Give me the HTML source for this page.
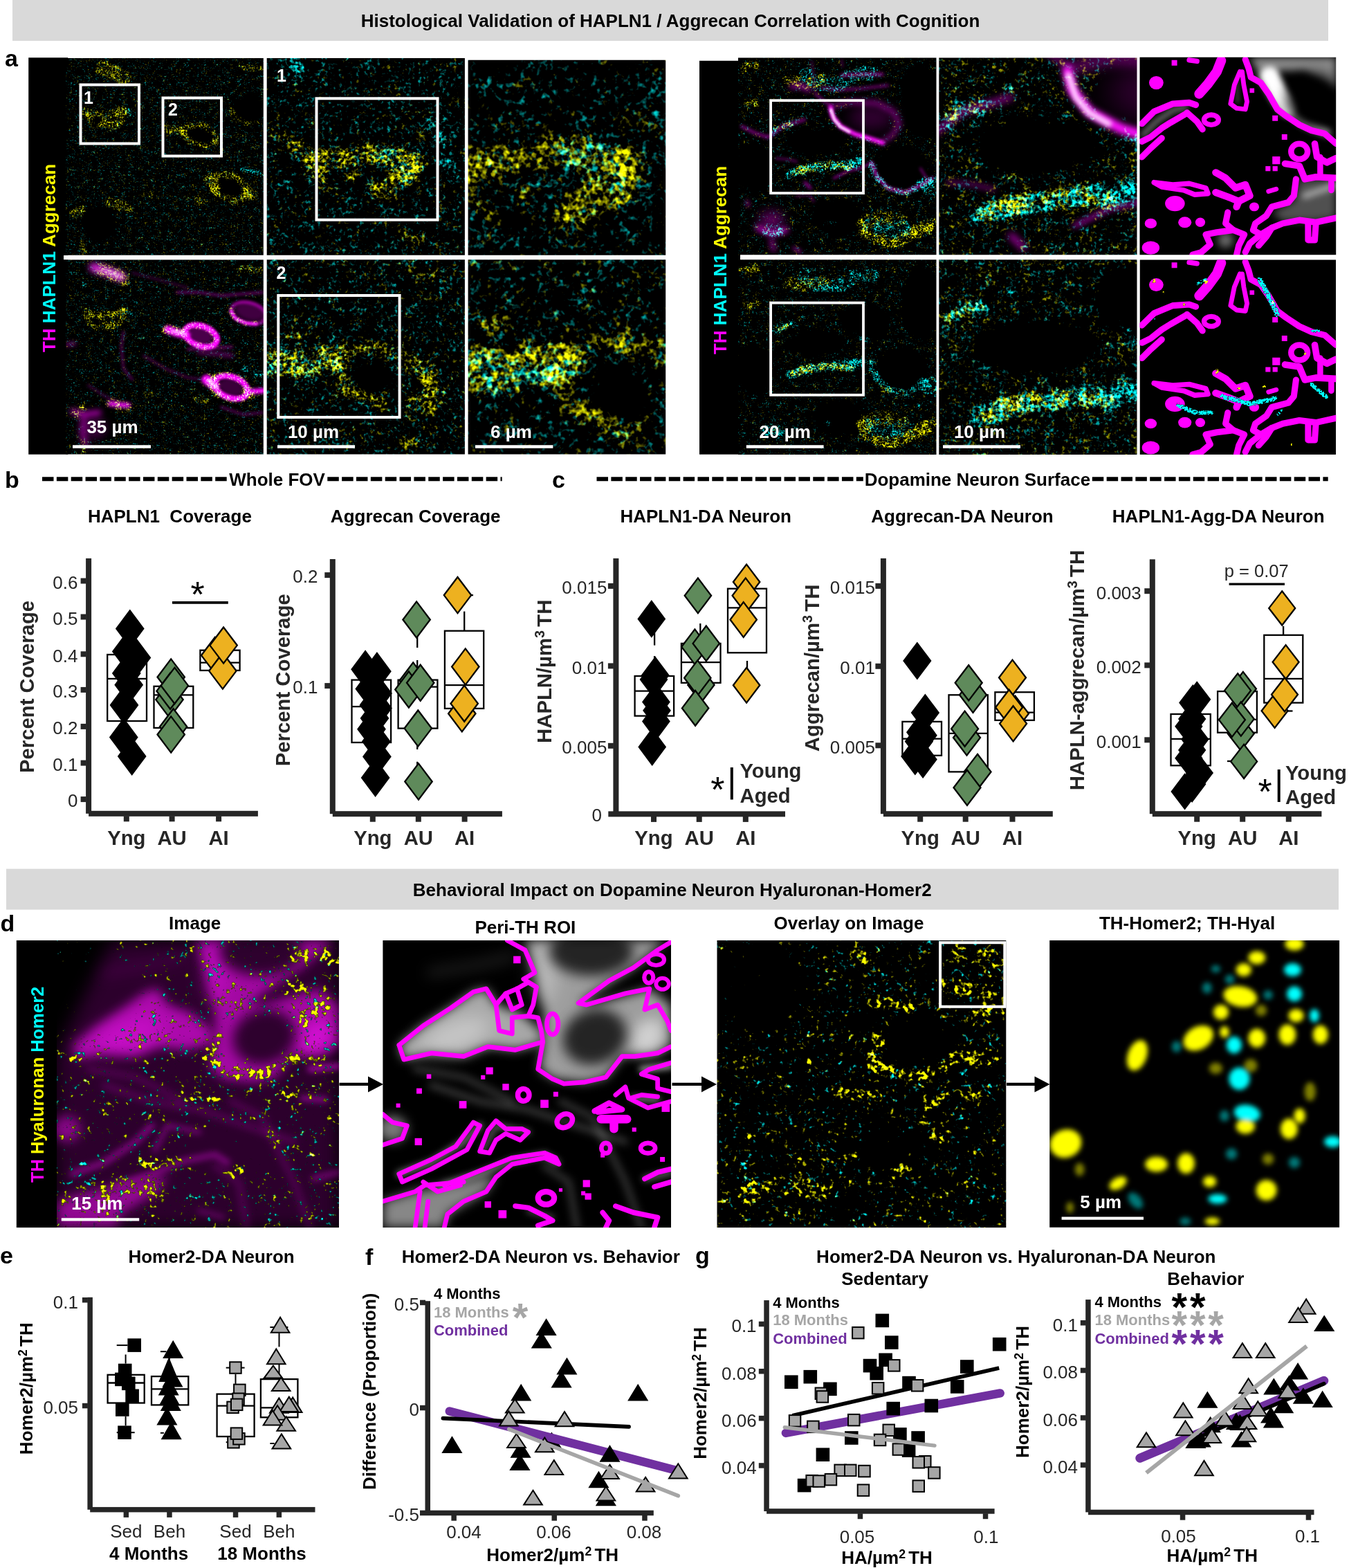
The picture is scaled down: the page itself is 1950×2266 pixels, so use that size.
<!DOCTYPE html><html><head><meta charset="utf-8"><title>Figure</title><style>html,body{margin:0;padding:0;background:#fff}body{width:1950px;height:2266px;overflow:hidden}</style></head><body><svg width="1950" height="2266" viewBox="0 0 1950 2266" font-family="'Liberation Sans', sans-serif" style="display:block"><defs><clipPath id="cp1"><rect x="95.3" y="84" width="285.5" height="284.7"/></clipPath><filter id="fl1" filterUnits="userSpaceOnUse" x="95.3" y="84" width="285.5" height="284.7" color-interpolation-filters="sRGB"><feGaussianBlur in="SourceGraphic" stdDeviation="1.6" result="d"/><feTurbulence type="fractalNoise" baseFrequency="0.42" numOctaves="2" seed="3" result="t0"/><feColorMatrix in="t0" type="matrix" values="1 0 0 0 0  0 1 0 0 0  0 0 1 0 0  0 0 0 0 1" result="t"/><feTurbulence type="fractalNoise" baseFrequency="0.120" numOctaves="2" seed="10" result="c0"/><feColorMatrix in="c0" type="matrix" values="1 0 0 0 0  0 1 0 0 0  0 0 1 0 0  0 0 0 0 1" result="c"/><feComposite in="t" in2="c" operator="arithmetic" k1="1.0" k2="0.5" k3="0" k4="0" result="t"/><feComposite in="t" in2="d" operator="arithmetic" k1="3.5" k2="0" k3="0" k4="-0.875" result="s"/><feColorMatrix in="s" type="matrix" values="1 0 1 0 0  1 1 0 0 0  0 1 1 0 0  0 0 0 0 1"/></filter><filter id="b4p1" filterUnits="userSpaceOnUse" x="65.3" y="54" width="345.5" height="344.7" color-interpolation-filters="sRGB"><feGaussianBlur stdDeviation="4"/></filter><filter id="b5p1" filterUnits="userSpaceOnUse" x="65.3" y="54" width="345.5" height="344.7" color-interpolation-filters="sRGB"><feGaussianBlur stdDeviation="5"/></filter><filter id="b3p1" filterUnits="userSpaceOnUse" x="65.3" y="54" width="345.5" height="344.7" color-interpolation-filters="sRGB"><feGaussianBlur stdDeviation="3"/></filter><filter id="b1_5p1" filterUnits="userSpaceOnUse" x="65.3" y="54" width="345.5" height="344.7" color-interpolation-filters="sRGB"><feGaussianBlur stdDeviation="1.5"/></filter><clipPath id="cp2"><rect x="95.3" y="375.2" width="285.5" height="281.3"/></clipPath><filter id="fl2" filterUnits="userSpaceOnUse" x="95.3" y="375.2" width="285.5" height="281.3" color-interpolation-filters="sRGB"><feGaussianBlur in="SourceGraphic" stdDeviation="1.6" result="d"/><feTurbulence type="fractalNoise" baseFrequency="0.42" numOctaves="2" seed="3" result="t0"/><feColorMatrix in="t0" type="matrix" values="1 0 0 0 0  0 1 0 0 0  0 0 1 0 0  0 0 0 0 1" result="t"/><feTurbulence type="fractalNoise" baseFrequency="0.120" numOctaves="2" seed="10" result="c0"/><feColorMatrix in="c0" type="matrix" values="1 0 0 0 0  0 1 0 0 0  0 0 1 0 0  0 0 0 0 1" result="c"/><feComposite in="t" in2="c" operator="arithmetic" k1="1.0" k2="0.5" k3="0" k4="0" result="t"/><feComposite in="t" in2="d" operator="arithmetic" k1="3.5" k2="0" k3="0" k4="-0.875" result="s"/><feColorMatrix in="s" type="matrix" values="1 0 1 0 0  1 1 0 0 0  0 1 1 0 0  0 0 0 0 1"/></filter><filter id="b1_5p2" filterUnits="userSpaceOnUse" x="65.3" y="345.2" width="345.5" height="341.3" color-interpolation-filters="sRGB"><feGaussianBlur stdDeviation="1.5"/></filter><filter id="b2p2" filterUnits="userSpaceOnUse" x="65.3" y="345.2" width="345.5" height="341.3" color-interpolation-filters="sRGB"><feGaussianBlur stdDeviation="2"/></filter><filter id="b3p2" filterUnits="userSpaceOnUse" x="65.3" y="345.2" width="345.5" height="341.3" color-interpolation-filters="sRGB"><feGaussianBlur stdDeviation="3"/></filter><filter id="b4p2" filterUnits="userSpaceOnUse" x="65.3" y="345.2" width="345.5" height="341.3" color-interpolation-filters="sRGB"><feGaussianBlur stdDeviation="4"/></filter><filter id="b2_5p2" filterUnits="userSpaceOnUse" x="65.3" y="345.2" width="345.5" height="341.3" color-interpolation-filters="sRGB"><feGaussianBlur stdDeviation="2.5"/></filter><filter id="b5p2" filterUnits="userSpaceOnUse" x="65.3" y="345.2" width="345.5" height="341.3" color-interpolation-filters="sRGB"><feGaussianBlur stdDeviation="5"/></filter><filter id="b6p2" filterUnits="userSpaceOnUse" x="65.3" y="345.2" width="345.5" height="341.3" color-interpolation-filters="sRGB"><feGaussianBlur stdDeviation="6"/></filter><clipPath id="cp3"><rect x="385.7" y="84" width="286.2" height="284.7"/></clipPath><filter id="fl3" filterUnits="userSpaceOnUse" x="385.7" y="84" width="286.2" height="284.7" color-interpolation-filters="sRGB"><feGaussianBlur in="SourceGraphic" stdDeviation="4" result="d"/><feTurbulence type="fractalNoise" baseFrequency="0.2" numOctaves="2" seed="11" result="t0"/><feColorMatrix in="t0" type="matrix" values="1 0 0 0 0  0 1 0 0 0  0 0 1 0 0  0 0 0 0 1" result="t"/><feTurbulence type="fractalNoise" baseFrequency="0.057" numOctaves="2" seed="18" result="c0"/><feColorMatrix in="c0" type="matrix" values="1 0 0 0 0  0 1 0 0 0  0 0 1 0 0  0 0 0 0 1" result="c"/><feComposite in="t" in2="c" operator="arithmetic" k1="1.0" k2="0.5" k3="0" k4="0" result="t"/><feComposite in="t" in2="d" operator="arithmetic" k1="4.0" k2="0" k3="0" k4="-1.000" result="s"/><feColorMatrix in="s" type="matrix" values="1 0 1 0 0  1 1 0 0 0  0 1 1 0 0  0 0 0 0 1"/></filter><clipPath id="cp4"><rect x="385.7" y="375.2" width="286.2" height="281.3"/></clipPath><filter id="fl4" filterUnits="userSpaceOnUse" x="385.7" y="375.2" width="286.2" height="281.3" color-interpolation-filters="sRGB"><feGaussianBlur in="SourceGraphic" stdDeviation="4" result="d"/><feTurbulence type="fractalNoise" baseFrequency="0.2" numOctaves="2" seed="12" result="t0"/><feColorMatrix in="t0" type="matrix" values="1 0 0 0 0  0 1 0 0 0  0 0 1 0 0  0 0 0 0 1" result="t"/><feTurbulence type="fractalNoise" baseFrequency="0.057" numOctaves="2" seed="19" result="c0"/><feColorMatrix in="c0" type="matrix" values="1 0 0 0 0  0 1 0 0 0  0 0 1 0 0  0 0 0 0 1" result="c"/><feComposite in="t" in2="c" operator="arithmetic" k1="1.0" k2="0.5" k3="0" k4="0" result="t"/><feComposite in="t" in2="d" operator="arithmetic" k1="4.0" k2="0" k3="0" k4="-1.000" result="s"/><feColorMatrix in="s" type="matrix" values="1 0 1 0 0  1 1 0 0 0  0 1 1 0 0  0 0 0 0 1"/></filter><filter id="b5p4" filterUnits="userSpaceOnUse" x="355.7" y="345.2" width="346.2" height="341.3" color-interpolation-filters="sRGB"><feGaussianBlur stdDeviation="5"/></filter><clipPath id="cp5"><rect x="676.6" y="86.8" width="285.6" height="281.9"/></clipPath><filter id="fl5" filterUnits="userSpaceOnUse" x="676.6" y="86.8" width="285.6" height="281.9" color-interpolation-filters="sRGB"><feGaussianBlur in="SourceGraphic" stdDeviation="6" result="d"/><feTurbulence type="fractalNoise" baseFrequency="0.125" numOctaves="2" seed="21" result="t0"/><feColorMatrix in="t0" type="matrix" values="1 0 0 0 0  0 1 0 0 0  0 0 1 0 0  0 0 0 0 1" result="t"/><feTurbulence type="fractalNoise" baseFrequency="0.036" numOctaves="2" seed="28" result="c0"/><feColorMatrix in="c0" type="matrix" values="1 0 0 0 0  0 1 0 0 0  0 0 1 0 0  0 0 0 0 1" result="c"/><feComposite in="t" in2="c" operator="arithmetic" k1="1.0" k2="0.5" k3="0" k4="0" result="t"/><feComposite in="t" in2="d" operator="arithmetic" k1="4.0" k2="0" k3="0" k4="-1.000" result="s"/><feColorMatrix in="s" type="matrix" values="1 0 1 0 0  1 1 0 0 0  0 1 1 0 0  0 0 0 0 1"/></filter><clipPath id="cp6"><rect x="676.6" y="375.2" width="285.6" height="281.3"/></clipPath><filter id="fl6" filterUnits="userSpaceOnUse" x="676.6" y="375.2" width="285.6" height="281.3" color-interpolation-filters="sRGB"><feGaussianBlur in="SourceGraphic" stdDeviation="6" result="d"/><feTurbulence type="fractalNoise" baseFrequency="0.125" numOctaves="2" seed="22" result="t0"/><feColorMatrix in="t0" type="matrix" values="1 0 0 0 0  0 1 0 0 0  0 0 1 0 0  0 0 0 0 1" result="t"/><feTurbulence type="fractalNoise" baseFrequency="0.036" numOctaves="2" seed="29" result="c0"/><feColorMatrix in="c0" type="matrix" values="1 0 0 0 0  0 1 0 0 0  0 0 1 0 0  0 0 0 0 1" result="c"/><feComposite in="t" in2="c" operator="arithmetic" k1="1.0" k2="0.5" k3="0" k4="0" result="t"/><feComposite in="t" in2="d" operator="arithmetic" k1="4.0" k2="0" k3="0" k4="-1.000" result="s"/><feColorMatrix in="s" type="matrix" values="1 0 1 0 0  1 1 0 0 0  0 1 1 0 0  0 0 0 0 1"/></filter><filter id="b8_2p6" filterUnits="userSpaceOnUse" x="646.6" y="345.2" width="345.6" height="341.3" color-interpolation-filters="sRGB"><feGaussianBlur stdDeviation="8.2"/></filter><clipPath id="cp7"><rect x="1067" y="83.5" width="286.5" height="284.7"/></clipPath><filter id="fl7" filterUnits="userSpaceOnUse" x="1067" y="83.5" width="286.5" height="284.7" color-interpolation-filters="sRGB"><feGaussianBlur in="SourceGraphic" stdDeviation="1.6" result="d"/><feTurbulence type="fractalNoise" baseFrequency="0.4" numOctaves="2" seed="5" result="t0"/><feColorMatrix in="t0" type="matrix" values="1 0 0 0 0  0 1 0 0 0  0 0 1 0 0  0 0 0 0 1" result="t"/><feTurbulence type="fractalNoise" baseFrequency="0.114" numOctaves="2" seed="12" result="c0"/><feColorMatrix in="c0" type="matrix" values="1 0 0 0 0  0 1 0 0 0  0 0 1 0 0  0 0 0 0 1" result="c"/><feComposite in="t" in2="c" operator="arithmetic" k1="1.2" k2="0.4" k3="0" k4="0" result="t"/><feComposite in="t" in2="d" operator="arithmetic" k1="4.0" k2="0" k3="0" k4="-1.000" result="s"/><feColorMatrix in="s" type="matrix" values="1 0 1 0 0  1 1 0 0 0  0 1 1 0 0  0 0 0 0 1"/></filter><filter id="b2p7" filterUnits="userSpaceOnUse" x="1037" y="53.5" width="346.5" height="344.7" color-interpolation-filters="sRGB"><feGaussianBlur stdDeviation="2"/></filter><filter id="b1_5p7" filterUnits="userSpaceOnUse" x="1037" y="53.5" width="346.5" height="344.7" color-interpolation-filters="sRGB"><feGaussianBlur stdDeviation="1.5"/></filter><filter id="b4p7" filterUnits="userSpaceOnUse" x="1037" y="53.5" width="346.5" height="344.7" color-interpolation-filters="sRGB"><feGaussianBlur stdDeviation="4"/></filter><filter id="b10p7" filterUnits="userSpaceOnUse" x="1037" y="53.5" width="346.5" height="344.7" color-interpolation-filters="sRGB"><feGaussianBlur stdDeviation="10"/></filter><filter id="b2_5p7" filterUnits="userSpaceOnUse" x="1037" y="53.5" width="346.5" height="344.7" color-interpolation-filters="sRGB"><feGaussianBlur stdDeviation="2.5"/></filter><filter id="b8p7" filterUnits="userSpaceOnUse" x="1037" y="53.5" width="346.5" height="344.7" color-interpolation-filters="sRGB"><feGaussianBlur stdDeviation="8"/></filter><filter id="b3p7" filterUnits="userSpaceOnUse" x="1037" y="53.5" width="346.5" height="344.7" color-interpolation-filters="sRGB"><feGaussianBlur stdDeviation="3"/></filter><clipPath id="cp8"><rect x="1067" y="375.3" width="286.5" height="281.6"/></clipPath><filter id="fl8" filterUnits="userSpaceOnUse" x="1067" y="375.3" width="286.5" height="281.6" color-interpolation-filters="sRGB"><feGaussianBlur in="SourceGraphic" stdDeviation="1.6" result="d"/><feTurbulence type="fractalNoise" baseFrequency="0.4" numOctaves="2" seed="5" result="t0"/><feColorMatrix in="t0" type="matrix" values="1 0 0 0 0  0 1 0 0 0  0 0 1 0 0  0 0 0 0 1" result="t"/><feTurbulence type="fractalNoise" baseFrequency="0.114" numOctaves="2" seed="12" result="c0"/><feColorMatrix in="c0" type="matrix" values="1 0 0 0 0  0 1 0 0 0  0 0 1 0 0  0 0 0 0 1" result="c"/><feComposite in="t" in2="c" operator="arithmetic" k1="1.2" k2="0.4" k3="0" k4="0" result="t"/><feComposite in="t" in2="d" operator="arithmetic" k1="4.0" k2="0" k3="0" k4="-1.000" result="s"/><feColorMatrix in="s" type="matrix" values="1 0 1 0 0  1 1 0 0 0  0 1 1 0 0  0 0 0 0 1"/></filter><filter id="b3p8" filterUnits="userSpaceOnUse" x="1037" y="345.3" width="346.5" height="341.6" color-interpolation-filters="sRGB"><feGaussianBlur stdDeviation="3"/></filter><filter id="b4p8" filterUnits="userSpaceOnUse" x="1037" y="345.3" width="346.5" height="341.6" color-interpolation-filters="sRGB"><feGaussianBlur stdDeviation="4"/></filter><clipPath id="cp9"><rect x="1357.3" y="83.5" width="286.2" height="284.7"/></clipPath><filter id="fl9" filterUnits="userSpaceOnUse" x="1357.3" y="83.5" width="286.2" height="284.7" color-interpolation-filters="sRGB"><feGaussianBlur in="SourceGraphic" stdDeviation="3.5" result="d"/><feTurbulence type="fractalNoise" baseFrequency="0.2" numOctaves="2" seed="6" result="t0"/><feColorMatrix in="t0" type="matrix" values="1 0 0 0 0  0 1 0 0 0  0 0 1 0 0  0 0 0 0 1" result="t"/><feTurbulence type="fractalNoise" baseFrequency="0.057" numOctaves="2" seed="13" result="c0"/><feColorMatrix in="c0" type="matrix" values="1 0 0 0 0  0 1 0 0 0  0 0 1 0 0  0 0 0 0 1" result="c"/><feComposite in="t" in2="c" operator="arithmetic" k1="1.2" k2="0.4" k3="0" k4="0" result="t"/><feComposite in="t" in2="d" operator="arithmetic" k1="4.0" k2="0" k3="0" k4="-1.000" result="s"/><feColorMatrix in="s" type="matrix" values="1 0 1 0 0  1 1 0 0 0  0 1 1 0 0  0 0 0 0 1"/></filter><filter id="b4_4p9" filterUnits="userSpaceOnUse" x="1327.3" y="53.5" width="346.2" height="344.7" color-interpolation-filters="sRGB"><feGaussianBlur stdDeviation="4.4"/></filter><filter id="b3_3p9" filterUnits="userSpaceOnUse" x="1327.3" y="53.5" width="346.2" height="344.7" color-interpolation-filters="sRGB"><feGaussianBlur stdDeviation="3.3"/></filter><filter id="b8_8p9" filterUnits="userSpaceOnUse" x="1327.3" y="53.5" width="346.2" height="344.7" color-interpolation-filters="sRGB"><feGaussianBlur stdDeviation="8.8"/></filter><filter id="b22_0p9" filterUnits="userSpaceOnUse" x="1327.3" y="53.5" width="346.2" height="344.7" color-interpolation-filters="sRGB"><feGaussianBlur stdDeviation="22.0"/></filter><filter id="b5_5p9" filterUnits="userSpaceOnUse" x="1327.3" y="53.5" width="346.2" height="344.7" color-interpolation-filters="sRGB"><feGaussianBlur stdDeviation="5.5"/></filter><filter id="b17_6p9" filterUnits="userSpaceOnUse" x="1327.3" y="53.5" width="346.2" height="344.7" color-interpolation-filters="sRGB"><feGaussianBlur stdDeviation="17.6"/></filter><filter id="b6_6p9" filterUnits="userSpaceOnUse" x="1327.3" y="53.5" width="346.2" height="344.7" color-interpolation-filters="sRGB"><feGaussianBlur stdDeviation="6.6"/></filter><clipPath id="cp10"><rect x="1357.3" y="375.3" width="286.2" height="281.6"/></clipPath><filter id="fl10" filterUnits="userSpaceOnUse" x="1357.3" y="375.3" width="286.2" height="281.6" color-interpolation-filters="sRGB"><feGaussianBlur in="SourceGraphic" stdDeviation="3.5" result="d"/><feTurbulence type="fractalNoise" baseFrequency="0.2" numOctaves="2" seed="6" result="t0"/><feColorMatrix in="t0" type="matrix" values="1 0 0 0 0  0 1 0 0 0  0 0 1 0 0  0 0 0 0 1" result="t"/><feTurbulence type="fractalNoise" baseFrequency="0.057" numOctaves="2" seed="13" result="c0"/><feColorMatrix in="c0" type="matrix" values="1 0 0 0 0  0 1 0 0 0  0 0 1 0 0  0 0 0 0 1" result="c"/><feComposite in="t" in2="c" operator="arithmetic" k1="1.2" k2="0.4" k3="0" k4="0" result="t"/><feComposite in="t" in2="d" operator="arithmetic" k1="4.0" k2="0" k3="0" k4="-1.000" result="s"/><feColorMatrix in="s" type="matrix" values="1 0 1 0 0  1 1 0 0 0  0 1 1 0 0  0 0 0 0 1"/></filter><filter id="b6_6p10" filterUnits="userSpaceOnUse" x="1327.3" y="345.3" width="346.2" height="341.6" color-interpolation-filters="sRGB"><feGaussianBlur stdDeviation="6.6"/></filter><filter id="b8_8p10" filterUnits="userSpaceOnUse" x="1327.3" y="345.3" width="346.2" height="341.6" color-interpolation-filters="sRGB"><feGaussianBlur stdDeviation="8.8"/></filter><clipPath id="cp11"><rect x="1647.5" y="82.8" width="283.7" height="285.4"/></clipPath><filter id="fl11" filterUnits="userSpaceOnUse" x="1647.5" y="82.8" width="283.7" height="285.4" color-interpolation-filters="sRGB"><feGaussianBlur in="SourceGraphic" stdDeviation="3" result="d"/><feTurbulence type="fractalNoise" baseFrequency="0.3" numOctaves="2" seed="1" result="t0"/><feColorMatrix in="t0" type="matrix" values="1 0 0 0 0  0 1 0 0 0  0 0 1 0 0  0 0 0 0 1" result="t"/><feComposite in="t" in2="d" operator="arithmetic" k1="4.0" k2="0" k3="0" k4="-1.000" result="s"/><feColorMatrix in="s" type="matrix" values="1 0 1 0 0  1 1 0 0 0  0 1 1 0 0  0 0 0 0 1"/></filter><filter id="b6p11" filterUnits="userSpaceOnUse" x="1617.5" y="52.8" width="343.7" height="345.4" color-interpolation-filters="sRGB"><feGaussianBlur stdDeviation="6"/></filter><filter id="b4p11" filterUnits="userSpaceOnUse" x="1617.5" y="52.8" width="343.7" height="345.4" color-interpolation-filters="sRGB"><feGaussianBlur stdDeviation="4"/></filter><filter id="b5p11" filterUnits="userSpaceOnUse" x="1617.5" y="52.8" width="343.7" height="345.4" color-interpolation-filters="sRGB"><feGaussianBlur stdDeviation="5"/></filter><filter id="b10p11" filterUnits="userSpaceOnUse" x="1617.5" y="52.8" width="343.7" height="345.4" color-interpolation-filters="sRGB"><feGaussianBlur stdDeviation="10"/></filter><filter id="b3p11" filterUnits="userSpaceOnUse" x="1617.5" y="52.8" width="343.7" height="345.4" color-interpolation-filters="sRGB"><feGaussianBlur stdDeviation="3"/></filter><clipPath id="cp12"><rect x="1647.5" y="375.3" width="283.7" height="281.6"/></clipPath><filter id="fl12" filterUnits="userSpaceOnUse" x="1647.5" y="375.3" width="283.7" height="281.6" color-interpolation-filters="sRGB"><feGaussianBlur in="SourceGraphic" stdDeviation="1.5" result="d"/><feTurbulence type="fractalNoise" baseFrequency="0.35" numOctaves="2" seed="9" result="t0"/><feColorMatrix in="t0" type="matrix" values="1 0 0 0 0  0 1 0 0 0  0 0 1 0 0  0 0 0 0 1" result="t"/><feComposite in="t" in2="d" operator="arithmetic" k1="8" k2="0" k3="0" k4="-2.400" result="s"/><feColorMatrix in="s" type="matrix" values="1 0 1 0 0  1 1 0 0 0  0 1 1 0 0  3 3 3 0 0"/></filter><clipPath id="cp13"><rect x="82" y="1359" width="408" height="415"/></clipPath><filter id="fl13" filterUnits="userSpaceOnUse" x="82" y="1359" width="408" height="415" color-interpolation-filters="sRGB"><feGaussianBlur in="SourceGraphic" stdDeviation="2.2" result="d"/><feTurbulence type="fractalNoise" baseFrequency="0.15" numOctaves="2" seed="31" result="t0"/><feColorMatrix in="t0" type="matrix" values="1 0 0 0 0  0 1 0 0 0  0 0 1 0 0  0 0 0 0 1" result="t"/><feTurbulence type="fractalNoise" baseFrequency="0.043" numOctaves="2" seed="38" result="c0"/><feColorMatrix in="c0" type="matrix" values="1 0 0 0 0  0 1 0 0 0  0 0 1 0 0  0 0 0 0 1" result="c"/><feComposite in="t" in2="c" operator="arithmetic" k1="0.8" k2="0.6" k3="0" k4="0" result="t"/><feComposite in="t" in2="d" operator="arithmetic" k1="12" k2="0" k3="0" k4="-2.580" result="s"/><feColorMatrix in="s" type="matrix" values="1 0 1 0 0  1 1 0 0 0  0 1 1 0 0  3 3 3 0 0"/></filter><filter id="b12p13" filterUnits="userSpaceOnUse" x="52" y="1329" width="468" height="475" color-interpolation-filters="sRGB"><feGaussianBlur stdDeviation="12"/></filter><filter id="b8p13" filterUnits="userSpaceOnUse" x="52" y="1329" width="468" height="475" color-interpolation-filters="sRGB"><feGaussianBlur stdDeviation="8"/></filter><filter id="b14p13" filterUnits="userSpaceOnUse" x="52" y="1329" width="468" height="475" color-interpolation-filters="sRGB"><feGaussianBlur stdDeviation="14"/></filter><filter id="b10p13" filterUnits="userSpaceOnUse" x="52" y="1329" width="468" height="475" color-interpolation-filters="sRGB"><feGaussianBlur stdDeviation="10"/></filter><filter id="b5p13" filterUnits="userSpaceOnUse" x="52" y="1329" width="468" height="475" color-interpolation-filters="sRGB"><feGaussianBlur stdDeviation="5"/></filter><filter id="b6p13" filterUnits="userSpaceOnUse" x="52" y="1329" width="468" height="475" color-interpolation-filters="sRGB"><feGaussianBlur stdDeviation="6"/></filter><filter id="b9p13" filterUnits="userSpaceOnUse" x="52" y="1329" width="468" height="475" color-interpolation-filters="sRGB"><feGaussianBlur stdDeviation="9"/></filter><clipPath id="cp14"><rect x="553.4" y="1359" width="416.6" height="415"/></clipPath><filter id="fl14" filterUnits="userSpaceOnUse" x="553.4" y="1359" width="416.6" height="415" color-interpolation-filters="sRGB"><feGaussianBlur in="SourceGraphic" stdDeviation="3" result="d"/><feTurbulence type="fractalNoise" baseFrequency="0.3" numOctaves="2" seed="1" result="t0"/><feColorMatrix in="t0" type="matrix" values="1 0 0 0 0  0 1 0 0 0  0 0 1 0 0  0 0 0 0 1" result="t"/><feComposite in="t" in2="d" operator="arithmetic" k1="4.0" k2="0" k3="0" k4="-1.000" result="s"/><feColorMatrix in="s" type="matrix" values="1 0 1 0 0  1 1 0 0 0  0 1 1 0 0  0 0 0 0 1"/></filter><filter id="b8p14" filterUnits="userSpaceOnUse" x="523.4" y="1329" width="476.6" height="475" color-interpolation-filters="sRGB"><feGaussianBlur stdDeviation="8"/></filter><filter id="b14p14" filterUnits="userSpaceOnUse" x="523.4" y="1329" width="476.6" height="475" color-interpolation-filters="sRGB"><feGaussianBlur stdDeviation="14"/></filter><filter id="b10p14" filterUnits="userSpaceOnUse" x="523.4" y="1329" width="476.6" height="475" color-interpolation-filters="sRGB"><feGaussianBlur stdDeviation="10"/></filter><filter id="b12p14" filterUnits="userSpaceOnUse" x="523.4" y="1329" width="476.6" height="475" color-interpolation-filters="sRGB"><feGaussianBlur stdDeviation="12"/></filter><filter id="b5p14" filterUnits="userSpaceOnUse" x="523.4" y="1329" width="476.6" height="475" color-interpolation-filters="sRGB"><feGaussianBlur stdDeviation="5"/></filter><filter id="b6p14" filterUnits="userSpaceOnUse" x="523.4" y="1329" width="476.6" height="475" color-interpolation-filters="sRGB"><feGaussianBlur stdDeviation="6"/></filter><filter id="b9p14" filterUnits="userSpaceOnUse" x="523.4" y="1329" width="476.6" height="475" color-interpolation-filters="sRGB"><feGaussianBlur stdDeviation="9"/></filter><clipPath id="cp15"><rect x="1036.5" y="1359" width="417.8" height="415"/></clipPath><filter id="fl15" filterUnits="userSpaceOnUse" x="1036.5" y="1359" width="417.8" height="415" color-interpolation-filters="sRGB"><feGaussianBlur in="SourceGraphic" stdDeviation="2.2" result="d"/><feTurbulence type="fractalNoise" baseFrequency="0.15" numOctaves="2" seed="31" result="t0"/><feColorMatrix in="t0" type="matrix" values="1 0 0 0 0  0 1 0 0 0  0 0 1 0 0  0 0 0 0 1" result="t"/><feTurbulence type="fractalNoise" baseFrequency="0.043" numOctaves="2" seed="38" result="c0"/><feColorMatrix in="c0" type="matrix" values="1 0 0 0 0  0 1 0 0 0  0 0 1 0 0  0 0 0 0 1" result="c"/><feComposite in="t" in2="c" operator="arithmetic" k1="0.8" k2="0.6" k3="0" k4="0" result="t"/><feComposite in="t" in2="d" operator="arithmetic" k1="12" k2="0" k3="0" k4="-2.580" result="s"/><feColorMatrix in="s" type="matrix" values="1 0 1 0 0  1 1 0 0 0  0 1 1 0 0  0 0 0 0 1"/></filter><filter id="b8p15" filterUnits="userSpaceOnUse" x="1006.5" y="1329" width="477.8" height="475" color-interpolation-filters="sRGB"><feGaussianBlur stdDeviation="8"/></filter><filter id="b10p15" filterUnits="userSpaceOnUse" x="1006.5" y="1329" width="477.8" height="475" color-interpolation-filters="sRGB"><feGaussianBlur stdDeviation="10"/></filter><clipPath id="cp16"><rect x="1517.2" y="1359" width="418.9" height="414.8"/></clipPath><filter id="fl16" filterUnits="userSpaceOnUse" x="1517.2" y="1359" width="418.9" height="414.8" color-interpolation-filters="sRGB"><feGaussianBlur in="SourceGraphic" stdDeviation="3" result="d"/><feTurbulence type="fractalNoise" baseFrequency="0.3" numOctaves="2" seed="1" result="t0"/><feColorMatrix in="t0" type="matrix" values="1 0 0 0 0  0 1 0 0 0  0 0 1 0 0  0 0 0 0 1" result="t"/><feComposite in="t" in2="d" operator="arithmetic" k1="4.0" k2="0" k3="0" k4="-1.000" result="s"/><feColorMatrix in="s" type="matrix" values="1 0 1 0 0  1 1 0 0 0  0 1 1 0 0  0 0 0 0 1"/></filter><filter id="b3_8p16" filterUnits="userSpaceOnUse" x="1487.2" y="1329" width="478.9" height="474.8" color-interpolation-filters="sRGB"><feGaussianBlur stdDeviation="3.8"/></filter></defs><rect x="18" y="0" width="1902" height="59" fill="#d9d9d9"/>
<text x="969" y="39" font-size="26" font-weight="bold" text-anchor="middle">Histological Validation of HAPLN1 / Aggrecan Correlation with Cognition</text>
<text x="7" y="705" font-size="34" font-weight="bold">b</text>
<line x1="61" y1="692.2" x2="329.4" y2="692.2" stroke="#000" stroke-width="6" stroke-dasharray="16.5 4.35"/>
<line x1="473.3" y1="692.2" x2="725.7" y2="692.2" stroke="#000" stroke-width="6" stroke-dasharray="16.5 4.35"/>
<text x="400.6" y="702.4" font-size="26" font-weight="bold" text-anchor="middle">Whole FOV</text>
<text x="245.4" y="755.2" font-size="26" font-weight="bold" text-anchor="middle" xml:space="preserve">HAPLN1  Coverage</text>
<text x="600.7" y="755.2" font-size="26" font-weight="bold" text-anchor="middle">Aggrecan Coverage</text>
<text x="798" y="705" font-size="34" font-weight="bold">c</text>
<line x1="862.5" y1="692.2" x2="1247.8" y2="692.2" stroke="#000" stroke-width="6" stroke-dasharray="16.5 4.35"/>
<line x1="1578.8" y1="692.2" x2="1919.7" y2="692.2" stroke="#000" stroke-width="6" stroke-dasharray="16.5 4.35"/>
<text x="1412.9" y="702.4" font-size="26" font-weight="bold" text-anchor="middle">Dopamine Neuron Surface</text>
<text x="1020.2" y="755.2" font-size="26" font-weight="bold" text-anchor="middle">HAPLN1-DA Neuron</text>
<text x="1391" y="755.2" font-size="26" font-weight="bold" text-anchor="middle">Aggrecan-DA Neuron</text>
<text x="1761.2" y="755.2" font-size="26" font-weight="bold" text-anchor="middle">HAPLN1-Agg-DA Neuron</text>
<rect x="124.1" y="806.9" width="8" height="368.9" fill="#262626"/>
<rect x="128.1" y="1171.8" width="244.8" height="8" fill="#262626"/>
<rect x="116.6" y="835.5" width="8" height="8" fill="#262626"/>
<rect x="116.6" y="887.5" width="8" height="8" fill="#262626"/>
<rect x="116.6" y="941.3" width="8" height="8" fill="#262626"/>
<rect x="116.6" y="992.9" width="8" height="8" fill="#262626"/>
<rect x="116.6" y="1045.9" width="8" height="8" fill="#262626"/>
<rect x="116.6" y="1098.6" width="8" height="8" fill="#262626"/>
<rect x="116.6" y="1151.1" width="8" height="8" fill="#262626"/>
<rect x="178.8" y="1179.3" width="8" height="8" fill="#262626"/>
<text x="182.8" y="1220.5" font-size="29.3" font-weight="bold" text-anchor="middle" fill="#262626">Yng</text>
<rect x="244.6" y="1179.3" width="8" height="8" fill="#262626"/>
<text x="248.6" y="1220.5" font-size="29.3" font-weight="bold" text-anchor="middle" fill="#262626">AU</text>
<rect x="312.1" y="1179.3" width="8" height="8" fill="#262626"/>
<text x="316.1" y="1220.5" font-size="29.3" font-weight="bold" text-anchor="middle" fill="#262626">AI</text>
<text x="112.4" y="850.8" font-size="26" text-anchor="end" fill="#262626">0.6</text>
<text x="112.4" y="902.8" font-size="26" text-anchor="end" fill="#262626">0.5</text>
<text x="112.4" y="956.6" font-size="26" text-anchor="end" fill="#262626">0.4</text>
<text x="112.4" y="1008.2" font-size="26" text-anchor="end" fill="#262626">0.3</text>
<text x="112.4" y="1061.2" font-size="26" text-anchor="end" fill="#262626">0.2</text>
<text x="112.4" y="1113.9" font-size="26" text-anchor="end" fill="#262626">0.1</text>
<text x="112.4" y="1166.4" font-size="26" text-anchor="end" fill="#262626">0</text>
<text x="48.9" y="992.5" font-size="29.3" font-weight="bold" text-anchor="middle" fill="#262626" transform="rotate(-90 48.9 992.5)">Percent Coverage</text>
<rect x="155.2" y="946" width="56.8" height="96" fill="#fff" stroke="#000" stroke-width="2.3"/>
<line x1="155.2" y1="980.8" x2="212" y2="980.8" stroke="#000" stroke-width="2.3"/>
<rect x="222.5" y="991.8" width="56.8" height="60.1" fill="#fff" stroke="#000" stroke-width="2.3"/>
<line x1="222.5" y1="1004.3" x2="279.3" y2="1004.3" stroke="#000" stroke-width="2.3"/>
<rect x="289.4" y="939.7" width="57.2" height="29.2" fill="#fff" stroke="#000" stroke-width="2.3"/>
<line x1="289.4" y1="957.7" x2="346.6" y2="957.7" stroke="#000" stroke-width="2.3"/>
<path d="M187.8 880.4L208.7 908.5L187.8 936.6L166.9 908.5Z" fill="#000"/>
<path d="M182.8 913.4L203.7 941.5L182.8 969.6L161.9 941.5Z" fill="#000"/>
<path d="M197.4 922.4L218.3 950.5L197.4 978.6L176.5 950.5Z" fill="#000"/>
<path d="M182.8 944.8L203.7 972.9L182.8 1001L161.9 972.9Z" fill="#000"/>
<path d="M186.2 961.7L207.1 989.8L186.2 1017.9L165.3 989.8Z" fill="#000"/>
<path d="M179.5 990.8L200.4 1018.9L179.5 1047L158.6 1018.9Z" fill="#000"/>
<path d="M178.8 1037.3L199.7 1065.4L178.8 1093.5L157.9 1065.4Z" fill="#000"/>
<path d="M190.7 1064.9L211.6 1093L190.7 1121.1L169.8 1093Z" fill="#000"/>
<path d="M247.2 952.4L266.9 978.5L247.2 1004.6L227.5 978.5Z" fill="#5f8a5b" stroke="#000" stroke-width="2.3" stroke-linejoin="miter"/>
<path d="M245 985L264.7 1011.1L245 1037.2L225.3 1011.1Z" fill="#5f8a5b" stroke="#000" stroke-width="2.3" stroke-linejoin="miter"/>
<path d="M246.1 972.6L265.8 998.7L246.1 1024.8L226.4 998.7Z" fill="#5f8a5b" stroke="#000" stroke-width="2.3" stroke-linejoin="miter"/>
<path d="M252.4 964.8L272.1 990.9L252.4 1017L232.7 990.9Z" fill="#5f8a5b" stroke="#000" stroke-width="2.3" stroke-linejoin="miter"/>
<path d="M250.6 1024.2L270.3 1050.3L250.6 1076.4L230.9 1050.3Z" fill="#5f8a5b" stroke="#000" stroke-width="2.3" stroke-linejoin="miter"/>
<path d="M247.2 1035.4L266.9 1061.5L247.2 1087.6L227.5 1061.5Z" fill="#5f8a5b" stroke="#000" stroke-width="2.3" stroke-linejoin="miter"/>
<path d="M310.7 921L330.4 947.1L310.7 973.2L291 947.1Z" fill="#edb120" stroke="#000" stroke-width="2.3" stroke-linejoin="miter"/>
<path d="M321.9 943.5L341.6 969.6L321.9 995.7L302.2 969.6Z" fill="#edb120" stroke="#000" stroke-width="2.3" stroke-linejoin="miter"/>
<path d="M323.1 906.5L342.8 932.6L323.1 958.7L303.4 932.6Z" fill="#edb120" stroke="#000" stroke-width="2.3" stroke-linejoin="miter"/>
<line x1="249" y1="870.9" x2="329.8" y2="870.9" stroke="#000" stroke-width="3.6"/>
<text x="285.6" y="877" font-size="52" text-anchor="middle">*</text>
<rect x="476.8" y="808" width="8" height="368.2" fill="#262626"/>
<rect x="480.8" y="1172.2" width="245.1" height="8" fill="#262626"/>
<rect x="469.3" y="827.1" width="8" height="8" fill="#262626"/>
<rect x="469.3" y="987.1" width="8" height="8" fill="#262626"/>
<rect x="534.8" y="1179.7" width="8" height="8" fill="#262626"/>
<text x="538.8" y="1220.5" font-size="29.3" font-weight="bold" text-anchor="middle" fill="#262626">Yng</text>
<rect x="600.8" y="1179.7" width="8" height="8" fill="#262626"/>
<text x="604.8" y="1220.5" font-size="29.3" font-weight="bold" text-anchor="middle" fill="#262626">AU</text>
<rect x="667.6" y="1179.7" width="8" height="8" fill="#262626"/>
<text x="671.6" y="1220.5" font-size="29.3" font-weight="bold" text-anchor="middle" fill="#262626">AI</text>
<text x="459.4" y="842.4" font-size="26" text-anchor="end" fill="#262626">0.2</text>
<text x="459.4" y="1002.4" font-size="26" text-anchor="end" fill="#262626">0.1</text>
<text x="419.3" y="982.7" font-size="29.3" font-weight="bold" text-anchor="middle" fill="#262626" transform="rotate(-90 419.3 982.7)">Percent Coverage</text>
<line x1="603.2" y1="918.6" x2="603.2" y2="936" stroke="#000" stroke-width="2.3"/>
<line x1="603.2" y1="954" x2="603.2" y2="966" stroke="#000" stroke-width="2.3"/>
<line x1="603.2" y1="1073.9" x2="603.2" y2="1083" stroke="#000" stroke-width="2.3"/>
<line x1="603.2" y1="1100.8" x2="603.2" y2="1107.5" stroke="#000" stroke-width="2.3"/>
<line x1="671.2" y1="883.6" x2="671.2" y2="911.7" stroke="#000" stroke-width="2.3"/>
<line x1="680" y1="860.1" x2="684" y2="860.1" stroke="#000" stroke-width="2.3"/>
<rect x="508.5" y="982.6" width="56.6" height="90.4" fill="#fff" stroke="#000" stroke-width="2.3"/>
<line x1="508.5" y1="1021.2" x2="565.1" y2="1021.2" stroke="#000" stroke-width="2.3"/>
<rect x="575.6" y="982.6" width="56.8" height="70" fill="#fff" stroke="#000" stroke-width="2.3"/>
<line x1="575.6" y1="992.7" x2="632.4" y2="992.7" stroke="#000" stroke-width="2.3"/>
<rect x="642.9" y="911.7" width="56.3" height="112.2" fill="#fff" stroke="#000" stroke-width="2.3"/>
<line x1="642.9" y1="990.2" x2="699.2" y2="990.2" stroke="#000" stroke-width="2.3"/>
<path d="M528.1 939.2L549 967.3L528.1 995.4L507.2 967.3Z" fill="#000"/>
<path d="M544.9 942.1L565.8 970.2L544.9 998.3L524 970.2Z" fill="#000"/>
<path d="M534.3 967.3L555.2 995.4L534.3 1023.5L513.4 995.4Z" fill="#000"/>
<path d="M540.4 990.8L561.3 1018.9L540.4 1047L519.5 1018.9Z" fill="#000"/>
<path d="M546 995.3L566.9 1023.4L546 1051.5L525.1 1023.4Z" fill="#000"/>
<path d="M537 1025.6L557.9 1053.7L537 1081.8L516.1 1053.7Z" fill="#000"/>
<path d="M544.9 1065.3L565.8 1093.4L544.9 1121.5L524 1093.4Z" fill="#000"/>
<path d="M542.6 1095.8L563.5 1123.9L542.6 1152L521.7 1123.9Z" fill="#000"/>
<path d="M546 974L566.9 1002.1L546 1030.2L525.1 1002.1Z" fill="#000"/>
<path d="M541.5 1009.9L562.4 1038L541.5 1066.1L520.6 1038Z" fill="#000"/>
<path d="M543.8 1043.5L564.7 1071.6L543.8 1099.7L522.9 1071.6Z" fill="#000"/>
<path d="M602.1 869.4L621.8 895.5L602.1 921.6L582.4 895.5Z" fill="#5f8a5b" stroke="#000" stroke-width="2.3" stroke-linejoin="miter"/>
<path d="M597.2 957.4L616.9 983.5L597.2 1009.6L577.5 983.5Z" fill="#5f8a5b" stroke="#000" stroke-width="2.3" stroke-linejoin="miter"/>
<path d="M590.9 970.4L610.6 996.5L590.9 1022.6L571.2 996.5Z" fill="#5f8a5b" stroke="#000" stroke-width="2.3" stroke-linejoin="miter"/>
<path d="M607.7 960.7L627.4 986.8L607.7 1012.9L588 986.8Z" fill="#5f8a5b" stroke="#000" stroke-width="2.3" stroke-linejoin="miter"/>
<path d="M604.3 1026.5L624 1052.6L604.3 1078.7L584.6 1052.6Z" fill="#5f8a5b" stroke="#000" stroke-width="2.3" stroke-linejoin="miter"/>
<path d="M605 1103.4L624.7 1129.5L605 1155.6L585.3 1129.5Z" fill="#5f8a5b" stroke="#000" stroke-width="2.3" stroke-linejoin="miter"/>
<path d="M661.5 834L681.2 860.1L661.5 886.2L641.8 860.1Z" fill="#edb120" stroke="#000" stroke-width="2.3" stroke-linejoin="miter"/>
<path d="M672.8 937.4L692.5 963.5L672.8 989.6L653.1 963.5Z" fill="#edb120" stroke="#000" stroke-width="2.3" stroke-linejoin="miter"/>
<path d="M667.8 1005.2L687.5 1031.3L667.8 1057.4L648.1 1031.3Z" fill="#edb120" stroke="#000" stroke-width="2.3" stroke-linejoin="miter"/>
<path d="M671.2 990.6L690.9 1016.7L671.2 1042.8L651.5 1016.7Z" fill="#edb120" stroke="#000" stroke-width="2.3" stroke-linejoin="miter"/>
<rect x="886.4" y="806.9" width="8" height="369.5" fill="#262626"/>
<rect x="879.3" y="1172.4" width="255.7" height="8" fill="#262626"/>
<rect x="878.9" y="842.9" width="8" height="8" fill="#262626"/>
<rect x="878.9" y="958.4" width="8" height="8" fill="#262626"/>
<rect x="878.9" y="1073.8" width="8" height="8" fill="#262626"/>
<rect x="941" y="1179.9" width="8" height="8" fill="#262626"/>
<text x="945" y="1220.5" font-size="29.3" font-weight="bold" text-anchor="middle" fill="#262626">Yng</text>
<rect x="1006.7" y="1179.9" width="8" height="8" fill="#262626"/>
<text x="1010.7" y="1220.5" font-size="29.3" font-weight="bold" text-anchor="middle" fill="#262626">AU</text>
<rect x="1073.8" y="1179.9" width="8" height="8" fill="#262626"/>
<text x="1077.8" y="1220.5" font-size="29.3" font-weight="bold" text-anchor="middle" fill="#262626">AI</text>
<text x="877.4" y="858.2" font-size="26" text-anchor="end" fill="#262626">0.015</text>
<text x="877.4" y="973.7" font-size="26" text-anchor="end" fill="#262626">0.01</text>
<text x="877.4" y="1089.1" font-size="26" text-anchor="end" fill="#262626">0.005</text>
<text x="870" y="1187.3" font-size="26" text-anchor="end" fill="#262626">0</text>
<text x="796.9" y="970.3" font-size="29.3" font-weight="bold" text-anchor="middle" fill="#262626" transform="rotate(-90 796.9 970.3)">HAPLN/µm<tspan font-size="19.9" dy="-10">3</tspan><tspan dy="10" dx="-3"> TH</tspan></text>
<line x1="946.1" y1="914.6" x2="946.1" y2="932.6" stroke="#000" stroke-width="2.3"/>
<line x1="946.1" y1="948" x2="946.1" y2="958" stroke="#000" stroke-width="2.3"/>
<line x1="1012.3" y1="901" x2="1012.3" y2="929.9" stroke="#000" stroke-width="2.3"/>
<line x1="1080" y1="955" x2="1080" y2="967" stroke="#000" stroke-width="2.3"/>
<rect x="917.6" y="977" width="56.5" height="57.6" fill="#fff" stroke="#000" stroke-width="2.3"/>
<line x1="917.6" y1="998.7" x2="974.1" y2="998.7" stroke="#000" stroke-width="2.3"/>
<rect x="984.9" y="929.9" width="56.6" height="56.9" fill="#fff" stroke="#000" stroke-width="2.3"/>
<line x1="984.9" y1="957.2" x2="1041.5" y2="957.2" stroke="#000" stroke-width="2.3"/>
<rect x="1052" y="850.7" width="56" height="92.6" fill="#fff" stroke="#000" stroke-width="2.3"/>
<line x1="1052" y1="878.3" x2="1108" y2="878.3" stroke="#000" stroke-width="2.3"/>
<path d="M941.8 867L962.2 894.4L941.8 921.8L921.4 894.4Z" fill="#000"/>
<path d="M947.2 948.4L967.6 975.8L947.2 1003.2L926.8 975.8Z" fill="#000"/>
<path d="M945 954.5L965.4 981.9L945 1009.3L924.6 981.9Z" fill="#000"/>
<path d="M948.4 987L968.8 1014.4L948.4 1041.8L928 1014.4Z" fill="#000"/>
<path d="M949.5 999.4L969.9 1026.8L949.5 1054.2L929.1 1026.8Z" fill="#000"/>
<path d="M948.4 1015.1L968.8 1042.5L948.4 1069.9L928 1042.5Z" fill="#000"/>
<path d="M942.7 1052.1L963.1 1079.5L942.7 1106.9L922.3 1079.5Z" fill="#000"/>
<path d="M1008.9 835.4L1028.1 860.8L1008.9 886.2L989.7 860.8Z" fill="#5f8a5b" stroke="#000" stroke-width="2.3" stroke-linejoin="miter"/>
<path d="M1004.4 909.4L1023.6 934.8L1004.4 960.2L985.2 934.8Z" fill="#5f8a5b" stroke="#000" stroke-width="2.3" stroke-linejoin="miter"/>
<path d="M1020.8 904.5L1040 929.9L1020.8 955.3L1001.6 929.9Z" fill="#5f8a5b" stroke="#000" stroke-width="2.3" stroke-linejoin="miter"/>
<path d="M1013.4 964.4L1032.6 989.8L1013.4 1015.2L994.2 989.8Z" fill="#5f8a5b" stroke="#000" stroke-width="2.3" stroke-linejoin="miter"/>
<path d="M1008.3 954.3L1027.5 979.7L1008.3 1005.1L989.1 979.7Z" fill="#5f8a5b" stroke="#000" stroke-width="2.3" stroke-linejoin="miter"/>
<path d="M1005.1 998L1024.3 1023.4L1005.1 1048.8L985.9 1023.4Z" fill="#5f8a5b" stroke="#000" stroke-width="2.3" stroke-linejoin="miter"/>
<path d="M1079.1 815.6L1098.3 841L1079.1 866.4L1059.9 841Z" fill="#edb120" stroke="#000" stroke-width="2.3" stroke-linejoin="miter"/>
<path d="M1077.8 835.4L1097 860.8L1077.8 886.2L1058.6 860.8Z" fill="#edb120" stroke="#000" stroke-width="2.3" stroke-linejoin="miter"/>
<path d="M1074.7 870.1L1093.9 895.5L1074.7 920.9L1055.5 895.5Z" fill="#edb120" stroke="#000" stroke-width="2.3" stroke-linejoin="miter"/>
<path d="M1079.1 964.8L1098.3 990.2L1079.1 1015.6L1059.9 990.2Z" fill="#edb120" stroke="#000" stroke-width="2.3" stroke-linejoin="miter"/>
<text x="1037.4" y="1159" font-size="52" text-anchor="middle">*</text>
<line x1="1057.8" y1="1109" x2="1057.8" y2="1155.5" stroke="#000" stroke-width="4"/>
<text x="1069.5" y="1124" font-size="29.3" font-weight="bold" fill="#262626">Young</text>
<text x="1069.5" y="1159.5" font-size="29.3" font-weight="bold" fill="#262626">Aged</text>
<rect x="1272.9" y="806.9" width="8" height="369.3" fill="#262626"/>
<rect x="1276.9" y="1172.2" width="244.9" height="8" fill="#262626"/>
<rect x="1265.4" y="842.9" width="8" height="8" fill="#262626"/>
<rect x="1265.4" y="958.8" width="8" height="8" fill="#262626"/>
<rect x="1265.4" y="1073.3" width="8" height="8" fill="#262626"/>
<rect x="1326.2" y="1179.7" width="8" height="8" fill="#262626"/>
<text x="1330.2" y="1220.5" font-size="29.3" font-weight="bold" text-anchor="middle" fill="#262626">Yng</text>
<rect x="1391.7" y="1179.7" width="8" height="8" fill="#262626"/>
<text x="1395.7" y="1220.5" font-size="29.3" font-weight="bold" text-anchor="middle" fill="#262626">AU</text>
<rect x="1459.5" y="1179.7" width="8" height="8" fill="#262626"/>
<text x="1463.5" y="1220.5" font-size="29.3" font-weight="bold" text-anchor="middle" fill="#262626">AI</text>
<text x="1264.9" y="858.2" font-size="26" text-anchor="end" fill="#262626">0.015</text>
<text x="1264.9" y="974.1" font-size="26" text-anchor="end" fill="#262626">0.01</text>
<text x="1264.9" y="1088.6" font-size="26" text-anchor="end" fill="#262626">0.005</text>
<text x="1184.2" y="965.4" font-size="29.3" font-weight="bold" text-anchor="middle" fill="#262626" transform="rotate(-90 1184.2 965.4)">Aggrecan/µm<tspan font-size="19.9" dy="-10">3</tspan><tspan dy="10" dx="-3"> TH</tspan></text>
<rect x="1304.4" y="1042.9" width="56.6" height="48.9" fill="#fff" stroke="#000" stroke-width="2.3"/>
<line x1="1304.4" y1="1067.6" x2="1361" y2="1067.6" stroke="#000" stroke-width="2.3"/>
<rect x="1371.5" y="1004.3" width="56.3" height="111.1" fill="#fff" stroke="#000" stroke-width="2.3"/>
<line x1="1371.5" y1="1059.8" x2="1427.8" y2="1059.8" stroke="#000" stroke-width="2.3"/>
<rect x="1438.4" y="1000.3" width="56.5" height="40.6" fill="#fff" stroke="#000" stroke-width="2.3"/>
<line x1="1438.4" y1="1029.7" x2="1494.9" y2="1029.7" stroke="#000" stroke-width="2.3"/>
<path d="M1325.8 927.4L1346.5 955L1325.8 982.6L1305.1 955Z" fill="#000"/>
<path d="M1337.4 1002.5L1358.1 1030.1L1337.4 1057.7L1316.7 1030.1Z" fill="#000"/>
<path d="M1330.7 1030.6L1351.4 1058.2L1330.7 1085.8L1310 1058.2Z" fill="#000"/>
<path d="M1334.1 1035.1L1354.8 1062.7L1334.1 1090.3L1313.4 1062.7Z" fill="#000"/>
<path d="M1328.4 1044L1349.1 1071.6L1328.4 1099.2L1307.7 1071.6Z" fill="#000"/>
<path d="M1322.8 1065.4L1343.5 1093L1322.8 1120.6L1302.1 1093Z" fill="#000"/>
<path d="M1334.1 1069.8L1354.8 1097.4L1334.1 1125L1313.4 1097.4Z" fill="#000"/>
<path d="M1406.5 978.7L1426 1004.3L1406.5 1029.9L1387 1004.3Z" fill="#5f8a5b" stroke="#000" stroke-width="2.3" stroke-linejoin="miter"/>
<path d="M1400.2 961.2L1419.7 986.8L1400.2 1012.4L1380.7 986.8Z" fill="#5f8a5b" stroke="#000" stroke-width="2.3" stroke-linejoin="miter"/>
<path d="M1397.5 1040.4L1417 1066L1397.5 1091.6L1378 1066Z" fill="#5f8a5b" stroke="#000" stroke-width="2.3" stroke-linejoin="miter"/>
<path d="M1394.6 1027.6L1414.1 1053.2L1394.6 1078.8L1375.1 1053.2Z" fill="#5f8a5b" stroke="#000" stroke-width="2.3" stroke-linejoin="miter"/>
<path d="M1413 1089.8L1432.5 1115.4L1413 1141L1393.5 1115.4Z" fill="#5f8a5b" stroke="#000" stroke-width="2.3" stroke-linejoin="miter"/>
<path d="M1398 1112.7L1417.5 1138.3L1398 1163.9L1378.5 1138.3Z" fill="#5f8a5b" stroke="#000" stroke-width="2.3" stroke-linejoin="miter"/>
<path d="M1463.5 953.6L1483 979.2L1463.5 1004.8L1444 979.2Z" fill="#edb120" stroke="#000" stroke-width="2.3" stroke-linejoin="miter"/>
<path d="M1467.5 1005.7L1487 1031.3L1467.5 1056.9L1448 1031.3Z" fill="#edb120" stroke="#000" stroke-width="2.3" stroke-linejoin="miter"/>
<path d="M1458.6 996.7L1478.1 1022.3L1458.6 1047.9L1439.1 1022.3Z" fill="#edb120" stroke="#000" stroke-width="2.3" stroke-linejoin="miter"/>
<path d="M1464.6 1020.2L1484.1 1045.8L1464.6 1071.4L1445.1 1045.8Z" fill="#edb120" stroke="#000" stroke-width="2.3" stroke-linejoin="miter"/>
<rect x="1661.8" y="808.3" width="8" height="367.9" fill="#262626"/>
<rect x="1665.8" y="1172.2" width="244.6" height="8" fill="#262626"/>
<rect x="1654.3" y="850.2" width="8" height="8" fill="#262626"/>
<rect x="1654.3" y="957.4" width="8" height="8" fill="#262626"/>
<rect x="1654.3" y="1065.3" width="8" height="8" fill="#262626"/>
<rect x="1726.2" y="1179.7" width="8" height="8" fill="#262626"/>
<text x="1730.2" y="1220.5" font-size="29.3" font-weight="bold" text-anchor="middle" fill="#262626">Yng</text>
<rect x="1792.2" y="1179.7" width="8" height="8" fill="#262626"/>
<text x="1796.2" y="1220.5" font-size="29.3" font-weight="bold" text-anchor="middle" fill="#262626">AU</text>
<rect x="1858.8" y="1179.7" width="8" height="8" fill="#262626"/>
<text x="1862.8" y="1220.5" font-size="29.3" font-weight="bold" text-anchor="middle" fill="#262626">AI</text>
<text x="1649.8" y="865.5" font-size="26" text-anchor="end" fill="#262626">0.003</text>
<text x="1649.8" y="972.7" font-size="26" text-anchor="end" fill="#262626">0.002</text>
<text x="1649.8" y="1080.6" font-size="26" text-anchor="end" fill="#262626">0.001</text>
<text x="1567.2" y="968.5" font-size="29.3" font-weight="bold" text-anchor="middle" fill="#262626" transform="rotate(-90 1567.2 968.5)">HAPLN-aggrecan/µm<tspan font-size="19.9" dy="-10">3</tspan><tspan dy="10" dx="-3"> TH</tspan></text>
<line x1="1855.1" y1="904.8" x2="1855.1" y2="917.8" stroke="#000" stroke-width="2.3"/>
<line x1="1860" y1="1027.5" x2="1868.5" y2="1027.5" stroke="#000" stroke-width="2.3"/>
<line x1="1774" y1="1100" x2="1780" y2="1100" stroke="#000" stroke-width="2.3"/>
<rect x="1692.5" y="1032" width="57.3" height="74.3" fill="#fff" stroke="#000" stroke-width="2.3"/>
<line x1="1692.5" y1="1067.9" x2="1749.8" y2="1067.9" stroke="#000" stroke-width="2.3"/>
<rect x="1760.1" y="999.1" width="56.8" height="59.6" fill="#fff" stroke="#000" stroke-width="2.3"/>
<line x1="1760.1" y1="1039.8" x2="1816.9" y2="1039.8" stroke="#000" stroke-width="2.3"/>
<rect x="1827.3" y="917.8" width="56" height="97.8" fill="#fff" stroke="#000" stroke-width="2.3"/>
<line x1="1827.3" y1="980.9" x2="1883.3" y2="980.9" stroke="#000" stroke-width="2.3"/>
<path d="M1730.2 984.2L1750.4 1010.8L1730.2 1037.4L1710 1010.8Z" fill="#000"/>
<path d="M1724.3 989L1744.5 1015.6L1724.3 1042.2L1704.1 1015.6Z" fill="#000"/>
<path d="M1718.4 1023.1L1738.6 1049.7L1718.4 1076.3L1698.2 1049.7Z" fill="#000"/>
<path d="M1727.4 1042L1747.6 1068.6L1727.4 1095.2L1707.2 1068.6Z" fill="#000"/>
<path d="M1718.4 1069.1L1738.6 1095.7L1718.4 1122.3L1698.2 1095.7Z" fill="#000"/>
<path d="M1733.8 1090.3L1754 1116.9L1733.8 1143.5L1713.6 1116.9Z" fill="#000"/>
<path d="M1712.6 1117.3L1732.8 1143.9L1712.6 1170.5L1692.4 1143.9Z" fill="#000"/>
<path d="M1723.2 1106.7L1743.4 1133.3L1723.2 1159.9L1703 1133.3Z" fill="#000"/>
<path d="M1723.2 1012.5L1743.4 1039.1L1723.2 1065.7L1703 1039.1Z" fill="#000"/>
<path d="M1723.2 1057.3L1743.4 1083.9L1723.2 1110.5L1703 1083.9Z" fill="#000"/>
<path d="M1796.9 970.9L1815.9 995.5L1796.9 1020.1L1777.9 995.5Z" fill="#5f8a5b" stroke="#000" stroke-width="2.3" stroke-linejoin="miter"/>
<path d="M1789.1 973.3L1808.1 997.9L1789.1 1022.5L1770.1 997.9Z" fill="#5f8a5b" stroke="#000" stroke-width="2.3" stroke-linejoin="miter"/>
<path d="M1793.8 1035.7L1812.8 1060.3L1793.8 1084.9L1774.8 1060.3Z" fill="#5f8a5b" stroke="#000" stroke-width="2.3" stroke-linejoin="miter"/>
<path d="M1793.8 1014.5L1812.8 1039.1L1793.8 1063.7L1774.8 1039.1Z" fill="#5f8a5b" stroke="#000" stroke-width="2.3" stroke-linejoin="miter"/>
<path d="M1780.9 1015.7L1799.9 1040.3L1780.9 1064.9L1761.9 1040.3Z" fill="#5f8a5b" stroke="#000" stroke-width="2.3" stroke-linejoin="miter"/>
<path d="M1798.1 1075.8L1817.1 1100.4L1798.1 1125L1779.1 1100.4Z" fill="#5f8a5b" stroke="#000" stroke-width="2.3" stroke-linejoin="miter"/>
<path d="M1853.2 854.3L1872.2 878.9L1853.2 903.5L1834.2 878.9Z" fill="#edb120" stroke="#000" stroke-width="2.3" stroke-linejoin="miter"/>
<path d="M1858.6 932.1L1877.6 956.7L1858.6 981.3L1839.6 956.7Z" fill="#edb120" stroke="#000" stroke-width="2.3" stroke-linejoin="miter"/>
<path d="M1842.6 1002.7L1861.6 1027.3L1842.6 1051.9L1823.6 1027.3Z" fill="#edb120" stroke="#000" stroke-width="2.3" stroke-linejoin="miter"/>
<path d="M1857 979.2L1876 1003.8L1857 1028.4L1838 1003.8Z" fill="#edb120" stroke="#000" stroke-width="2.3" stroke-linejoin="miter"/>
<text x="1816.2" y="833.7" font-size="25.5" text-anchor="middle" fill="#262626">p = 0.07</text>
<line x1="1776.6" y1="844.1" x2="1857" y2="844.1" stroke="#000" stroke-width="3.4"/>
<text x="1828.7" y="1162" font-size="52" text-anchor="middle">*</text>
<line x1="1848.7" y1="1112" x2="1848.7" y2="1159" stroke="#000" stroke-width="4"/>
<text x="1858" y="1126.5" font-size="29.3" font-weight="bold" fill="#262626">Young</text>
<text x="1858" y="1162" font-size="29.3" font-weight="bold" fill="#262626">Aged</text>
<rect x="41.2" y="83.3" width="57.1" height="573.4" fill="#000"/>
<rect x="1011" y="87.8" width="59" height="568.9" fill="#000"/>
<g clip-path="url(#cp1)"><rect x="95.3" y="84" width="285.5" height="284.7" fill="#000"/><g filter="url(#fl1)" style="mix-blend-mode:screen"><rect x="75.3" y="64" width="325.5" height="324.7" fill="#5f6600"/><ellipse cx="359.5" cy="159" rx="19.2" ry="17.6" fill="#000" opacity="0.55" filter="url(#b4p1)"/><ellipse cx="143.3" cy="323.5" rx="20.8" ry="22.3" fill="#000" opacity="0.55" filter="url(#b5p1)"/><ellipse cx="332.3" cy="270.8" rx="16" ry="11.2" fill="#000" opacity="0.6" filter="url(#b3p1)" transform="rotate(20 332.3 270.8)"/><ellipse cx="289" cy="195.8" rx="14.4" ry="8.8" fill="#000" opacity="0.55" filter="url(#b3p1)" transform="rotate(15 289 195.8)"/><ellipse cx="141.7" cy="175" rx="5.6" ry="4.8" fill="#000" opacity="0.6" filter="url(#b1_5p1)"/><polyline points="148.1,98.4 164.2,104.8 178.6,112.8" fill="none" stroke="#5b0000" stroke-width="21.4" stroke-linecap="round" stroke-linejoin="round" style="mix-blend-mode:screen"/><polyline points="124.1,162.2 143.3,167 162.6,163.8 178.6,160.6" fill="none" stroke="#5b0000" stroke-width="12" stroke-linecap="round" stroke-linejoin="round" style="mix-blend-mode:screen"/><polyline points="178.6,160.6 175.4,173.4 162.6,181.4 148.1,178.2" fill="none" stroke="#5b0000" stroke-width="12" stroke-linecap="round" stroke-linejoin="round" style="mix-blend-mode:screen"/><polyline points="127.3,167 130.5,178.2 140.1,183" fill="none" stroke="#440000" stroke-width="9.4" stroke-linecap="round" stroke-linejoin="round" style="mix-blend-mode:screen"/><ellipse cx="289" cy="195.8" rx="24" ry="13.6" fill="none" stroke="#560000" stroke-width="9.4" transform="rotate(20 289 195.8)" style="mix-blend-mode:screen"/><polyline points="239.4,186.2 263.4,189.4" fill="none" stroke="#5b0000" stroke-width="12.8" stroke-linecap="round" stroke-linejoin="round" style="mix-blend-mode:screen"/><ellipse cx="332.3" cy="270.8" rx="26.4" ry="16" fill="none" stroke="#5b0000" stroke-width="11.1" transform="rotate(20 332.3 270.8)" style="mix-blend-mode:screen"/><polyline points="303.5,258 313.1,272.4" fill="none" stroke="#5b0000" stroke-width="17.1" stroke-linecap="round" stroke-linejoin="round" style="mix-blend-mode:screen"/><polyline points="354.7,278.8 365.9,280.4" fill="none" stroke="#5b0000" stroke-width="15" stroke-linecap="round" stroke-linejoin="round" style="mix-blend-mode:screen"/><polyline points="284.2,286.8 297.1,291.6" fill="none" stroke="#500000" stroke-width="9.4" stroke-linecap="round" stroke-linejoin="round" style="mix-blend-mode:screen"/><polyline points="333.9,157.5 338.7,168.6 354.7,176.6 370.7,176.6" fill="none" stroke="#500000" stroke-width="8.6" stroke-linecap="round" stroke-linejoin="round" style="mix-blend-mode:screen"/><polyline points="159.3,293.2 185,299.6" fill="none" stroke="#500000" stroke-width="15" stroke-linecap="round" stroke-linejoin="round" style="mix-blend-mode:screen"/><polyline points="119.3,301.2 108.1,309.1" fill="none" stroke="#500000" stroke-width="12.8" stroke-linecap="round" stroke-linejoin="round" style="mix-blend-mode:screen"/><polyline points="348.3,96.8 375.5,100" fill="none" stroke="#440000" stroke-width="8.6" stroke-linecap="round" stroke-linejoin="round" style="mix-blend-mode:screen"/><polyline points="207.4,280.4 220.2,282" fill="none" stroke="#440000" stroke-width="8.6" stroke-linecap="round" stroke-linejoin="round" style="mix-blend-mode:screen"/><polyline points="119.3,347.5 122.5,368.2" fill="none" stroke="#3f0000" stroke-width="8.6" stroke-linecap="round" stroke-linejoin="round" style="mix-blend-mode:screen"/><polyline points="351.5,243.7 380.3,253.3" fill="none" stroke="#006700" stroke-width="6.9" stroke-linecap="round" stroke-linejoin="round" style="mix-blend-mode:screen"/><polyline points="183.4,155.9 188.2,163.8" fill="none" stroke="#005b00" stroke-width="6.9" stroke-linecap="round" stroke-linejoin="round" style="mix-blend-mode:screen"/><ellipse cx="120.9" cy="121.5" rx="1.9" ry="1.6" fill="#007200" style="mix-blend-mode:screen"/></g></g>
<g clip-path="url(#cp2)"><rect x="95.3" y="375.2" width="285.5" height="281.3" fill="#000"/><ellipse cx="290.6" cy="485.6" rx="24" ry="14.2" fill="none" stroke="#ff00ff" stroke-width="8.6" filter="url(#b1_5p2)" transform="rotate(20 290.6 485.6)" style="mix-blend-mode:screen"/><polyline points="242.6,476.2 255.4,480.9 269.8,484.1" fill="none" stroke="#ff00ff" stroke-width="11.4" stroke-linecap="round" stroke-linejoin="round" filter="url(#b2p2)" style="mix-blend-mode:screen"/><polyline points="249,478.5 268.2,483.3" fill="none" stroke="#ffb0ff" stroke-width="4.6" stroke-linecap="round" stroke-linejoin="round" opacity="0.8" filter="url(#b1_5p2)" style="mix-blend-mode:screen"/><ellipse cx="289.8" cy="484.9" rx="17.6" ry="11.1" fill="#4a004a" filter="url(#b2p2)" transform="rotate(20 289.8 484.9)" style="mix-blend-mode:screen"/><ellipse cx="333.9" cy="559.8" rx="24.8" ry="15" fill="none" stroke="#ff00ff" stroke-width="8.6" filter="url(#b1_5p2)" transform="rotate(20 333.9 559.8)" style="mix-blend-mode:screen"/><polyline points="298.7,548.7 309.9,556.6" fill="none" stroke="#ff00ff" stroke-width="14.3" stroke-linecap="round" stroke-linejoin="round" filter="url(#b2p2)" style="mix-blend-mode:screen"/><polyline points="301.9,550.3 313.1,559.8" fill="none" stroke="#ffb0ff" stroke-width="5.7" stroke-linecap="round" stroke-linejoin="round" opacity="0.8" filter="url(#b1_5p2)" style="mix-blend-mode:screen"/><polyline points="359.5,566.1 380.8,564.5" fill="none" stroke="#ff00ff" stroke-width="7.4" stroke-linecap="round" stroke-linejoin="round" filter="url(#b2p2)" style="mix-blend-mode:screen"/><ellipse cx="333.9" cy="559.8" rx="17.6" ry="11.1" fill="#3a003a" filter="url(#b2p2)" transform="rotate(20 333.9 559.8)" style="mix-blend-mode:screen"/><ellipse cx="359.5" cy="452.5" rx="25.6" ry="15" fill="none" stroke="#d000d0" stroke-width="3.4" filter="url(#b2p2)" transform="rotate(15 359.5 452.5)" style="mix-blend-mode:screen"/><polyline points="333.9,449.4 340.3,460.4 354.7,466.7 370.7,468.3" fill="none" stroke="#ff20ff" stroke-width="4" stroke-linecap="round" stroke-linejoin="round" filter="url(#b1_5p2)" style="mix-blend-mode:screen"/><ellipse cx="361.1" cy="450.9" rx="22.4" ry="12.6" fill="#400040" filter="url(#b3p2)" transform="rotate(15 361.1 450.9)" style="mix-blend-mode:screen"/><polyline points="135.3,386.3 156.1,392.6 175.4,400.4" fill="none" stroke="#d020d0" stroke-width="12.8" stroke-linecap="round" stroke-linejoin="round" filter="url(#b4p2)" style="mix-blend-mode:screen"/><polyline points="152.9,391 173.8,399.6" fill="none" stroke="#ffc0e0" stroke-width="5.1" stroke-linecap="round" stroke-linejoin="round" opacity="0.7" filter="url(#b3p2)" style="mix-blend-mode:screen"/><polyline points="159.3,583.4 172.2,585 185,585.8" fill="none" stroke="#e000e0" stroke-width="7.4" stroke-linecap="round" stroke-linejoin="round" filter="url(#b2_5p2)" style="mix-blend-mode:screen"/><polyline points="104.9,594.5 120.9,599.2 143.3,596.1" fill="none" stroke="#c000c0" stroke-width="6.3" stroke-linecap="round" stroke-linejoin="round" filter="url(#b4p2)" style="mix-blend-mode:screen"/><polyline points="120.9,604 119.3,627.6 124.1,643.4" fill="none" stroke="#a000a0" stroke-width="6.3" stroke-linecap="round" stroke-linejoin="round" filter="url(#b5p2)" style="mix-blend-mode:screen"/><ellipse cx="136.9" cy="618.2" rx="17.6" ry="15.8" fill="#380038" filter="url(#b6p2)" style="mix-blend-mode:screen"/><polyline points="255.4,422.5 287.4,422.5 319.5,427.3 380.8,422.5" fill="none" stroke="#a000a0" stroke-width="2.9" stroke-linecap="round" stroke-linejoin="round" opacity="0.7" filter="url(#b2p2)" style="mix-blend-mode:screen"/><polyline points="178.6,479.3 175.4,501.4 178.6,533 191.4,548.7" fill="none" stroke="#a000a0" stroke-width="2.3" stroke-linecap="round" stroke-linejoin="round" opacity="0.7" filter="url(#b2p2)" style="mix-blend-mode:screen"/><polyline points="207.4,514 239.4,533 271.4,545.6 295.5,548.7" fill="none" stroke="#a000a0" stroke-width="2.3" stroke-linecap="round" stroke-linejoin="round" opacity="0.6" filter="url(#b2p2)" style="mix-blend-mode:screen"/><polyline points="271.4,504.6 303.5,503 335.5,501.4" fill="none" stroke="#a000a0" stroke-width="2.9" stroke-linecap="round" stroke-linejoin="round" opacity="0.8" filter="url(#b2p2)" style="mix-blend-mode:screen"/><polyline points="319.5,588.2 351.5,599.2 380.8,596.1" fill="none" stroke="#a000a0" stroke-width="2.9" stroke-linecap="round" stroke-linejoin="round" opacity="0.6" filter="url(#b2p2)" style="mix-blend-mode:screen"/><polyline points="95.3,498.3 108.1,496.7" fill="none" stroke="#900090" stroke-width="4.6" stroke-linecap="round" stroke-linejoin="round" opacity="0.8" filter="url(#b3p2)" style="mix-blend-mode:screen"/><polyline points="127.3,556.6 151.3,572.4 167.4,580.3" fill="none" stroke="#900090" stroke-width="2.3" stroke-linecap="round" stroke-linejoin="round" opacity="0.6" filter="url(#b2p2)" style="mix-blend-mode:screen"/><polyline points="191.4,394.1 239.4,406.8 271.4,416.2" fill="none" stroke="#900090" stroke-width="2.3" stroke-linecap="round" stroke-linejoin="round" opacity="0.5" filter="url(#b2p2)" style="mix-blend-mode:screen"/><polyline points="287.4,509.3 311.5,510.9 335.5,514" fill="none" stroke="#900090" stroke-width="5.1" stroke-linecap="round" stroke-linejoin="round" opacity="0.7" filter="url(#b3p2)" style="mix-blend-mode:screen"/><g filter="url(#fl2)" style="mix-blend-mode:screen"><rect x="75.3" y="355.2" width="325.5" height="321.3" fill="#5f6600"/><ellipse cx="359.5" cy="449.4" rx="19.2" ry="17.4" fill="#000" opacity="0.55" filter="url(#b4p2)"/><ellipse cx="143.3" cy="611.9" rx="20.8" ry="22.1" fill="#000" opacity="0.55" filter="url(#b5p2)"/><ellipse cx="332.3" cy="559.8" rx="16" ry="11.1" fill="#000" opacity="0.6" filter="url(#b3p2)" transform="rotate(20 332.3 559.8)"/><ellipse cx="289" cy="485.6" rx="14.4" ry="8.7" fill="#000" opacity="0.55" filter="url(#b3p2)" transform="rotate(15 289 485.6)"/><ellipse cx="141.7" cy="465.1" rx="5.6" ry="4.7" fill="#000" opacity="0.6" filter="url(#b1_5p2)"/><polyline points="148.1,389.4 164.2,395.7 178.6,403.6" fill="none" stroke="#5b0000" stroke-width="21.4" stroke-linecap="round" stroke-linejoin="round" style="mix-blend-mode:screen"/><polyline points="124.1,452.5 143.3,457.2 162.6,454.1 178.6,450.9" fill="none" stroke="#5b0000" stroke-width="12" stroke-linecap="round" stroke-linejoin="round" style="mix-blend-mode:screen"/><polyline points="178.6,450.9 175.4,463.6 162.6,471.4 148.1,468.3" fill="none" stroke="#5b0000" stroke-width="12" stroke-linecap="round" stroke-linejoin="round" style="mix-blend-mode:screen"/><polyline points="127.3,457.2 130.5,468.3 140.1,473" fill="none" stroke="#440000" stroke-width="9.4" stroke-linecap="round" stroke-linejoin="round" style="mix-blend-mode:screen"/><ellipse cx="289" cy="485.6" rx="24" ry="13.4" fill="none" stroke="#560000" stroke-width="9.4" transform="rotate(20 289 485.6)" style="mix-blend-mode:screen"/><polyline points="239.4,476.2 263.4,479.3" fill="none" stroke="#5b0000" stroke-width="12.8" stroke-linecap="round" stroke-linejoin="round" style="mix-blend-mode:screen"/><ellipse cx="332.3" cy="559.8" rx="26.4" ry="15.8" fill="none" stroke="#5b0000" stroke-width="11.1" transform="rotate(20 332.3 559.8)" style="mix-blend-mode:screen"/><polyline points="303.5,547.2 313.1,561.4" fill="none" stroke="#5b0000" stroke-width="17.1" stroke-linecap="round" stroke-linejoin="round" style="mix-blend-mode:screen"/><polyline points="354.7,567.7 365.9,569.2" fill="none" stroke="#5b0000" stroke-width="15" stroke-linecap="round" stroke-linejoin="round" style="mix-blend-mode:screen"/><polyline points="284.2,575.6 297.1,580.3" fill="none" stroke="#500000" stroke-width="9.4" stroke-linecap="round" stroke-linejoin="round" style="mix-blend-mode:screen"/><polyline points="333.9,447.8 338.7,458.8 354.7,466.7 370.7,466.7" fill="none" stroke="#500000" stroke-width="8.6" stroke-linecap="round" stroke-linejoin="round" style="mix-blend-mode:screen"/><polyline points="159.3,581.9 185,588.2" fill="none" stroke="#500000" stroke-width="15" stroke-linecap="round" stroke-linejoin="round" style="mix-blend-mode:screen"/><polyline points="119.3,589.8 108.1,597.7" fill="none" stroke="#500000" stroke-width="12.8" stroke-linecap="round" stroke-linejoin="round" style="mix-blend-mode:screen"/><polyline points="348.3,387.8 375.5,391" fill="none" stroke="#440000" stroke-width="8.6" stroke-linecap="round" stroke-linejoin="round" style="mix-blend-mode:screen"/><polyline points="207.4,569.2 220.2,570.8" fill="none" stroke="#440000" stroke-width="8.6" stroke-linecap="round" stroke-linejoin="round" style="mix-blend-mode:screen"/><polyline points="119.3,635.5 122.5,656" fill="none" stroke="#3f0000" stroke-width="8.6" stroke-linecap="round" stroke-linejoin="round" style="mix-blend-mode:screen"/><polyline points="351.5,533 380.3,542.4" fill="none" stroke="#006700" stroke-width="6.9" stroke-linecap="round" stroke-linejoin="round" style="mix-blend-mode:screen"/><polyline points="183.4,446.2 188.2,454.1" fill="none" stroke="#005b00" stroke-width="6.9" stroke-linecap="round" stroke-linejoin="round" style="mix-blend-mode:screen"/><ellipse cx="120.9" cy="412.3" rx="1.9" ry="1.6" fill="#007200" style="mix-blend-mode:screen"/></g></g>
<g clip-path="url(#cp3)"><rect x="385.7" y="84" width="286.2" height="284.7" fill="#000"/><g filter="url(#fl3)" style="mix-blend-mode:screen"><rect x="365.7" y="64" width="326.2" height="324.7" fill="#5b6b00"/><polyline points="457.9,235.7 498.1,227.7 546.2,219.7 570.3,227.7 597.6,237.3" fill="none" stroke="#610000" stroke-width="27.9" stroke-linecap="round" stroke-linejoin="round" style="mix-blend-mode:screen"/><polyline points="597.6,234.1 586.4,256.4 562.3,264.4 547.8,277.2" fill="none" stroke="#610000" stroke-width="32.2" stroke-linecap="round" stroke-linejoin="round" style="mix-blend-mode:screen"/><polyline points="461.1,235.7 462.7,259.6 478.8,275.6" fill="none" stroke="#440000" stroke-width="15" stroke-linecap="round" stroke-linejoin="round" style="mix-blend-mode:screen"/><ellipse cx="509.3" cy="256.4" rx="7.2" ry="9.6" fill="#610000" style="mix-blend-mode:screen"/><polyline points="392.1,183 405,189.4" fill="none" stroke="#440000" stroke-width="15" stroke-linecap="round" stroke-linejoin="round" style="mix-blend-mode:screen"/><polyline points="417.8,208.6 433.9,221.3 449.9,227.7" fill="none" stroke="#3f0000" stroke-width="30.1" stroke-linecap="round" stroke-linejoin="round" style="mix-blend-mode:screen"/><polyline points="610.4,189.4 615.2,202.2" fill="none" stroke="#440000" stroke-width="10.7" stroke-linecap="round" stroke-linejoin="round" style="mix-blend-mode:screen"/><ellipse cx="632.9" cy="353.8" rx="4.8" ry="4.8" fill="#670000" style="mix-blend-mode:screen"/><polyline points="578.3,339.5 602.4,347.5" fill="none" stroke="#330000" stroke-width="17.2" stroke-linecap="round" stroke-linejoin="round" style="mix-blend-mode:screen"/><polyline points="413,90.4 425.8,88.8 437.1,104.8" fill="none" stroke="#006700" stroke-width="17.2" stroke-linecap="round" stroke-linejoin="round" style="mix-blend-mode:screen"/><polyline points="546.2,224.5 570.3,227.7 586.4,251.7" fill="none" stroke="#003900" stroke-width="25.8" stroke-linecap="round" stroke-linejoin="round" style="mix-blend-mode:screen"/><ellipse cx="625.7" cy="226.1" rx="4.5" ry="3.2" fill="#007200" style="mix-blend-mode:screen"/><ellipse cx="620.8" cy="159" rx="2.9" ry="2.9" fill="#007200" style="mix-blend-mode:screen"/><ellipse cx="628.1" cy="194.2" rx="2.9" ry="2.9" fill="#007200" style="mix-blend-mode:screen"/><ellipse cx="478.8" cy="97.6" rx="2.9" ry="2.9" fill="#007200" style="mix-blend-mode:screen"/><ellipse cx="616.8" cy="355.4" rx="2.9" ry="2.9" fill="#007200" style="mix-blend-mode:screen"/><polyline points="626.5,179.8 642.5,211.7 650.5,235.7" fill="none" stroke="#003900" stroke-width="25.8" stroke-linecap="round" stroke-linejoin="round" style="mix-blend-mode:screen"/></g></g>
<g clip-path="url(#cp4)"><rect x="385.7" y="375.2" width="286.2" height="281.3" fill="#000"/><g filter="url(#fl4)" style="mix-blend-mode:screen"><rect x="365.7" y="355.2" width="326.2" height="321.3" fill="#606b00"/><ellipse cx="538.2" cy="545.6" rx="20.9" ry="17.4" fill="#000" opacity="0.7" filter="url(#b5p4)"/><polyline points="385.7,523.5 433.9,526.7 485.2,518.8" fill="none" stroke="#610000" stroke-width="38.6" stroke-linecap="round" stroke-linejoin="round" style="mix-blend-mode:screen"/><polyline points="485.2,517.2 530.2,499.8 570.3,507.7 594.4,523.5 618.4,545.6" fill="none" stroke="#500000" stroke-width="17.2" stroke-linecap="round" stroke-linejoin="round" style="mix-blend-mode:screen"/><polyline points="618.4,545.6 626.5,564.5 618.4,585 602.4,583.4" fill="none" stroke="#500000" stroke-width="30.1" stroke-linecap="round" stroke-linejoin="round" style="mix-blend-mode:screen"/><polyline points="485.2,533 498.1,561.4 530.2,572.4 554.2,585" fill="none" stroke="#500000" stroke-width="17.2" stroke-linecap="round" stroke-linejoin="round" style="mix-blend-mode:screen"/><polyline points="417.8,484.1 433.9,485.6" fill="none" stroke="#500000" stroke-width="15" stroke-linecap="round" stroke-linejoin="round" style="mix-blend-mode:screen"/><ellipse cx="525.3" cy="635.5" rx="4" ry="6.3" fill="#670000" style="mix-blend-mode:screen"/><polyline points="591.2,387.8 626.5,400.4" fill="none" stroke="#390000" stroke-width="15" stroke-linecap="round" stroke-linejoin="round" style="mix-blend-mode:screen"/><polyline points="578.3,635.5 602.4,643.4" fill="none" stroke="#330000" stroke-width="15" stroke-linecap="round" stroke-linejoin="round" style="mix-blend-mode:screen"/><polyline points="401.8,525.1 449.9,529.8 482,521.9" fill="none" stroke="#003900" stroke-width="34.3" stroke-linecap="round" stroke-linejoin="round" style="mix-blend-mode:screen"/><ellipse cx="558.2" cy="464.3" rx="4.5" ry="2.5" fill="#007200" style="mix-blend-mode:screen"/><ellipse cx="619.2" cy="404.4" rx="3.2" ry="2.2" fill="#007200" style="mix-blend-mode:screen"/><ellipse cx="542.2" cy="646.6" rx="2.9" ry="2.8" fill="#007200" style="mix-blend-mode:screen"/><ellipse cx="475.6" cy="585.8" rx="2.9" ry="2.2" fill="#006700" style="mix-blend-mode:screen"/><ellipse cx="392.9" cy="432.8" rx="2.3" ry="1.9" fill="#007200" style="mix-blend-mode:screen"/></g></g>
<g clip-path="url(#cp5)"><rect x="676.6" y="86.8" width="285.6" height="281.9" fill="#000"/><g filter="url(#fl5)" style="mix-blend-mode:screen"><rect x="656.6" y="66.8" width="325.6" height="321.9" fill="#5b6b00"/><polyline points="674,240.8 740.7,227.7 820.9,214.5 860.9,227.7 906.3,243.5" fill="none" stroke="#610000" stroke-width="46.4" stroke-linecap="round" stroke-linejoin="round" style="mix-blend-mode:screen"/><polyline points="906.3,238.2 887.6,275.1 847.5,288.3 823.5,309.4" fill="none" stroke="#610000" stroke-width="53.6" stroke-linecap="round" stroke-linejoin="round" style="mix-blend-mode:screen"/><polyline points="679.3,240.8 682,280.4 708.7,306.7" fill="none" stroke="#440000" stroke-width="25" stroke-linecap="round" stroke-linejoin="round" style="mix-blend-mode:screen"/><ellipse cx="759.4" cy="275.1" rx="12" ry="15.8" fill="#610000" style="mix-blend-mode:screen"/><polyline points="564.5,153.9 585.9,164.4" fill="none" stroke="#440000" stroke-width="25" stroke-linecap="round" stroke-linejoin="round" style="mix-blend-mode:screen"/><polyline points="607.2,196.1 633.9,217.1 660.6,227.7" fill="none" stroke="#3f0000" stroke-width="50" stroke-linecap="round" stroke-linejoin="round" style="mix-blend-mode:screen"/><polyline points="927.6,164.4 935.6,185.5" fill="none" stroke="#440000" stroke-width="17.9" stroke-linecap="round" stroke-linejoin="round" style="mix-blend-mode:screen"/><ellipse cx="965" cy="435.9" rx="8" ry="7.9" fill="#670000" style="mix-blend-mode:screen"/><polyline points="874.2,412.2 914.3,425.3" fill="none" stroke="#330000" stroke-width="28.6" stroke-linecap="round" stroke-linejoin="round" style="mix-blend-mode:screen"/><polyline points="599.2,1 620.6,-1.6 639.3,24.7" fill="none" stroke="#006700" stroke-width="28.6" stroke-linecap="round" stroke-linejoin="round" style="mix-blend-mode:screen"/><polyline points="820.9,222.4 860.9,227.7 887.6,267.2" fill="none" stroke="#003900" stroke-width="42.8" stroke-linecap="round" stroke-linejoin="round" style="mix-blend-mode:screen"/><ellipse cx="953" cy="225.1" rx="7.5" ry="5.3" fill="#007200" style="mix-blend-mode:screen"/><ellipse cx="945" cy="114.3" rx="4.8" ry="4.7" fill="#007200" style="mix-blend-mode:screen"/><ellipse cx="957" cy="172.3" rx="4.8" ry="4.7" fill="#007200" style="mix-blend-mode:screen"/><ellipse cx="708.7" cy="12.9" rx="4.8" ry="4.7" fill="#007200" style="mix-blend-mode:screen"/><ellipse cx="938.3" cy="438.5" rx="4.8" ry="4.7" fill="#007200" style="mix-blend-mode:screen"/><polyline points="954.4,148.6 981.1,201.3 994.4,240.8" fill="none" stroke="#003900" stroke-width="42.8" stroke-linecap="round" stroke-linejoin="round" style="mix-blend-mode:screen"/></g></g>
<g clip-path="url(#cp6)"><rect x="676.6" y="375.2" width="285.6" height="281.3" fill="#000"/><g filter="url(#fl6)" style="mix-blend-mode:screen"><rect x="656.6" y="355.2" width="325.6" height="321.3" fill="#606b00"/><ellipse cx="897" cy="567.5" rx="34.4" ry="28.6" fill="#000" opacity="0.7" filter="url(#b8_2p6)"/><polyline points="646,531.1 725.3,536.3 809.8,523.3" fill="none" stroke="#610000" stroke-width="63.6" stroke-linecap="round" stroke-linejoin="round" style="mix-blend-mode:screen"/><polyline points="809.8,520.7 883.9,492.1 949.9,505.1 989.6,531.1 1029.2,567.5" fill="none" stroke="#500000" stroke-width="28.3" stroke-linecap="round" stroke-linejoin="round" style="mix-blend-mode:screen"/><polyline points="1029.2,567.5 1042.4,598.8 1029.2,632.6 1002.8,630" fill="none" stroke="#500000" stroke-width="49.5" stroke-linecap="round" stroke-linejoin="round" style="mix-blend-mode:screen"/><polyline points="809.8,546.7 831,593.6 883.9,611.8 923.5,632.6" fill="none" stroke="#500000" stroke-width="28.3" stroke-linecap="round" stroke-linejoin="round" style="mix-blend-mode:screen"/><polyline points="698.8,466 725.3,468.6" fill="none" stroke="#500000" stroke-width="24.7" stroke-linecap="round" stroke-linejoin="round" style="mix-blend-mode:screen"/><ellipse cx="875.9" cy="715.9" rx="6.6" ry="10.4" fill="#670000" style="mix-blend-mode:screen"/><polyline points="984.3,307.2 1042.4,328" fill="none" stroke="#390000" stroke-width="24.7" stroke-linecap="round" stroke-linejoin="round" style="mix-blend-mode:screen"/><polyline points="963.1,715.9 1002.8,728.9" fill="none" stroke="#330000" stroke-width="24.7" stroke-linecap="round" stroke-linejoin="round" style="mix-blend-mode:screen"/><polyline points="672.4,533.7 751.7,541.5 804.5,528.5" fill="none" stroke="#003900" stroke-width="56.5" stroke-linecap="round" stroke-linejoin="round" style="mix-blend-mode:screen"/><ellipse cx="930.1" cy="433.5" rx="7.4" ry="4.2" fill="#007200" style="mix-blend-mode:screen"/><ellipse cx="1030.5" cy="334.6" rx="5.3" ry="3.7" fill="#007200" style="mix-blend-mode:screen"/><ellipse cx="903.6" cy="734.2" rx="4.8" ry="4.7" fill="#007200" style="mix-blend-mode:screen"/><ellipse cx="794" cy="633.9" rx="4.8" ry="3.7" fill="#006700" style="mix-blend-mode:screen"/><ellipse cx="657.8" cy="381.4" rx="3.7" ry="3.1" fill="#007200" style="mix-blend-mode:screen"/></g></g>
<g clip-path="url(#cp7)"><rect x="1067" y="83.5" width="286.5" height="284.7" fill="#000"/><polyline points="1200.4,155.4 1203.6,168.1 1214.8,182.5 1235.7,193.7 1259.8,200.9 1275.9,206.5" fill="none" stroke="#ff10ff" stroke-width="6.3" stroke-linecap="round" stroke-linejoin="round" filter="url(#b2p7)" style="mix-blend-mode:screen"/><polyline points="1201.2,158.5 1206,172.9 1214.8,183.3 1227.7,190.5" fill="none" stroke="#ffd0ff" stroke-width="4" stroke-linecap="round" stroke-linejoin="round" filter="url(#b1_5p7)" style="mix-blend-mode:screen"/><polyline points="1203.6,153.8 1227.7,147.4 1267.9,149 1292,161.7 1300,179.3 1290.4,195.3 1275.9,204.8" fill="none" stroke="#c000c0" stroke-width="4.6" stroke-linecap="round" stroke-linejoin="round" opacity="0.8" filter="url(#b4p7)" style="mix-blend-mode:screen"/><ellipse cx="1259.8" cy="169.7" rx="32.1" ry="17.6" fill="#300030" filter="url(#b10p7)" style="mix-blend-mode:screen"/><polyline points="1259.8,235.2 1267.9,255.9 1283.9,271.9 1308,278.3 1332.1,267.1 1348.2,257.5" fill="none" stroke="#d010d0" stroke-width="3.2" stroke-linecap="round" stroke-linejoin="round" filter="url(#b2p7)" style="mix-blend-mode:screen"/><polyline points="1330.5,243.2 1340.1,259.1" fill="none" stroke="#a000a0" stroke-width="2" stroke-linecap="round" stroke-linejoin="round" filter="url(#b2p7)" style="mix-blend-mode:screen"/><polyline points="1071.8,182.5 1091.1,192.1 1110.4,198.5 1131.3,182.5 1163.4,172.9" fill="none" stroke="#b000b0" stroke-width="2.9" stroke-linecap="round" stroke-linejoin="round" filter="url(#b2_5p7)" style="mix-blend-mode:screen"/><polyline points="1144.1,125 1157,123.4 1169.8,129.8" fill="none" stroke="#c000c0" stroke-width="5.2" stroke-linecap="round" stroke-linejoin="round" filter="url(#b4p7)" style="mix-blend-mode:screen"/><polyline points="1216.4,109 1243.7,107.4 1275.9,107.4" fill="none" stroke="#b000b0" stroke-width="3.2" stroke-linecap="round" stroke-linejoin="round" filter="url(#b2_5p7)" style="mix-blend-mode:screen"/><polyline points="1187.5,126.6 1211.6,129.8 1243.7,128.2 1283.9,123.4" fill="none" stroke="#b000b0" stroke-width="2.3" stroke-linecap="round" stroke-linejoin="round" filter="url(#b2_5p7)" style="mix-blend-mode:screen"/><polyline points="1179.5,136.2 1192.3,147.4 1203.6,153.8" fill="none" stroke="#b000b0" stroke-width="2.3" stroke-linecap="round" stroke-linejoin="round" filter="url(#b2_5p7)" style="mix-blend-mode:screen"/><polyline points="1205.2,257.5 1227.7,246.4 1243.7,243.2 1259.8,235.2" fill="none" stroke="#b000b0" stroke-width="2.3" stroke-linecap="round" stroke-linejoin="round" filter="url(#b2p7)" style="mix-blend-mode:screen"/><polyline points="1163.4,263.9 1171.5,271.9" fill="none" stroke="#b000b0" stroke-width="3.4" stroke-linecap="round" stroke-linejoin="round" filter="url(#b2_5p7)" style="mix-blend-mode:screen"/><polyline points="1121.6,228.8 1139.3,230.4 1152.2,233.6" fill="none" stroke="#b000b0" stroke-width="1.7" stroke-linecap="round" stroke-linejoin="round" opacity="0.8" filter="url(#b2p7)" style="mix-blend-mode:screen"/><polyline points="1150.5,283.1 1169.8,281.5 1176.3,291.1" fill="none" stroke="#b000b0" stroke-width="1.7" stroke-linecap="round" stroke-linejoin="round" opacity="0.8" filter="url(#b2p7)" style="mix-blend-mode:screen"/><polyline points="1173.1,88.3 1176.3,115.4 1179.5,136.2" fill="none" stroke="#a000a0" stroke-width="1.7" stroke-linecap="round" stroke-linejoin="round" opacity="0.7" filter="url(#b2_5p7)" style="mix-blend-mode:screen"/><polyline points="1216.4,86.7 1218,96.3" fill="none" stroke="#a000a0" stroke-width="1.7" stroke-linecap="round" stroke-linejoin="round" opacity="0.7" filter="url(#b2p7)" style="mix-blend-mode:screen"/><ellipse cx="1115.2" cy="318.2" rx="17.7" ry="12.8" fill="#5a005a" filter="url(#b8p7)" style="mix-blend-mode:screen"/><polyline points="1095.9,329.4 1115.2,337.4 1136.1,332.6" fill="none" stroke="#c000c0" stroke-width="6.9" stroke-linecap="round" stroke-linejoin="round" filter="url(#b4p7)" style="mix-blend-mode:screen"/><polyline points="1115.2,347 1118.4,361.3" fill="none" stroke="#a000a0" stroke-width="5.2" stroke-linecap="round" stroke-linejoin="round" filter="url(#b4p7)" style="mix-blend-mode:screen"/><polyline points="1147.3,358.2 1157,364.5" fill="none" stroke="#a000a0" stroke-width="3.4" stroke-linecap="round" stroke-linejoin="round" filter="url(#b3p7)" style="mix-blend-mode:screen"/><polyline points="1079.9,291.1 1081.5,297.5" fill="none" stroke="#a000a0" stroke-width="3.4" stroke-linecap="round" stroke-linejoin="round" filter="url(#b3p7)" style="mix-blend-mode:screen"/><g filter="url(#fl7)" style="mix-blend-mode:screen"><rect x="1047" y="63.5" width="326.5" height="324.7" fill="#5b6000"/><ellipse cx="1251.8" cy="174.5" rx="30.5" ry="22.3" fill="#000" opacity="0.9" filter="url(#b3p7)"/><ellipse cx="1304.8" cy="243.2" rx="32.1" ry="27.1" fill="#000" opacity="0.9" filter="url(#b3p7)"/><ellipse cx="1332.1" cy="147.4" rx="24.1" ry="47.9" fill="#000" opacity="0.9" filter="url(#b4p7)"/><ellipse cx="1089.5" cy="243.2" rx="22.5" ry="31.9" fill="#000" opacity="0.8" filter="url(#b4p7)"/><ellipse cx="1179.5" cy="204.8" rx="37" ry="14.4" fill="#000" opacity="0.7" filter="url(#b4p7)"/><ellipse cx="1211.6" cy="315" rx="32.1" ry="20.8" fill="#000" opacity="0.8" filter="url(#b4p7)"/><polyline points="1142.5,251.2 1163.4,244.8 1195.6,239.2 1227.7,236.8 1243.7,233.6" fill="none" stroke="#006100" stroke-width="13.8" stroke-linecap="round" stroke-linejoin="round" style="mix-blend-mode:screen"/><polyline points="1147.3,249.6 1166.6,243.2 1198.8,238.4 1227.7,241.6" fill="none" stroke="#560000" stroke-width="11.2" stroke-linecap="round" stroke-linejoin="round" style="mix-blend-mode:screen"/><polyline points="1259.8,235.2 1267.9,255.9 1283.9,271.9 1308,278.3 1332.1,267.1 1349.8,259.1" fill="none" stroke="#005b00" stroke-width="11.2" stroke-linecap="round" stroke-linejoin="round" style="mix-blend-mode:screen"/><polyline points="1332.1,262.3 1348.2,275.1" fill="none" stroke="#005000" stroke-width="17.2" stroke-linecap="round" stroke-linejoin="round" style="mix-blend-mode:screen"/><polyline points="1275.9,271.9 1308,277.5" fill="none" stroke="#440000" stroke-width="7.7" stroke-linecap="round" stroke-linejoin="round" style="mix-blend-mode:screen"/><polyline points="1243.7,323 1251.8,339 1267.9,347 1292,351.7 1316.1,340.6 1340.1,331" fill="none" stroke="#670000" stroke-width="15.5" stroke-linecap="round" stroke-linejoin="round" style="mix-blend-mode:screen"/><polyline points="1251.8,319.8 1275.9,315 1300,318.2" fill="none" stroke="#3f0000" stroke-width="21.5" stroke-linecap="round" stroke-linejoin="round" style="mix-blend-mode:screen"/><polyline points="1259.8,326.2 1283.9,332.6 1304.8,329.4" fill="none" stroke="#003f00" stroke-width="25.8" stroke-linecap="round" stroke-linejoin="round" style="mix-blend-mode:screen"/><polyline points="1324.1,332.6 1348.2,323" fill="none" stroke="#500000" stroke-width="17.2" stroke-linecap="round" stroke-linejoin="round" style="mix-blend-mode:screen"/><polyline points="1075,97.9 1092.7,94.7" fill="none" stroke="#500000" stroke-width="12.9" stroke-linecap="round" stroke-linejoin="round" style="mix-blend-mode:screen"/><polyline points="1163.4,107.4 1179.5,120.2 1211.6,123.4 1235.7,107.4 1259.8,105.8" fill="none" stroke="#004400" stroke-width="21.5" stroke-linecap="round" stroke-linejoin="round" style="mix-blend-mode:screen"/><polyline points="1139.3,117 1163.4,121.8 1189.1,115.4" fill="none" stroke="#4a0000" stroke-width="17.2" stroke-linecap="round" stroke-linejoin="round" style="mix-blend-mode:screen"/><polyline points="1079.9,150.6 1092.7,147.4" fill="none" stroke="#500000" stroke-width="12.9" stroke-linecap="round" stroke-linejoin="round" style="mix-blend-mode:screen"/><polyline points="1120,188.9 1134.5,179.3 1144.1,177.7" fill="none" stroke="#005000" stroke-width="10.3" stroke-linecap="round" stroke-linejoin="round" style="mix-blend-mode:screen"/><polyline points="1121.6,185.7 1142.5,179.3" fill="none" stroke="#500000" stroke-width="7.7" stroke-linecap="round" stroke-linejoin="round" style="mix-blend-mode:screen"/><polyline points="1110.4,332.6 1126.4,334.2" fill="none" stroke="#005b00" stroke-width="17.2" stroke-linecap="round" stroke-linejoin="round" style="mix-blend-mode:screen"/><polyline points="1192.3,323 1205.2,323" fill="none" stroke="#005b00" stroke-width="10.3" stroke-linecap="round" stroke-linejoin="round" style="mix-blend-mode:screen"/><polyline points="1235.7,187.3 1243.7,198.5 1253.4,200.1" fill="none" stroke="#005b00" stroke-width="7.7" stroke-linecap="round" stroke-linejoin="round" style="mix-blend-mode:screen"/><ellipse cx="1161.8" cy="166.5" rx="2.6" ry="2.6" fill="#007200" style="mix-blend-mode:screen"/><ellipse cx="1079.9" cy="272.7" rx="1.9" ry="1.9" fill="#007200" style="mix-blend-mode:screen"/><ellipse cx="1328.9" cy="297.5" rx="2.3" ry="2.9" fill="#007200" style="mix-blend-mode:screen"/><polyline points="1157,243.2 1169.8,241.6" fill="none" stroke="#670000" stroke-width="8.6" stroke-linecap="round" stroke-linejoin="round" style="mix-blend-mode:screen"/><polyline points="1227.7,243.2 1240.5,235.2" fill="none" stroke="#006700" stroke-width="11.2" stroke-linecap="round" stroke-linejoin="round" style="mix-blend-mode:screen"/></g></g>
<g clip-path="url(#cp8)"><rect x="1067" y="375.3" width="286.5" height="281.6" fill="#000"/><g filter="url(#fl8)" style="mix-blend-mode:screen"><rect x="1047" y="355.3" width="326.5" height="321.6" fill="#5b6000"/><ellipse cx="1251.8" cy="465.3" rx="30.5" ry="22.1" fill="#000" opacity="0.9" filter="url(#b3p8)"/><ellipse cx="1304.8" cy="533.2" rx="32.1" ry="26.8" fill="#000" opacity="0.9" filter="url(#b3p8)"/><ellipse cx="1332.1" cy="438.5" rx="24.1" ry="47.4" fill="#000" opacity="0.9" filter="url(#b4p8)"/><ellipse cx="1089.5" cy="533.2" rx="22.5" ry="31.6" fill="#000" opacity="0.8" filter="url(#b4p8)"/><ellipse cx="1179.5" cy="495.3" rx="37" ry="14.2" fill="#000" opacity="0.7" filter="url(#b4p8)"/><ellipse cx="1211.6" cy="604.3" rx="32.1" ry="20.5" fill="#000" opacity="0.8" filter="url(#b4p8)"/><polyline points="1142.5,541.1 1163.4,534.8 1195.6,529.3 1227.7,526.9 1243.7,523.8" fill="none" stroke="#006100" stroke-width="13.8" stroke-linecap="round" stroke-linejoin="round" style="mix-blend-mode:screen"/><polyline points="1147.3,539.6 1166.6,533.2 1198.8,528.5 1227.7,531.6" fill="none" stroke="#560000" stroke-width="11.2" stroke-linecap="round" stroke-linejoin="round" style="mix-blend-mode:screen"/><polyline points="1259.8,525.3 1267.9,545.9 1283.9,561.7 1308,568 1332.1,556.9 1349.8,549" fill="none" stroke="#005b00" stroke-width="11.2" stroke-linecap="round" stroke-linejoin="round" style="mix-blend-mode:screen"/><polyline points="1332.1,552.2 1348.2,564.8" fill="none" stroke="#005000" stroke-width="17.2" stroke-linecap="round" stroke-linejoin="round" style="mix-blend-mode:screen"/><polyline points="1275.9,561.7 1308,567.2" fill="none" stroke="#440000" stroke-width="7.7" stroke-linecap="round" stroke-linejoin="round" style="mix-blend-mode:screen"/><polyline points="1243.7,612.2 1251.8,628 1267.9,635.9 1292,640.6 1316.1,629.6 1340.1,620.1" fill="none" stroke="#670000" stroke-width="15.5" stroke-linecap="round" stroke-linejoin="round" style="mix-blend-mode:screen"/><polyline points="1251.8,609.1 1275.9,604.3 1300,607.5" fill="none" stroke="#3f0000" stroke-width="21.5" stroke-linecap="round" stroke-linejoin="round" style="mix-blend-mode:screen"/><polyline points="1259.8,615.4 1283.9,621.7 1304.8,618.5" fill="none" stroke="#003f00" stroke-width="25.8" stroke-linecap="round" stroke-linejoin="round" style="mix-blend-mode:screen"/><polyline points="1324.1,621.7 1348.2,612.2" fill="none" stroke="#500000" stroke-width="17.2" stroke-linecap="round" stroke-linejoin="round" style="mix-blend-mode:screen"/><polyline points="1075,389.5 1092.7,386.4" fill="none" stroke="#500000" stroke-width="12.9" stroke-linecap="round" stroke-linejoin="round" style="mix-blend-mode:screen"/><polyline points="1163.4,399 1179.5,411.6 1211.6,414.8 1235.7,399 1259.8,397.4" fill="none" stroke="#004400" stroke-width="21.5" stroke-linecap="round" stroke-linejoin="round" style="mix-blend-mode:screen"/><polyline points="1139.3,408.5 1163.4,413.2 1189.1,406.9" fill="none" stroke="#4a0000" stroke-width="17.2" stroke-linecap="round" stroke-linejoin="round" style="mix-blend-mode:screen"/><polyline points="1079.9,441.6 1092.7,438.5" fill="none" stroke="#500000" stroke-width="12.9" stroke-linecap="round" stroke-linejoin="round" style="mix-blend-mode:screen"/><polyline points="1120,479.5 1134.5,470.1 1144.1,468.5" fill="none" stroke="#005000" stroke-width="10.3" stroke-linecap="round" stroke-linejoin="round" style="mix-blend-mode:screen"/><polyline points="1121.6,476.4 1142.5,470.1" fill="none" stroke="#500000" stroke-width="7.7" stroke-linecap="round" stroke-linejoin="round" style="mix-blend-mode:screen"/><polyline points="1110.4,621.7 1126.4,623.2" fill="none" stroke="#005b00" stroke-width="17.2" stroke-linecap="round" stroke-linejoin="round" style="mix-blend-mode:screen"/><polyline points="1192.3,612.2 1205.2,612.2" fill="none" stroke="#005b00" stroke-width="10.3" stroke-linecap="round" stroke-linejoin="round" style="mix-blend-mode:screen"/><polyline points="1235.7,478 1243.7,489 1253.4,490.6" fill="none" stroke="#005b00" stroke-width="7.7" stroke-linecap="round" stroke-linejoin="round" style="mix-blend-mode:screen"/><ellipse cx="1161.8" cy="457.4" rx="2.6" ry="2.5" fill="#007200" style="mix-blend-mode:screen"/><ellipse cx="1079.9" cy="562.5" rx="1.9" ry="1.9" fill="#007200" style="mix-blend-mode:screen"/><ellipse cx="1328.9" cy="586.9" rx="2.3" ry="2.8" fill="#007200" style="mix-blend-mode:screen"/><polyline points="1157,533.2 1169.8,531.6" fill="none" stroke="#670000" stroke-width="8.6" stroke-linecap="round" stroke-linejoin="round" style="mix-blend-mode:screen"/><polyline points="1227.7,533.2 1240.5,525.3" fill="none" stroke="#006700" stroke-width="11.2" stroke-linecap="round" stroke-linejoin="round" style="mix-blend-mode:screen"/></g></g>
<g clip-path="url(#cp9)"><rect x="1357.3" y="83.5" width="286.2" height="284.7" fill="#000"/><polyline points="1542.7,101.7 1549.8,129.8 1574.5,161.4 1620.4,186 1673.4,201.8 1708.7,214.1" fill="none" stroke="#ff10ff" stroke-width="13.9" stroke-linecap="round" stroke-linejoin="round" filter="url(#b4_4p9)" style="mix-blend-mode:screen"/><polyline points="1544.5,108.7 1555.1,140.3 1574.5,163.1 1602.8,179" fill="none" stroke="#ffd0ff" stroke-width="8.8" stroke-linecap="round" stroke-linejoin="round" filter="url(#b3_3p9)" style="mix-blend-mode:screen"/><polyline points="1549.8,98.2 1602.8,84.1 1691.1,87.6 1744,115.7 1761.7,154.3 1740.5,189.5 1708.7,210.5" fill="none" stroke="#c000c0" stroke-width="10.1" stroke-linecap="round" stroke-linejoin="round" opacity="0.8" filter="url(#b8_8p9)" style="mix-blend-mode:screen"/><ellipse cx="1673.4" cy="133.3" rx="70.6" ry="38.6" fill="#300030" filter="url(#b22_0p9)" style="mix-blend-mode:screen"/><polyline points="1673.4,277.3 1691.1,322.9 1726.4,358.1 1779.3,372.1 1832.3,347.6 1867.6,326.5" fill="none" stroke="#d010d0" stroke-width="6.9" stroke-linecap="round" stroke-linejoin="round" filter="url(#b4_4p9)" style="mix-blend-mode:screen"/><polyline points="1828.8,294.9 1849.9,330" fill="none" stroke="#a000a0" stroke-width="4.4" stroke-linecap="round" stroke-linejoin="round" filter="url(#b4_4p9)" style="mix-blend-mode:screen"/><polyline points="1260.2,161.4 1302.6,182.5 1345,196.5 1390.9,161.4 1461.5,140.3" fill="none" stroke="#b000b0" stroke-width="6.3" stroke-linecap="round" stroke-linejoin="round" filter="url(#b5_5p9)" style="mix-blend-mode:screen"/><polyline points="1419.1,34.9 1447.4,31.4 1475.6,45.4" fill="none" stroke="#c000c0" stroke-width="11.3" stroke-linecap="round" stroke-linejoin="round" filter="url(#b8_8p9)" style="mix-blend-mode:screen"/><polyline points="1578.1,-0.2 1638.1,-3.7 1708.7,-3.7" fill="none" stroke="#b000b0" stroke-width="6.9" stroke-linecap="round" stroke-linejoin="round" filter="url(#b5_5p9)" style="mix-blend-mode:screen"/><polyline points="1514.5,38.4 1567.5,45.4 1638.1,41.9 1726.4,31.4" fill="none" stroke="#b000b0" stroke-width="5" stroke-linecap="round" stroke-linejoin="round" filter="url(#b5_5p9)" style="mix-blend-mode:screen"/><polyline points="1496.8,59.5 1525.1,84.1 1549.8,98.2" fill="none" stroke="#b000b0" stroke-width="5" stroke-linecap="round" stroke-linejoin="round" filter="url(#b5_5p9)" style="mix-blend-mode:screen"/><polyline points="1553.3,326.5 1602.8,301.9 1638.1,294.9 1673.4,277.3" fill="none" stroke="#b000b0" stroke-width="5" stroke-linecap="round" stroke-linejoin="round" filter="url(#b4_4p9)" style="mix-blend-mode:screen"/><polyline points="1461.5,340.5 1479.2,358.1" fill="none" stroke="#b000b0" stroke-width="7.6" stroke-linecap="round" stroke-linejoin="round" filter="url(#b5_5p9)" style="mix-blend-mode:screen"/><polyline points="1369.7,263.3 1408.6,266.8 1436.8,273.8" fill="none" stroke="#b000b0" stroke-width="3.8" stroke-linecap="round" stroke-linejoin="round" opacity="0.8" filter="url(#b4_4p9)" style="mix-blend-mode:screen"/><polyline points="1433.2,382.7 1475.6,379.2 1489.8,400.2" fill="none" stroke="#b000b0" stroke-width="3.8" stroke-linecap="round" stroke-linejoin="round" opacity="0.8" filter="url(#b4_4p9)" style="mix-blend-mode:screen"/><polyline points="1482.7,-45.9 1489.8,13.9 1496.8,59.5" fill="none" stroke="#a000a0" stroke-width="3.8" stroke-linecap="round" stroke-linejoin="round" opacity="0.7" filter="url(#b5_5p9)" style="mix-blend-mode:screen"/><polyline points="1578.1,-49.4 1581.6,-28.3" fill="none" stroke="#a000a0" stroke-width="3.8" stroke-linecap="round" stroke-linejoin="round" opacity="0.7" filter="url(#b4_4p9)" style="mix-blend-mode:screen"/><ellipse cx="1355.6" cy="460" rx="38.8" ry="28.1" fill="#5a005a" filter="url(#b17_6p9)" style="mix-blend-mode:screen"/><polyline points="1313.2,484.5 1355.6,502.1 1401.5,491.6" fill="none" stroke="#c000c0" stroke-width="15.1" stroke-linecap="round" stroke-linejoin="round" filter="url(#b8_8p9)" style="mix-blend-mode:screen"/><polyline points="1355.6,523.2 1362.7,554.8" fill="none" stroke="#a000a0" stroke-width="11.3" stroke-linecap="round" stroke-linejoin="round" filter="url(#b8_8p9)" style="mix-blend-mode:screen"/><polyline points="1426.2,547.8 1447.4,561.8" fill="none" stroke="#a000a0" stroke-width="7.6" stroke-linecap="round" stroke-linejoin="round" filter="url(#b6_6p9)" style="mix-blend-mode:screen"/><polyline points="1277.9,400.2 1281.4,414.3" fill="none" stroke="#a000a0" stroke-width="7.6" stroke-linecap="round" stroke-linejoin="round" filter="url(#b6_6p9)" style="mix-blend-mode:screen"/><g filter="url(#fl9)" style="mix-blend-mode:screen"><rect x="1337.3" y="63.5" width="326.2" height="324.7" fill="#666800"/><ellipse cx="1655.7" cy="143.8" rx="67.1" ry="49.2" fill="#000" opacity="0.9" filter="url(#b6_6p9)"/><ellipse cx="1772.3" cy="294.9" rx="70.6" ry="59.7" fill="#000" opacity="0.9" filter="url(#b6_6p9)"/><ellipse cx="1832.3" cy="84.1" rx="53" ry="105.4" fill="#000" opacity="0.9" filter="url(#b8_8p9)"/><ellipse cx="1299.1" cy="294.9" rx="49.4" ry="70.3" fill="#000" opacity="0.8" filter="url(#b8_8p9)"/><ellipse cx="1496.8" cy="210.5" rx="81.2" ry="31.6" fill="#000" opacity="0.7" filter="url(#b8_8p9)"/><ellipse cx="1567.5" cy="452.9" rx="70.6" ry="45.7" fill="#000" opacity="0.8" filter="url(#b8_8p9)"/><polyline points="1415.6,312.4 1461.5,298.4 1532.2,286.1 1602.8,280.8 1638.1,273.8" fill="none" stroke="#006100" stroke-width="30.2" stroke-linecap="round" stroke-linejoin="round" style="mix-blend-mode:screen"/><polyline points="1426.2,308.9 1468.6,294.9 1539.2,284.3 1602.8,291.3" fill="none" stroke="#560000" stroke-width="24.6" stroke-linecap="round" stroke-linejoin="round" style="mix-blend-mode:screen"/><polyline points="1673.4,277.3 1691.1,322.9 1726.4,358.1 1779.3,372.1 1832.3,347.6 1871.1,330" fill="none" stroke="#005b00" stroke-width="24.6" stroke-linecap="round" stroke-linejoin="round" style="mix-blend-mode:screen"/><polyline points="1832.3,337 1867.6,365.1" fill="none" stroke="#005000" stroke-width="37.8" stroke-linecap="round" stroke-linejoin="round" style="mix-blend-mode:screen"/><polyline points="1708.7,358.1 1779.3,370.4" fill="none" stroke="#440000" stroke-width="17" stroke-linecap="round" stroke-linejoin="round" style="mix-blend-mode:screen"/><polyline points="1638.1,470.5 1655.7,505.7 1691.1,523.2 1744,533.7 1797,509.2 1849.9,488.1" fill="none" stroke="#670000" stroke-width="34" stroke-linecap="round" stroke-linejoin="round" style="mix-blend-mode:screen"/><polyline points="1655.7,463.5 1708.7,452.9 1761.7,460" fill="none" stroke="#3f0000" stroke-width="47.2" stroke-linecap="round" stroke-linejoin="round" style="mix-blend-mode:screen"/><polyline points="1673.4,477.5 1726.4,491.6 1772.3,484.5" fill="none" stroke="#003f00" stroke-width="56.7" stroke-linecap="round" stroke-linejoin="round" style="mix-blend-mode:screen"/><polyline points="1814.7,491.6 1867.6,470.5" fill="none" stroke="#500000" stroke-width="37.8" stroke-linecap="round" stroke-linejoin="round" style="mix-blend-mode:screen"/><polyline points="1267.3,-24.8 1306.1,-31.8" fill="none" stroke="#500000" stroke-width="28.3" stroke-linecap="round" stroke-linejoin="round" style="mix-blend-mode:screen"/><polyline points="1461.5,-3.7 1496.8,24.4 1567.5,31.4 1620.4,-3.7 1673.4,-7.3" fill="none" stroke="#004400" stroke-width="47.2" stroke-linecap="round" stroke-linejoin="round" style="mix-blend-mode:screen"/><polyline points="1408.6,17.4 1461.5,27.9 1518,13.9" fill="none" stroke="#4a0000" stroke-width="37.8" stroke-linecap="round" stroke-linejoin="round" style="mix-blend-mode:screen"/><polyline points="1277.9,91.1 1306.1,84.1" fill="none" stroke="#500000" stroke-width="28.3" stroke-linecap="round" stroke-linejoin="round" style="mix-blend-mode:screen"/><polyline points="1366.2,175.4 1398,154.3 1419.1,150.8" fill="none" stroke="#005000" stroke-width="22.7" stroke-linecap="round" stroke-linejoin="round" style="mix-blend-mode:screen"/><polyline points="1369.7,168.4 1415.6,154.3" fill="none" stroke="#500000" stroke-width="17" stroke-linecap="round" stroke-linejoin="round" style="mix-blend-mode:screen"/><polyline points="1345,491.6 1380.3,495.1" fill="none" stroke="#005b00" stroke-width="37.8" stroke-linecap="round" stroke-linejoin="round" style="mix-blend-mode:screen"/><polyline points="1525.1,470.5 1553.3,470.5" fill="none" stroke="#005b00" stroke-width="22.7" stroke-linecap="round" stroke-linejoin="round" style="mix-blend-mode:screen"/><polyline points="1620.4,171.9 1638.1,196.5 1659.3,200" fill="none" stroke="#005b00" stroke-width="17" stroke-linecap="round" stroke-linejoin="round" style="mix-blend-mode:screen"/><ellipse cx="1458" cy="126.2" rx="5.7" ry="5.6" fill="#007200" style="mix-blend-mode:screen"/><ellipse cx="1277.9" cy="359.8" rx="4.2" ry="4.2" fill="#007200" style="mix-blend-mode:screen"/><ellipse cx="1825.2" cy="414.3" rx="5" ry="6.3" fill="#007200" style="mix-blend-mode:screen"/><polyline points="1447.4,294.9 1475.6,291.3" fill="none" stroke="#670000" stroke-width="18.9" stroke-linecap="round" stroke-linejoin="round" style="mix-blend-mode:screen"/><polyline points="1602.8,294.9 1631,277.3" fill="none" stroke="#006700" stroke-width="24.6" stroke-linecap="round" stroke-linejoin="round" style="mix-blend-mode:screen"/></g></g>
<g clip-path="url(#cp10)"><rect x="1357.3" y="375.3" width="286.2" height="281.6" fill="#000"/><g filter="url(#fl10)" style="mix-blend-mode:screen"><rect x="1337.3" y="355.3" width="326.2" height="321.6" fill="#666800"/><ellipse cx="1655.7" cy="435" rx="67.1" ry="48.6" fill="#000" opacity="0.9" filter="url(#b6_6p10)"/><ellipse cx="1772.3" cy="584.4" rx="70.6" ry="59" fill="#000" opacity="0.9" filter="url(#b6_6p10)"/><ellipse cx="1832.3" cy="375.9" rx="53" ry="104.3" fill="#000" opacity="0.9" filter="url(#b8_8p10)"/><ellipse cx="1299.1" cy="584.4" rx="49.4" ry="69.5" fill="#000" opacity="0.8" filter="url(#b8_8p10)"/><ellipse cx="1496.8" cy="500.9" rx="81.2" ry="31.3" fill="#000" opacity="0.7" filter="url(#b8_8p10)"/><ellipse cx="1567.5" cy="740.7" rx="70.6" ry="45.2" fill="#000" opacity="0.8" filter="url(#b8_8p10)"/><polyline points="1415.6,601.7 1461.5,587.9 1532.2,575.7 1602.8,570.4 1638.1,563.5" fill="none" stroke="#006100" stroke-width="30.2" stroke-linecap="round" stroke-linejoin="round" style="mix-blend-mode:screen"/><polyline points="1426.2,598.3 1468.6,584.4 1539.2,573.9 1602.8,580.9" fill="none" stroke="#560000" stroke-width="24.6" stroke-linecap="round" stroke-linejoin="round" style="mix-blend-mode:screen"/><polyline points="1673.4,567 1691.1,612.1 1726.4,646.9 1779.3,660.8 1832.3,636.5 1871.1,619.1" fill="none" stroke="#005b00" stroke-width="24.6" stroke-linecap="round" stroke-linejoin="round" style="mix-blend-mode:screen"/><polyline points="1832.3,626.1 1867.6,653.8" fill="none" stroke="#005000" stroke-width="37.8" stroke-linecap="round" stroke-linejoin="round" style="mix-blend-mode:screen"/><polyline points="1708.7,646.9 1779.3,659" fill="none" stroke="#440000" stroke-width="17" stroke-linecap="round" stroke-linejoin="round" style="mix-blend-mode:screen"/><polyline points="1638.1,758.1 1655.7,792.9 1691.1,810.2 1744,820.6 1797,796.3 1849.9,775.4" fill="none" stroke="#670000" stroke-width="34" stroke-linecap="round" stroke-linejoin="round" style="mix-blend-mode:screen"/><polyline points="1655.7,751.2 1708.7,740.7 1761.7,747.7" fill="none" stroke="#3f0000" stroke-width="47.2" stroke-linecap="round" stroke-linejoin="round" style="mix-blend-mode:screen"/><polyline points="1673.4,765 1726.4,778.9 1772.3,772" fill="none" stroke="#003f00" stroke-width="56.7" stroke-linecap="round" stroke-linejoin="round" style="mix-blend-mode:screen"/><polyline points="1814.7,778.9 1867.6,758.1" fill="none" stroke="#500000" stroke-width="37.8" stroke-linecap="round" stroke-linejoin="round" style="mix-blend-mode:screen"/><polyline points="1267.3,268.2 1306.1,261.2" fill="none" stroke="#500000" stroke-width="28.3" stroke-linecap="round" stroke-linejoin="round" style="mix-blend-mode:screen"/><polyline points="1461.5,289 1496.8,316.8 1567.5,323.8 1620.4,289 1673.4,285.5" fill="none" stroke="#004400" stroke-width="47.2" stroke-linecap="round" stroke-linejoin="round" style="mix-blend-mode:screen"/><polyline points="1408.6,309.9 1461.5,320.3 1518,306.4" fill="none" stroke="#4a0000" stroke-width="37.8" stroke-linecap="round" stroke-linejoin="round" style="mix-blend-mode:screen"/><polyline points="1277.9,382.9 1306.1,375.9" fill="none" stroke="#500000" stroke-width="28.3" stroke-linecap="round" stroke-linejoin="round" style="mix-blend-mode:screen"/><polyline points="1366.2,466.2 1398,445.4 1419.1,441.9" fill="none" stroke="#005000" stroke-width="22.7" stroke-linecap="round" stroke-linejoin="round" style="mix-blend-mode:screen"/><polyline points="1369.7,459.2 1415.6,445.4" fill="none" stroke="#500000" stroke-width="17" stroke-linecap="round" stroke-linejoin="round" style="mix-blend-mode:screen"/><polyline points="1345,778.9 1380.3,782.4" fill="none" stroke="#005b00" stroke-width="37.8" stroke-linecap="round" stroke-linejoin="round" style="mix-blend-mode:screen"/><polyline points="1525.1,758.1 1553.3,758.1" fill="none" stroke="#005b00" stroke-width="22.7" stroke-linecap="round" stroke-linejoin="round" style="mix-blend-mode:screen"/><polyline points="1620.4,462.8 1638.1,487.1 1659.3,490.5" fill="none" stroke="#005b00" stroke-width="17" stroke-linecap="round" stroke-linejoin="round" style="mix-blend-mode:screen"/><ellipse cx="1458" cy="417.6" rx="5.7" ry="5.6" fill="#007200" style="mix-blend-mode:screen"/><ellipse cx="1277.9" cy="648.6" rx="4.2" ry="4.2" fill="#007200" style="mix-blend-mode:screen"/><ellipse cx="1825.2" cy="702.5" rx="5" ry="6.3" fill="#007200" style="mix-blend-mode:screen"/><polyline points="1447.4,584.4 1475.6,580.9" fill="none" stroke="#670000" stroke-width="18.9" stroke-linecap="round" stroke-linejoin="round" style="mix-blend-mode:screen"/><polyline points="1602.8,584.4 1631,567" fill="none" stroke="#006700" stroke-width="24.6" stroke-linecap="round" stroke-linejoin="round" style="mix-blend-mode:screen"/></g></g>
<g clip-path="url(#cp11)"><rect x="1647.5" y="82.8" width="283.7" height="285.4" fill="#000"/><polygon points="1806.6,82.8 1931.2,82.8 1931.2,130.8 1886.2,102 1846.4,102 1830.5,124.4" fill="#8a8a8a" filter="url(#b6p11)" style="mix-blend-mode:screen"/><polyline points="1835.3,110 1848,135.6 1862.3,154.8" fill="none" stroke="#ffffff" stroke-width="27" stroke-linecap="round" stroke-linejoin="round" filter="url(#b4p11)" style="mix-blend-mode:screen"/><polyline points="1862.3,159.6 1886.2,178.8 1918,191.7" fill="none" stroke="#9a9a9a" stroke-width="11.3" stroke-linecap="round" stroke-linejoin="round" filter="url(#b5p11)" style="mix-blend-mode:screen"/><ellipse cx="1898.9" cy="143.6" rx="38.2" ry="36.8" fill="#000000" filter="url(#b10p11)"/><polygon points="1878.2,258.9 1931.2,258.9 1931.2,314.9 1902.1,319.7 1854.3,319.7 1838.4,306.9 1870.3,290.9" fill="#505050" filter="url(#b6p11)" style="mix-blend-mode:screen"/><polyline points="1886.2,282.9 1910,274.9 1931.2,266.9" fill="none" stroke="#808080" stroke-width="8.5" stroke-linecap="round" stroke-linejoin="round" filter="url(#b5p11)" style="mix-blend-mode:screen"/><polyline points="1652.3,194.8 1671.4,175.6 1695.2,159.6 1714.3,154.8" fill="none" stroke="#707070" stroke-width="7.4" stroke-linecap="round" stroke-linejoin="round" filter="url(#b4p11)" style="mix-blend-mode:screen"/><ellipse cx="1771.6" cy="346.9" rx="11.1" ry="11.2" fill="#6a6a6a" filter="url(#b6p11)" style="mix-blend-mode:screen"/><polyline points="1787.5,114.8 1789.1,146.8" fill="none" stroke="#3a3a3a" stroke-width="5.7" stroke-linecap="round" stroke-linejoin="round" filter="url(#b3p11)" style="mix-blend-mode:screen"/><g filter="url(#fl11)" style="mix-blend-mode:screen"><rect x="1627.5" y="62.8" width="323.7" height="325.4" fill="#000000"/></g><polyline points="1800.2,86 1805,98.8 1808.2,111.6 1822.5,119.6 1833.7,135.6 1846.4,158 1859.1,167.6 1878.2,180.4 1895.7,188.5 1914.8,193.2 1931.2,207.7" fill="none" stroke="#ff00ff" stroke-width="9.1" stroke-linecap="round" stroke-linejoin="round"/><polyline points="1792.3,103.6 1784.3,122.8 1778.8,150 1787.5,156.4 1800.2,158 1802.6,146.8 1797.9,122.8 1795.5,103.6" fill="none" stroke="#ff00ff" stroke-width="6.8" stroke-linecap="round" stroke-linejoin="round"/><polyline points="1765.2,87.6 1758.9,103.6 1746.1,121.2 1733.4,135.6" fill="none" stroke="#ff00ff" stroke-width="14.2" stroke-linecap="round" stroke-linejoin="round"/><ellipse cx="1671.4" cy="119.6" rx="10.4" ry="9.6" fill="#ff00ff"/><polygon points="1693.6,86.8 1701.6,86.8 1701.6,94.8 1693.6,94.8" fill="#ff00ff"/><polyline points="1719.1,86.8 1730.2,88.4" fill="none" stroke="#ff00ff" stroke-width="7.4" stroke-linecap="round" stroke-linejoin="round"/><polyline points="1650.7,178.8 1668.2,161.2 1695.2,150 1719.1,148.4 1728.6,151.6" fill="none" stroke="#ff00ff" stroke-width="9.1" stroke-linecap="round" stroke-linejoin="round"/><polyline points="1650.7,204.4 1663.4,198 1679.3,185.2 1692,177.2 1714.3,164.4" fill="none" stroke="#ff00ff" stroke-width="9.1" stroke-linecap="round" stroke-linejoin="round"/><polyline points="1650.7,226.9 1663.4,214.1 1679.3,199.6" fill="none" stroke="#ff00ff" stroke-width="9.1" stroke-linecap="round" stroke-linejoin="round"/><polyline points="1715.9,162.8 1730.2,175.6 1738.2,186.9" fill="none" stroke="#ff00ff" stroke-width="9.1" stroke-linecap="round" stroke-linejoin="round"/><ellipse cx="1750.9" cy="173.2" rx="10.4" ry="7.2" fill="none" stroke="#ff00ff" stroke-width="7.4"/><polygon points="1806.5,127.5 1813.1,127.5 1813.1,134.2 1806.5,134.2" fill="#ff00ff"/><polygon points="1839.2,166.8 1847.2,166.8 1847.2,174.8 1839.2,174.8" fill="#ff00ff"/><polygon points="1852.8,194 1860.7,194 1860.7,202 1852.8,202" fill="#ff00ff"/><ellipse cx="1878.2" cy="218.9" rx="11.9" ry="11.2" fill="none" stroke="#ff00ff" stroke-width="8.5"/><polyline points="1900.5,207.7 1903.7,226.9 1918,234.9 1931.2,228.5" fill="none" stroke="#ff00ff" stroke-width="9.6" stroke-linecap="round" stroke-linejoin="round"/><polyline points="1857.5,236.5 1878.2,239.7 1886.2,258.9 1902.1,255.7 1931.2,257.3" fill="none" stroke="#ff00ff" stroke-width="9.6" stroke-linecap="round" stroke-linejoin="round"/><polyline points="1924.4,258.9 1924.4,274.9" fill="none" stroke="#ff00ff" stroke-width="8.5" stroke-linecap="round" stroke-linejoin="round"/><polyline points="1908.4,226.9 1908.4,250.9" fill="none" stroke="#ff00ff" stroke-width="8.5" stroke-linecap="round" stroke-linejoin="round"/><polygon points="1839.2,226.1 1850.4,226.1 1850.4,237.3 1839.2,237.3" fill="#ff00ff"/><polygon points="1829.3,240.1 1836.4,240.1 1836.4,247.3 1829.3,247.3" fill="#ff00ff"/><polygon points="1839.6,240.1 1846.8,240.1 1846.8,247.3 1839.6,247.3" fill="#ff00ff"/><polyline points="1668.2,263.7 1695.2,266.9 1719.1,265.3 1743,271.7 1746.1,279.7 1727,281.3 1711.1,274.9 1679.3,270.1 1668.2,263.7" fill="none" stroke="#ff00ff" stroke-width="7.4" stroke-linecap="round" stroke-linejoin="round"/><polyline points="1757.3,249.3 1771.6,257.3 1785.9,271.7 1800.2,266.9 1806.6,282.9 1790.7,290.9 1774.8,284.5 1757.3,278.1" fill="none" stroke="#ff00ff" stroke-width="10.2" stroke-linecap="round" stroke-linejoin="round"/><polyline points="1790.7,290.9 1787.5,298.9" fill="none" stroke="#ff00ff" stroke-width="10.2" stroke-linecap="round" stroke-linejoin="round"/><ellipse cx="1698.4" cy="294.1" rx="14.3" ry="11.2" fill="#ff00ff"/><ellipse cx="1712.7" cy="321.3" rx="9.6" ry="8" fill="#ff00ff"/><ellipse cx="1735" cy="321.3" rx="7.1" ry="6.7" fill="#ff00ff"/><ellipse cx="1663.4" cy="322.9" rx="8.7" ry="7.2" fill="#ff00ff"/><ellipse cx="1663.4" cy="358.1" rx="12.7" ry="9.6" fill="#ff00ff"/><ellipse cx="1813" cy="298.9" rx="7.1" ry="6.4" fill="#ff00ff"/><polyline points="1833.7,276.5 1844.8,273.3" fill="none" stroke="#ff00ff" stroke-width="6.8" stroke-linecap="round" stroke-linejoin="round"/><polyline points="1873.4,258.9 1870.3,282.9 1862.3,292.5 1838.4,298.9 1830.5,311.7 1814.6,322.9 1811.4,332.5 1822.5,338.9 1838.4,329.3 1854.3,322.9 1878.2,318.1 1902.1,321.3 1931.2,314.9" fill="none" stroke="#ff00ff" stroke-width="9.1" stroke-linecap="round" stroke-linejoin="round"/><polyline points="1890.9,321.3 1890.9,346.9 1900.5,346.9 1902.1,322.9" fill="none" stroke="#ff00ff" stroke-width="9.1" stroke-linecap="round" stroke-linejoin="round"/><polyline points="1774.8,306.9 1771.6,322.9 1782.7,332.5 1758.9,335.7 1743,338.9 1749.3,353.3 1736.6,364.5 1723.9,368.2" fill="none" stroke="#ff00ff" stroke-width="9.1" stroke-linecap="round" stroke-linejoin="round"/><polyline points="1782.7,332.5 1798.7,338.9 1790.7,354.9 1787.5,368.2" fill="none" stroke="#ff00ff" stroke-width="9.1" stroke-linecap="round" stroke-linejoin="round"/><polyline points="1822.5,338.9 1806.6,351.7 1800.2,364.5" fill="none" stroke="#ff00ff" stroke-width="9.1" stroke-linecap="round" stroke-linejoin="round"/><polyline points="1838.4,329.3 1830.5,342.1 1819.3,354.9" fill="none" stroke="#ff00ff" stroke-width="9.1" stroke-linecap="round" stroke-linejoin="round"/></g>
<g clip-path="url(#cp12)"><rect x="1647.5" y="375.3" width="283.7" height="281.6" fill="#000"/><polyline points="1800.2,378.5 1805,391.1 1808.2,403.7 1822.5,411.6 1833.7,427.4 1846.4,449.5 1859.1,459 1878.2,471.6 1895.7,479.5 1914.8,484.3 1931.2,498.5" fill="none" stroke="#ff00ff" stroke-width="9.1" stroke-linecap="round" stroke-linejoin="round"/><polyline points="1792.3,395.8 1784.3,414.8 1778.8,441.6 1787.5,448 1800.2,449.5 1802.6,438.5 1797.9,414.8 1795.5,395.8" fill="none" stroke="#ff00ff" stroke-width="6.8" stroke-linecap="round" stroke-linejoin="round"/><polyline points="1765.2,380 1758.9,395.8 1746.1,413.2 1733.4,427.4" fill="none" stroke="#ff00ff" stroke-width="14.2" stroke-linecap="round" stroke-linejoin="round"/><ellipse cx="1671.4" cy="411.6" rx="10.4" ry="9.5" fill="#ff00ff"/><polygon points="1693.6,379.2 1701.6,379.2 1701.6,387.2 1693.6,387.2" fill="#ff00ff"/><polyline points="1719.1,379.2 1730.2,380.8" fill="none" stroke="#ff00ff" stroke-width="7.4" stroke-linecap="round" stroke-linejoin="round"/><polyline points="1650.7,470.1 1668.2,452.7 1695.2,441.6 1719.1,440 1728.6,443.2" fill="none" stroke="#ff00ff" stroke-width="9.1" stroke-linecap="round" stroke-linejoin="round"/><polyline points="1650.7,495.3 1663.4,489 1679.3,476.4 1692,468.5 1714.3,455.8" fill="none" stroke="#ff00ff" stroke-width="9.1" stroke-linecap="round" stroke-linejoin="round"/><polyline points="1650.7,517.5 1663.4,504.8 1679.3,490.6" fill="none" stroke="#ff00ff" stroke-width="9.1" stroke-linecap="round" stroke-linejoin="round"/><polyline points="1715.9,454.3 1730.2,466.9 1738.2,478" fill="none" stroke="#ff00ff" stroke-width="9.1" stroke-linecap="round" stroke-linejoin="round"/><ellipse cx="1750.9" cy="464.5" rx="10.4" ry="7.1" fill="none" stroke="#ff00ff" stroke-width="7.4"/><polygon points="1806.5,419.4 1813.1,419.4 1813.1,426 1806.5,426" fill="#ff00ff"/><polygon points="1839.2,458.2 1847.2,458.2 1847.2,466.1 1839.2,466.1" fill="#ff00ff"/><polygon points="1852.8,485.1 1860.7,485.1 1860.7,493 1852.8,493" fill="#ff00ff"/><ellipse cx="1878.2" cy="509.5" rx="11.9" ry="11.1" fill="none" stroke="#ff00ff" stroke-width="8.5"/><polyline points="1900.5,498.5 1903.7,517.5 1918,525.3 1931.2,519" fill="none" stroke="#ff00ff" stroke-width="9.6" stroke-linecap="round" stroke-linejoin="round"/><polyline points="1857.5,526.9 1878.2,530.1 1886.2,549 1902.1,545.9 1931.2,547.4" fill="none" stroke="#ff00ff" stroke-width="9.6" stroke-linecap="round" stroke-linejoin="round"/><polyline points="1924.4,549 1924.4,564.8" fill="none" stroke="#ff00ff" stroke-width="8.5" stroke-linecap="round" stroke-linejoin="round"/><polyline points="1908.4,517.5 1908.4,541.1" fill="none" stroke="#ff00ff" stroke-width="8.5" stroke-linecap="round" stroke-linejoin="round"/><polygon points="1839.2,516.7 1850.4,516.7 1850.4,527.7 1839.2,527.7" fill="#ff00ff"/><polygon points="1829.3,530.5 1836.4,530.5 1836.4,537.6 1829.3,537.6" fill="#ff00ff"/><polygon points="1839.6,530.5 1846.8,530.5 1846.8,537.6 1839.6,537.6" fill="#ff00ff"/><polyline points="1668.2,553.8 1695.2,556.9 1719.1,555.4 1743,561.7 1746.1,569.5 1727,571.2 1711.1,564.8 1679.3,560.1 1668.2,553.8" fill="none" stroke="#ff00ff" stroke-width="7.4" stroke-linecap="round" stroke-linejoin="round"/><polyline points="1757.3,539.6 1771.6,547.4 1785.9,561.7 1800.2,556.9 1806.6,572.7 1790.7,580.6 1774.8,574.3 1757.3,568" fill="none" stroke="#ff00ff" stroke-width="10.2" stroke-linecap="round" stroke-linejoin="round"/><polyline points="1790.7,580.6 1787.5,588.5" fill="none" stroke="#ff00ff" stroke-width="10.2" stroke-linecap="round" stroke-linejoin="round"/><ellipse cx="1698.4" cy="583.8" rx="14.3" ry="11.1" fill="#ff00ff"/><ellipse cx="1712.7" cy="610.6" rx="9.6" ry="7.9" fill="#ff00ff"/><ellipse cx="1735" cy="610.6" rx="7.1" ry="6.6" fill="#ff00ff"/><ellipse cx="1663.4" cy="612.2" rx="8.7" ry="7.1" fill="#ff00ff"/><ellipse cx="1663.4" cy="647" rx="12.7" ry="9.5" fill="#ff00ff"/><ellipse cx="1813" cy="588.5" rx="7.1" ry="6.3" fill="#ff00ff"/><polyline points="1833.7,566.4 1844.8,563.2" fill="none" stroke="#ff00ff" stroke-width="6.8" stroke-linecap="round" stroke-linejoin="round"/><polyline points="1873.4,549 1870.3,572.7 1862.3,582.2 1838.4,588.5 1830.5,601.1 1814.6,612.2 1811.4,621.7 1822.5,628 1838.4,618.5 1854.3,612.2 1878.2,607.5 1902.1,610.6 1931.2,604.3" fill="none" stroke="#ff00ff" stroke-width="9.1" stroke-linecap="round" stroke-linejoin="round"/><polyline points="1890.9,610.6 1890.9,635.9 1900.5,635.9 1902.1,612.2" fill="none" stroke="#ff00ff" stroke-width="9.1" stroke-linecap="round" stroke-linejoin="round"/><polyline points="1774.8,596.4 1771.6,612.2 1782.7,621.7 1758.9,624.8 1743,628 1749.3,642.2 1736.6,653.3 1723.9,656.9" fill="none" stroke="#ff00ff" stroke-width="9.1" stroke-linecap="round" stroke-linejoin="round"/><polyline points="1782.7,621.7 1798.7,628 1790.7,643.8 1787.5,656.9" fill="none" stroke="#ff00ff" stroke-width="9.1" stroke-linecap="round" stroke-linejoin="round"/><polyline points="1822.5,628 1806.6,640.6 1800.2,653.3" fill="none" stroke="#ff00ff" stroke-width="9.1" stroke-linecap="round" stroke-linejoin="round"/><polyline points="1838.4,618.5 1830.5,631.2 1819.3,643.8" fill="none" stroke="#ff00ff" stroke-width="9.1" stroke-linecap="round" stroke-linejoin="round"/><g filter="url(#fl12)" style="mix-blend-mode:normal"><rect x="1627.5" y="355.3" width="323.7" height="321.6" fill="#000000"/><polyline points="1820.9,403.7 1833.7,427.4 1846.4,454.3" fill="none" stroke="#00ff00" stroke-width="8.5" stroke-linecap="round" stroke-linejoin="round" style="mix-blend-mode:screen"/><polyline points="1766.8,572.7 1806.6,583.8 1843.2,575.9" fill="none" stroke="#00ff00" stroke-width="7.9" stroke-linecap="round" stroke-linejoin="round" style="mix-blend-mode:screen"/><polyline points="1703.2,585.3 1727,596.4 1750.9,596.4" fill="none" stroke="#00ff00" stroke-width="7.4" stroke-linecap="round" stroke-linejoin="round" style="mix-blend-mode:screen"/><polyline points="1895.7,555.4 1918,574.3" fill="none" stroke="#00ff00" stroke-width="6.8" stroke-linecap="round" stroke-linejoin="round" style="mix-blend-mode:screen"/><polyline points="1895.7,478 1908.4,478" fill="none" stroke="#00ff00" stroke-width="4.5" stroke-linecap="round" stroke-linejoin="round" style="mix-blend-mode:screen"/><polyline points="1730.2,410 1743,403.7" fill="none" stroke="#00e500" stroke-width="5.7" stroke-linecap="round" stroke-linejoin="round" style="mix-blend-mode:screen"/><polyline points="1846.4,599.6 1854.3,591.7" fill="none" stroke="#00e500" stroke-width="4.5" stroke-linecap="round" stroke-linejoin="round" style="mix-blend-mode:screen"/><polyline points="1663.4,463.8 1669.8,460.6" fill="none" stroke="#00e500" stroke-width="3.4" stroke-linecap="round" stroke-linejoin="round" style="mix-blend-mode:screen"/><ellipse cx="1668.2" cy="406.9" rx="2.9" ry="4.4" fill="#ff0000" style="mix-blend-mode:screen"/><ellipse cx="1743" cy="406.9" rx="3.8" ry="3.5" fill="#ff0000" style="mix-blend-mode:screen"/><ellipse cx="1840" cy="436.9" rx="3.2" ry="3.2" fill="#ff0000" style="mix-blend-mode:screen"/><ellipse cx="1758.9" cy="536.4" rx="2.9" ry="4.4" fill="#ff0000" style="mix-blend-mode:screen"/><ellipse cx="1827.3" cy="558.5" rx="3.5" ry="2.8" fill="#ff0000" style="mix-blend-mode:screen"/><ellipse cx="1886.2" cy="511.1" rx="2.6" ry="2.8" fill="#ff0000" style="mix-blend-mode:screen"/><ellipse cx="1711.1" cy="440" rx="2.9" ry="2.8" fill="#ff0000" style="mix-blend-mode:screen"/><ellipse cx="1790.7" cy="561.7" rx="2.9" ry="2.8" fill="#ff0000" style="mix-blend-mode:screen"/><ellipse cx="1682.5" cy="422.7" rx="2.6" ry="2.5" fill="#ff0000" style="mix-blend-mode:screen"/><ellipse cx="1867.1" cy="642.2" rx="2.2" ry="2.2" fill="#ff0000" style="mix-blend-mode:screen"/></g></g>
<rect x="92" y="369" width="289" height="6.2" fill="#fff"/>
<text x="7" y="96" font-size="34" font-weight="bold">a</text>
<text x="80" y="373" font-size="26" font-weight="bold" text-anchor="middle" transform="rotate(-90 80 373)" xml:space="preserve"><tspan fill="#ff00ff">TH</tspan><tspan fill="#00ffff"> HAPLN1</tspan><tspan fill="#ffff00"> Aggrecan</tspan></text>
<text x="1050" y="376" font-size="26" font-weight="bold" text-anchor="middle" transform="rotate(-90 1050 376)" xml:space="preserve"><tspan fill="#ff00ff">TH</tspan><tspan fill="#00ffff"> HAPLN1</tspan><tspan fill="#ffff00"> Aggrecan</tspan></text>
<rect x="116.5" y="122.5" width="84.5" height="85" fill="none" stroke="#fff" stroke-width="4"/>
<rect x="235.5" y="141.5" width="84.5" height="84" fill="none" stroke="#fff" stroke-width="4"/>
<text x="121" y="150" font-size="25" font-weight="bold" fill="#fff">1</text>
<text x="243" y="167" font-size="25" font-weight="bold" fill="#fff">2</text>
<rect x="457.5" y="142.3" width="175" height="175.4" fill="none" stroke="#fff" stroke-width="4"/>
<rect x="402.3" y="427" width="175.3" height="176" fill="none" stroke="#fff" stroke-width="4"/>
<text x="400" y="117.8" font-size="25" font-weight="bold" fill="#fff">1</text>
<text x="399.6" y="403" font-size="25" font-weight="bold" fill="#fff">2</text>
<line x1="105" y1="645.5" x2="218" y2="645.5" stroke="#fff" stroke-width="4.4"/>
<text x="162.5" y="626" font-size="26" font-weight="bold" text-anchor="middle" fill="#fff">35 µm</text>
<line x1="401" y1="645.5" x2="513" y2="645.5" stroke="#fff" stroke-width="4.4"/>
<text x="453" y="632.5" font-size="26" font-weight="bold" text-anchor="middle" fill="#fff">10 µm</text>
<line x1="687" y1="645.5" x2="799.4" y2="645.5" stroke="#fff" stroke-width="4.4"/>
<text x="739" y="632.5" font-size="26" font-weight="bold" text-anchor="middle" fill="#fff">6 µm</text>
<rect x="1114.1" y="145.2" width="133.9" height="133.9" fill="none" stroke="#fff" stroke-width="3.8"/>
<rect x="1114.1" y="437.6" width="133.9" height="133.2" fill="none" stroke="#fff" stroke-width="3.8"/>
<line x1="1078.8" y1="645.5" x2="1190.6" y2="645.5" stroke="#fff" stroke-width="4.4"/>
<text x="1134.7" y="632.5" font-size="26" font-weight="bold" text-anchor="middle" fill="#fff">20 µm</text>
<line x1="1363" y1="645.5" x2="1475" y2="645.5" stroke="#fff" stroke-width="4.4"/>
<text x="1416" y="632.5" font-size="26" font-weight="bold" text-anchor="middle" fill="#fff">10 µm</text>
<rect x="9" y="1255.6" width="1926" height="59" fill="#d9d9d9"/>
<text x="971.7" y="1294.8" font-size="26" font-weight="bold" text-anchor="middle">Behavioral Impact on Dopamine Neuron Hyaluronan-Homer2</text>
<text x="0.5" y="1346.2" font-size="34" font-weight="bold">d</text>
<text x="281.7" y="1343.1" font-size="26" font-weight="bold" text-anchor="middle">Image</text>
<text x="759.4" y="1348.8" font-size="26" font-weight="bold" text-anchor="middle">Peri-TH ROI</text>
<text x="1227" y="1342.6" font-size="26" font-weight="bold" text-anchor="middle">Overlay on Image</text>
<text x="1716" y="1342.6" font-size="26" font-weight="bold" text-anchor="middle">TH-Homer2; TH-Hyal</text>
<rect x="23.8" y="1359" width="62" height="415" fill="#000"/>
<g clip-path="url(#cp13)"><rect x="82" y="1359" width="408" height="415" fill="#000"/><polygon points="162.1,1359 490,1359 490,1774 82,1774 82,1521.9" fill="#2c002c" filter="url(#b12p13)" style="mix-blend-mode:screen"/><polygon points="104.9,1510.3 139.2,1482.4 178.1,1456.8 210.2,1433.5 228.4,1428.8 242.2,1452.1 276.5,1463.7 306.2,1489.4 306.2,1507.9 269.6,1517.3 230.8,1512.6 196.4,1526.6 150.7,1521.9 111.7,1531.2" fill="#990999" filter="url(#b8p13)" style="mix-blend-mode:screen"/><ellipse cx="185" cy="1496.3" rx="52.6" ry="21" fill="#560556" filter="url(#b14p13)" transform="rotate(-20 185 1496.3)" style="mix-blend-mode:screen"/><polygon points="283.4,1359 297.1,1405.6 301.7,1428.8 310.8,1463.7 310.8,1503.3 304,1545.2 324.6,1559.2 368,1563.8 397.8,1556.8 420.7,1526.6 471,1521.9 490,1510.3 490,1452.1 459.6,1428.8 379.5,1452.1 358.9,1449.8 436.7,1398.5 482.5,1359" fill="#8f088f" filter="url(#b8p13)" style="mix-blend-mode:screen"/><ellipse cx="457.3" cy="1498.6" rx="20.6" ry="27.9" fill="#7b077b" filter="url(#b10p13)" transform="rotate(30 457.3 1498.6)" style="mix-blend-mode:screen"/><ellipse cx="310.8" cy="1405.6" rx="18.3" ry="46.6" fill="#3d033d" filter="url(#b12p13)" style="mix-blend-mode:screen"/><polygon points="82,1736.1 127.8,1722.1 196.4,1708.1 242.2,1696.5 228.4,1722.1 173.5,1754.7 168.9,1774 82,1774" fill="#7b077b" filter="url(#b8p13)" style="mix-blend-mode:screen"/><ellipse cx="95.7" cy="1631.3" rx="20.6" ry="18.6" fill="#6f066f" filter="url(#b8p13)" style="mix-blend-mode:screen"/><polyline points="104.9,1696.5 150.7,1680.2 196.4,1650 219.3,1626.7" fill="none" stroke="#630563" stroke-width="9.2" stroke-linecap="round" stroke-linejoin="round" filter="url(#b5p13)" style="mix-blend-mode:screen"/><polyline points="168.9,1712.8 219.3,1696.5 265.1,1677.9 310.8,1668.5 329.1,1680.2" fill="none" stroke="#630563" stroke-width="8.2" stroke-linecap="round" stroke-linejoin="round" filter="url(#b5p13)" style="mix-blend-mode:screen"/><polyline points="223.9,1661.6 242.2,1626.7 276.5,1633.6 288,1636" fill="none" stroke="#560556" stroke-width="6.9" stroke-linecap="round" stroke-linejoin="round" filter="url(#b5p13)" style="mix-blend-mode:screen"/><polyline points="448.1,1545.2 490,1540.6" fill="none" stroke="#ad0aad" stroke-width="6.9" stroke-linecap="round" stroke-linejoin="round" filter="url(#b5p13)" style="mix-blend-mode:screen"/><polyline points="436.7,1587.1 471,1589.4" fill="none" stroke="#7b077b" stroke-width="6.9" stroke-linecap="round" stroke-linejoin="round" filter="url(#b5p13)" style="mix-blend-mode:screen"/><polyline points="452.7,1703.5 490,1694.2" fill="none" stroke="#630563" stroke-width="6.9" stroke-linecap="round" stroke-linejoin="round" filter="url(#b5p13)" style="mix-blend-mode:screen"/><polyline points="288,1750 322.3,1759.4" fill="none" stroke="#4a044a" stroke-width="5.9" stroke-linecap="round" stroke-linejoin="round" filter="url(#b5p13)" style="mix-blend-mode:screen"/><polyline points="150.7,1568.5 219.3,1591.8 288,1603.4 356.6,1626.7 425.3,1650" fill="none" stroke="#360336" stroke-width="8.2" stroke-linecap="round" stroke-linejoin="round" filter="url(#b6p13)" style="mix-blend-mode:screen"/><polyline points="127.8,1545.2 196.4,1556.8 265.1,1591.8" fill="none" stroke="#310231" stroke-width="8.2" stroke-linecap="round" stroke-linejoin="round" filter="url(#b6p13)" style="mix-blend-mode:screen"/><polyline points="333.7,1591.8 379.5,1615 425.3,1708.1 448.1,1774" fill="none" stroke="#310231" stroke-width="8.2" stroke-linecap="round" stroke-linejoin="round" filter="url(#b6p13)" style="mix-blend-mode:screen"/><polyline points="310.8,1684.9 345.2,1708.1 356.6,1774" fill="none" stroke="#310231" stroke-width="8.2" stroke-linecap="round" stroke-linejoin="round" filter="url(#b6p13)" style="mix-blend-mode:screen"/><polyline points="150.7,1405.6 219.3,1393.9 265.1,1382.3" fill="none" stroke="#180118" stroke-width="13.7" stroke-linecap="round" stroke-linejoin="round" filter="url(#b10p13)" style="mix-blend-mode:screen"/><ellipse cx="377.2" cy="1375.3" rx="59.5" ry="34.9" fill="#1a001a" opacity="0.85" filter="url(#b9p13)"/><ellipse cx="381.8" cy="1498.6" rx="45.8" ry="39.5" fill="#1a001a" opacity="0.85" filter="url(#b9p13)" transform="rotate(-20 381.8 1498.6)"/><g filter="url(#fl13)" style="mix-blend-mode:normal"><rect x="62" y="1339" width="448" height="455" fill="#504e00"/><ellipse cx="368" cy="1503.3" rx="45.8" ry="30.3" fill="#000" opacity="0.35" filter="url(#b8p13)"/><ellipse cx="139.2" cy="1428.8" rx="68.7" ry="65.2" fill="#000" opacity="0.2" filter="url(#b10p13)"/><ellipse cx="322.3" cy="1661.6" rx="57.2" ry="27.9" fill="#000" opacity="0.2" filter="url(#b8p13)"/><polyline points="313.1,1498.6 299.4,1535.9 345.2,1552.2 379.5,1552.2 402.4,1540.6 413.8,1526.6 443.5,1526.6 471,1535.9" fill="none" stroke="#320000" stroke-width="17.1" stroke-linecap="round" stroke-linejoin="round" style="mix-blend-mode:screen"/><polyline points="439,1475.4 448.1,1463.7 468.7,1456.8" fill="none" stroke="#380000" stroke-width="19.4" stroke-linecap="round" stroke-linejoin="round" style="mix-blend-mode:screen"/><polyline points="297.1,1449.8 322.3,1447.4 356.6,1456.8" fill="none" stroke="#270000" stroke-width="13.7" stroke-linecap="round" stroke-linejoin="round" style="mix-blend-mode:screen"/><polyline points="281.1,1373 297.1,1393.9" fill="none" stroke="#2c0000" stroke-width="13.7" stroke-linecap="round" stroke-linejoin="round" style="mix-blend-mode:screen"/><polyline points="104.9,1731.4 150.7,1719.8 196.4,1712.8 230.8,1722.1" fill="none" stroke="#210000" stroke-width="28.6" stroke-linecap="round" stroke-linejoin="round" style="mix-blend-mode:screen"/><polyline points="201,1680.2 242.2,1680.2 278.8,1668.5" fill="none" stroke="#210000" stroke-width="14.9" stroke-linecap="round" stroke-linejoin="round" style="mix-blend-mode:screen"/><polyline points="249,1580.1 271.9,1582.4 310.8,1587.1" fill="none" stroke="#270000" stroke-width="14.9" stroke-linecap="round" stroke-linejoin="round" style="mix-blend-mode:screen"/><polyline points="379.5,1598.7 406.9,1582.4 448.1,1582.4" fill="none" stroke="#210000" stroke-width="14.9" stroke-linecap="round" stroke-linejoin="round" style="mix-blend-mode:screen"/><polyline points="388.6,1638.3 397.8,1652.3" fill="none" stroke="#2c0000" stroke-width="14.9" stroke-linecap="round" stroke-linejoin="round" style="mix-blend-mode:screen"/><polyline points="333.7,1696.5 349.7,1687.2" fill="none" stroke="#2c0000" stroke-width="17.1" stroke-linecap="round" stroke-linejoin="round" style="mix-blend-mode:screen"/><polyline points="107.2,1531.2 127.8,1530.1" fill="none" stroke="#2c0000" stroke-width="10.3" stroke-linecap="round" stroke-linejoin="round" style="mix-blend-mode:screen"/><polyline points="425.3,1382.3 459.6,1377.6 480.2,1389.3" fill="none" stroke="#270000" stroke-width="22.8" stroke-linecap="round" stroke-linejoin="round" style="mix-blend-mode:screen"/><polyline points="402.4,1424.2 471,1435.8" fill="none" stroke="#210000" stroke-width="22.8" stroke-linecap="round" stroke-linejoin="round" style="mix-blend-mode:screen"/><ellipse cx="212.4" cy="1533.5" rx="5" ry="5.1" fill="#380000" style="mix-blend-mode:screen"/><ellipse cx="203.3" cy="1510.3" rx="5" ry="3.7" fill="#380000" style="mix-blend-mode:screen"/><ellipse cx="455" cy="1668.5" rx="5" ry="4.6" fill="#380000" style="mix-blend-mode:screen"/><ellipse cx="431" cy="1549.9" rx="5" ry="7" fill="#003800" style="mix-blend-mode:screen"/><ellipse cx="122" cy="1680.2" rx="4.6" ry="4.2" fill="#003800" style="mix-blend-mode:screen"/><ellipse cx="206.7" cy="1609.2" rx="4.6" ry="3.7" fill="#003800" style="mix-blend-mode:screen"/><ellipse cx="269.6" cy="1610.4" rx="4.6" ry="3.7" fill="#003800" style="mix-blend-mode:screen"/><ellipse cx="480.2" cy="1710.5" rx="6.9" ry="3.7" fill="#003800" style="mix-blend-mode:screen"/><ellipse cx="461.8" cy="1759.4" rx="5.5" ry="4.6" fill="#003800" style="mix-blend-mode:screen"/><ellipse cx="111.7" cy="1698.8" rx="5.5" ry="3.3" fill="#003800" style="mix-blend-mode:screen"/><ellipse cx="365.8" cy="1570.8" rx="3.7" ry="3.3" fill="#003800" style="mix-blend-mode:screen"/></g></g>
<g clip-path="url(#cp14)"><rect x="553.4" y="1359" width="416.6" height="415" fill="#000"/><polygon points="576.8,1510.3 611.8,1482.4 651.6,1456.8 684.3,1433.5 702.9,1428.8 717,1452.1 752,1463.7 782.4,1489.4 782.4,1507.9 745,1517.3 705.3,1512.6 670.2,1526.6 623.5,1521.9 583.8,1531.2" fill="#a7a7a7" filter="url(#b8p14)" style="mix-blend-mode:screen"/><ellipse cx="658.5" cy="1496.3" rx="53.7" ry="21" fill="#5e5e5e" filter="url(#b14p14)" transform="rotate(-20 658.5 1496.3)" style="mix-blend-mode:screen"/><polygon points="759,1359 773,1405.6 777.7,1428.8 787.1,1463.7 787.1,1503.3 780,1545.2 801.1,1559.2 845.5,1563.8 875.8,1556.8 899.2,1526.6 950.6,1521.9 970,1510.3 970,1452.1 938.9,1428.8 857.1,1452.1 836.1,1449.8 915.6,1398.5 962.3,1359" fill="#9d9d9d" filter="url(#b8p14)" style="mix-blend-mode:screen"/><ellipse cx="936.6" cy="1498.6" rx="21" ry="27.9" fill="#878787" filter="url(#b10p14)" transform="rotate(30 936.6 1498.6)" style="mix-blend-mode:screen"/><ellipse cx="787.1" cy="1405.6" rx="18.7" ry="46.6" fill="#434343" filter="url(#b12p14)" style="mix-blend-mode:screen"/><polygon points="553.4,1736.1 600.1,1722.1 670.2,1708.1 717,1696.5 702.9,1722.1 646.8,1754.7 642.2,1774 553.4,1774" fill="#878787" filter="url(#b8p14)" style="mix-blend-mode:screen"/><ellipse cx="567.4" cy="1631.3" rx="21" ry="18.6" fill="#797979" filter="url(#b8p14)" style="mix-blend-mode:screen"/><polyline points="576.8,1696.5 623.5,1680.2 670.2,1650 693.6,1626.7" fill="none" stroke="#6c6c6c" stroke-width="9.3" stroke-linecap="round" stroke-linejoin="round" filter="url(#b5p14)" style="mix-blend-mode:screen"/><polyline points="642.2,1712.8 693.6,1696.5 740.3,1677.9 787.1,1668.5 805.7,1680.2" fill="none" stroke="#6c6c6c" stroke-width="8.4" stroke-linecap="round" stroke-linejoin="round" filter="url(#b5p14)" style="mix-blend-mode:screen"/><polyline points="698.3,1661.6 717,1626.7 752,1633.6 763.7,1636" fill="none" stroke="#5e5e5e" stroke-width="7" stroke-linecap="round" stroke-linejoin="round" filter="url(#b5p14)" style="mix-blend-mode:screen"/><polyline points="927.3,1545.2 970,1540.6" fill="none" stroke="#bdbdbd" stroke-width="7" stroke-linecap="round" stroke-linejoin="round" filter="url(#b5p14)" style="mix-blend-mode:screen"/><polyline points="915.6,1587.1 950.6,1589.4" fill="none" stroke="#878787" stroke-width="7" stroke-linecap="round" stroke-linejoin="round" filter="url(#b5p14)" style="mix-blend-mode:screen"/><polyline points="931.9,1703.5 970,1694.2" fill="none" stroke="#6c6c6c" stroke-width="7" stroke-linecap="round" stroke-linejoin="round" filter="url(#b5p14)" style="mix-blend-mode:screen"/><polyline points="763.7,1750 798.7,1759.4" fill="none" stroke="#515151" stroke-width="6.1" stroke-linecap="round" stroke-linejoin="round" filter="url(#b5p14)" style="mix-blend-mode:screen"/><polyline points="623.5,1568.5 693.6,1591.8 763.7,1603.4 833.8,1626.7 903.9,1650" fill="none" stroke="#3b3b3b" stroke-width="8.4" stroke-linecap="round" stroke-linejoin="round" filter="url(#b6p14)" style="mix-blend-mode:screen"/><polyline points="600.1,1545.2 670.2,1556.8 740.3,1591.8" fill="none" stroke="#363636" stroke-width="8.4" stroke-linecap="round" stroke-linejoin="round" filter="url(#b6p14)" style="mix-blend-mode:screen"/><polyline points="810.4,1591.8 857.1,1615 903.9,1708.1 927.3,1774" fill="none" stroke="#363636" stroke-width="8.4" stroke-linecap="round" stroke-linejoin="round" filter="url(#b6p14)" style="mix-blend-mode:screen"/><polyline points="787.1,1684.9 822.1,1708.1 833.8,1774" fill="none" stroke="#363636" stroke-width="8.4" stroke-linecap="round" stroke-linejoin="round" filter="url(#b6p14)" style="mix-blend-mode:screen"/><polyline points="623.5,1405.6 693.6,1393.9 740.3,1382.3" fill="none" stroke="#1b1b1b" stroke-width="14" stroke-linecap="round" stroke-linejoin="round" filter="url(#b10p14)" style="mix-blend-mode:screen"/><ellipse cx="854.8" cy="1375.3" rx="60.7" ry="34.9" fill="#101010" opacity="0.85" filter="url(#b9p14)"/><ellipse cx="859.5" cy="1498.6" rx="46.7" ry="39.5" fill="#101010" opacity="0.85" filter="url(#b9p14)" transform="rotate(-20 859.5 1498.6)"/><g filter="url(#fl14)" style="mix-blend-mode:screen"><rect x="533.4" y="1339" width="456.6" height="455" fill="#000000"/></g><polyline points="576.8,1510.3 611.8,1482.4 651.6,1456.8 684.3,1433.5 702.9,1428.8 717,1452.1 731,1435.8 747.3,1428.8 763.7,1419.5 775.4,1426.5 770.7,1452.1 763.7,1468.4 777.7,1470.7 782.4,1489.4 784.7,1505.6 745,1517.3 705.3,1512.6 670.2,1526.6 623.5,1521.9 583.8,1531.2 576.8,1510.3" fill="none" stroke="#ff00ff" stroke-width="6.7" stroke-linecap="round" stroke-linejoin="round"/><polyline points="717,1452.1 721.6,1489.4 740.3,1494 740.3,1470.7 763.7,1468.4" fill="none" stroke="#ff00ff" stroke-width="6.7" stroke-linecap="round" stroke-linejoin="round"/><polyline points="731,1435.8 740.3,1459.1 754.3,1452.1 747.3,1428.8" fill="none" stroke="#ff00ff" stroke-width="6.7" stroke-linecap="round" stroke-linejoin="round"/><polyline points="733.3,1359 759,1373 773,1405.6 756.7,1414.9 775.4,1426.5" fill="none" stroke="#ff00ff" stroke-width="6.7" stroke-linecap="round" stroke-linejoin="round"/><polygon points="742.1,1381.7 752.6,1381.7 752.6,1392.2 742.1,1392.2" fill="#ff00ff"/><ellipse cx="798.7" cy="1480" rx="8.2" ry="15.1" fill="none" stroke="#ff00ff" stroke-width="6.7"/><polyline points="784.7,1505.6 777.7,1545.2 798.7,1559.2 815.1,1566.2 845.5,1563.8 875.8,1556.8 899.2,1526.6 917.9,1526.6 950.6,1521.9 970,1512.6" fill="none" stroke="#ff00ff" stroke-width="6.7" stroke-linecap="round" stroke-linejoin="round"/><polyline points="970,1361.3 950.6,1373 915.6,1398.5 880.5,1417.2 836.1,1449.8 847.8,1452.1 903.9,1435.8 938.9,1428.8 931.9,1459.1 950.6,1452.1 964.6,1475.4 970,1489.4" fill="none" stroke="#ff00ff" stroke-width="6.7" stroke-linecap="round" stroke-linejoin="round"/><ellipse cx="948.3" cy="1386.9" rx="11.7" ry="8.1" fill="none" stroke="#ff00ff" stroke-width="6.2"/><ellipse cx="937.8" cy="1412.5" rx="6.5" ry="8.1" fill="none" stroke="#ff00ff" stroke-width="6.2"/><ellipse cx="957.6" cy="1421.8" rx="9.3" ry="8.1" fill="none" stroke="#ff00ff" stroke-width="5.8"/><polyline points="970,1535.9 938.9,1545.2 927.3,1552.2 950.6,1559.2 950.6,1573.1 970,1577.8" fill="none" stroke="#ff00ff" stroke-width="6.7" stroke-linecap="round" stroke-linejoin="round"/><polyline points="889.8,1582.4 903.9,1570.8 908.6,1587.1 936.6,1601.1 970,1591.8" fill="none" stroke="#ff00ff" stroke-width="6.7" stroke-linecap="round" stroke-linejoin="round"/><polyline points="910.9,1587.1 927.3,1582.4 950.6,1584.8" fill="none" stroke="#ff00ff" stroke-width="6.7" stroke-linecap="round" stroke-linejoin="round"/><polyline points="859.5,1605.7 880.5,1594.1 899.2,1603.4 864.1,1606.9" fill="none" stroke="#ff00ff" stroke-width="8.3" stroke-linecap="round" stroke-linejoin="round"/><polyline points="868.8,1617.3 906.2,1617.3" fill="none" stroke="#ff00ff" stroke-width="12.5" stroke-linecap="round" stroke-linejoin="round"/><polyline points="887.5,1617.3 887.5,1631.3" fill="none" stroke="#ff00ff" stroke-width="12.5" stroke-linecap="round" stroke-linejoin="round"/><polygon points="956.5,1595.3 968.1,1595.3 968.1,1606.9 956.5,1606.9" fill="#ff00ff"/><polyline points="576.8,1696.5 623.5,1675.6 658.5,1656.9 684.3,1622 693.6,1626.7 674.9,1661.6 623.5,1689.5 581.4,1708.1 576.8,1696.5" fill="none" stroke="#ff00ff" stroke-width="6.7" stroke-linecap="round" stroke-linejoin="round"/><polyline points="642.2,1712.8 693.6,1691.8 740.3,1673.2 787.1,1666.2 803.4,1673.2 808.1,1682.5 787.1,1673.2 740.3,1682.5 717,1701.2 702.9,1722.1 670.2,1736.1 646.8,1754.7 642.2,1774" fill="none" stroke="#ff00ff" stroke-width="6.7" stroke-linecap="round" stroke-linejoin="round"/><polyline points="693.6,1663.9 705.3,1633.6 717,1619.7 731,1631.3 754.3,1631.3 763.7,1636 752,1647.6 731,1638.3 717,1647.6 707.6,1666.2 693.6,1663.9" fill="none" stroke="#ff00ff" stroke-width="6.7" stroke-linecap="round" stroke-linejoin="round"/><polyline points="553.4,1610.4 567.4,1622 588.4,1626.7 581.4,1645.3 553.4,1654.6" fill="none" stroke="#ff00ff" stroke-width="6.7" stroke-linecap="round" stroke-linejoin="round"/><polyline points="553.4,1736.1 600.1,1722.1 614.1,1712.8 670.2,1708.1" fill="none" stroke="#ff00ff" stroke-width="6.7" stroke-linecap="round" stroke-linejoin="round"/><polyline points="607.1,1722.1 600.1,1774" fill="none" stroke="#ff00ff" stroke-width="6.7" stroke-linecap="round" stroke-linejoin="round"/><polyline points="618.8,1736.1 614.1,1774" fill="none" stroke="#ff00ff" stroke-width="6.7" stroke-linecap="round" stroke-linejoin="round"/><polyline points="611.8,1708.1 632.8,1722.1 665.5,1712.8" fill="none" stroke="#ff00ff" stroke-width="6.7" stroke-linecap="round" stroke-linejoin="round"/><polygon points="616.7,1552.4 623.3,1552.4 623.3,1558.9 616.7,1558.9" fill="#ff00ff"/><polygon points="602,1572.7 609.9,1572.7 609.9,1580.6 602,1580.6" fill="#ff00ff"/><polygon points="572.6,1594.6 578.6,1594.6 578.6,1600.6 572.6,1600.6" fill="#ff00ff"/><polygon points="663.7,1591.1 674.4,1591.1 674.4,1601.8 663.7,1601.8" fill="#ff00ff"/><polygon points="702.5,1542.4 712.7,1542.4 712.7,1552.6 702.5,1552.6" fill="#ff00ff"/><polygon points="695.2,1553.8 701.3,1553.8 701.3,1559.9 695.2,1559.9" fill="#ff00ff"/><polygon points="726.3,1566.2 735.7,1566.2 735.7,1575.5 726.3,1575.5" fill="#ff00ff"/><ellipse cx="756.7" cy="1582.4" rx="8.2" ry="8.8" fill="none" stroke="#ff00ff" stroke-width="7.5"/><polygon points="781.2,1589.4 792.9,1589.4 792.9,1601.1 781.2,1601.1" fill="#ff00ff"/><polygon points="799.9,1577.8 806.9,1577.8 806.9,1584.8 799.9,1584.8" fill="#ff00ff"/><ellipse cx="816.3" cy="1619.7" rx="11.7" ry="9.3" fill="none" stroke="#ff00ff" stroke-width="7.5" transform="rotate(-30 816.3 1619.7)"/><polygon points="599.6,1644.8 609.9,1644.8 609.9,1655.1 599.6,1655.1" fill="#ff00ff"/><ellipse cx="875.8" cy="1659.3" rx="6.5" ry="7.4" fill="none" stroke="#ff00ff" stroke-width="6.7"/><polygon points="868.1,1666.7 874.2,1666.7 874.2,1672.7 868.1,1672.7" fill="#ff00ff"/><ellipse cx="936.6" cy="1659.3" rx="10.5" ry="7.4" fill="none" stroke="#ff00ff" stroke-width="6.7"/><polygon points="913.7,1629.5 919.8,1629.5 919.8,1635.5 913.7,1635.5" fill="#ff00ff"/><polygon points="842.6,1705.3 852.9,1705.3 852.9,1715.6 842.6,1715.6" fill="#ff00ff"/><polygon points="845.5,1724.4 854.8,1724.4 854.8,1733.7 845.5,1733.7" fill="#ff00ff"/><polygon points="840.1,1721.4 846.1,1721.4 846.1,1727.4 840.1,1727.4" fill="#ff00ff"/><ellipse cx="789.4" cy="1731.4" rx="11.7" ry="9.3" fill="none" stroke="#ff00ff" stroke-width="8.3"/><polygon points="807.9,1717.2 813,1717.2 813,1722.3 807.9,1722.3" fill="#ff00ff"/><polygon points="700.6,1736.1 710,1736.1 710,1745.4 700.6,1745.4" fill="#ff00ff"/><polygon points="720.5,1748.9 732.2,1748.9 732.2,1760.5 720.5,1760.5" fill="#ff00ff"/><polyline points="745,1743 763.7,1745.4 787.1,1757 798.7,1764 777.7,1771" fill="none" stroke="#ff00ff" stroke-width="7.5" stroke-linecap="round" stroke-linejoin="round"/><polyline points="889.8,1743 915.6,1752.3 950.6,1759.4 945.9,1774" fill="none" stroke="#ff00ff" stroke-width="7.5" stroke-linecap="round" stroke-linejoin="round"/><polyline points="871.2,1752.3 880.5,1764 875.8,1774" fill="none" stroke="#ff00ff" stroke-width="7.5" stroke-linecap="round" stroke-linejoin="round"/><polyline points="931.9,1703.5 950.6,1694.2 970,1689.5" fill="none" stroke="#ff00ff" stroke-width="7.5" stroke-linecap="round" stroke-linejoin="round"/><polyline points="945.9,1715.1 970,1708.1" fill="none" stroke="#ff00ff" stroke-width="7.5" stroke-linecap="round" stroke-linejoin="round"/><polygon points="954.1,1672 961.1,1672 961.1,1679 954.1,1679" fill="#ff00ff"/></g>
<g clip-path="url(#cp15)"><rect x="1036.5" y="1359" width="417.8" height="415" fill="#000"/><g filter="url(#fl15)" style="mix-blend-mode:screen"><rect x="1016.5" y="1339" width="457.8" height="455" fill="#504e00"/><ellipse cx="1329.4" cy="1503.3" rx="46.9" ry="30.3" fill="#000" opacity="0.35" filter="url(#b8p15)"/><ellipse cx="1095.1" cy="1428.8" rx="70.3" ry="65.2" fill="#000" opacity="0.2" filter="url(#b10p15)"/><ellipse cx="1282.5" cy="1661.6" rx="58.6" ry="27.9" fill="#000" opacity="0.2" filter="url(#b8p15)"/><polyline points="1273.2,1498.6 1259.1,1535.9 1306,1552.2 1341.1,1552.2 1364.6,1540.6 1376.3,1526.6 1406.7,1526.6 1434.8,1535.9" fill="none" stroke="#320000" stroke-width="17.5" stroke-linecap="round" stroke-linejoin="round" style="mix-blend-mode:screen"/><polyline points="1402,1475.4 1411.4,1463.7 1432.5,1456.8" fill="none" stroke="#380000" stroke-width="19.9" stroke-linecap="round" stroke-linejoin="round" style="mix-blend-mode:screen"/><polyline points="1256.8,1449.8 1282.5,1447.4 1317.7,1456.8" fill="none" stroke="#270000" stroke-width="14" stroke-linecap="round" stroke-linejoin="round" style="mix-blend-mode:screen"/><polyline points="1240.3,1373 1256.8,1393.9" fill="none" stroke="#2c0000" stroke-width="14" stroke-linecap="round" stroke-linejoin="round" style="mix-blend-mode:screen"/><polyline points="1059.9,1731.4 1106.8,1719.8 1153.7,1712.8 1188.8,1722.1" fill="none" stroke="#210000" stroke-width="29.2" stroke-linecap="round" stroke-linejoin="round" style="mix-blend-mode:screen"/><polyline points="1158.3,1680.2 1200.5,1680.2 1238,1668.5" fill="none" stroke="#210000" stroke-width="15.2" stroke-linecap="round" stroke-linejoin="round" style="mix-blend-mode:screen"/><polyline points="1207.5,1580.1 1231,1582.4 1270.8,1587.1" fill="none" stroke="#270000" stroke-width="15.2" stroke-linecap="round" stroke-linejoin="round" style="mix-blend-mode:screen"/><polyline points="1341.1,1598.7 1369.2,1582.4 1411.4,1582.4" fill="none" stroke="#210000" stroke-width="15.2" stroke-linecap="round" stroke-linejoin="round" style="mix-blend-mode:screen"/><polyline points="1350.5,1638.3 1359.9,1652.3" fill="none" stroke="#2c0000" stroke-width="15.2" stroke-linecap="round" stroke-linejoin="round" style="mix-blend-mode:screen"/><polyline points="1294.2,1696.5 1310.7,1687.2" fill="none" stroke="#2c0000" stroke-width="17.5" stroke-linecap="round" stroke-linejoin="round" style="mix-blend-mode:screen"/><polyline points="1062.3,1531.2 1083.4,1530.1" fill="none" stroke="#2c0000" stroke-width="10.5" stroke-linecap="round" stroke-linejoin="round" style="mix-blend-mode:screen"/><polyline points="1388,1382.3 1423.1,1377.6 1444.2,1389.3" fill="none" stroke="#270000" stroke-width="23.4" stroke-linecap="round" stroke-linejoin="round" style="mix-blend-mode:screen"/><polyline points="1364.6,1424.2 1434.8,1435.8" fill="none" stroke="#210000" stroke-width="23.4" stroke-linecap="round" stroke-linejoin="round" style="mix-blend-mode:screen"/><ellipse cx="1170.1" cy="1533.5" rx="5.1" ry="5.1" fill="#380000" style="mix-blend-mode:screen"/><ellipse cx="1160.7" cy="1510.3" rx="5.1" ry="3.7" fill="#380000" style="mix-blend-mode:screen"/><ellipse cx="1418.5" cy="1668.5" rx="5.1" ry="4.6" fill="#380000" style="mix-blend-mode:screen"/><ellipse cx="1393.8" cy="1549.9" rx="5.1" ry="7" fill="#003800" style="mix-blend-mode:screen"/><ellipse cx="1077.5" cy="1680.2" rx="4.7" ry="4.2" fill="#003800" style="mix-blend-mode:screen"/><ellipse cx="1164.2" cy="1609.2" rx="4.7" ry="3.7" fill="#003800" style="mix-blend-mode:screen"/><ellipse cx="1228.6" cy="1610.4" rx="4.7" ry="3.7" fill="#003800" style="mix-blend-mode:screen"/><ellipse cx="1444.2" cy="1710.5" rx="7" ry="3.7" fill="#003800" style="mix-blend-mode:screen"/><ellipse cx="1425.5" cy="1759.4" rx="5.6" ry="4.6" fill="#003800" style="mix-blend-mode:screen"/><ellipse cx="1067" cy="1698.8" rx="5.6" ry="3.3" fill="#003800" style="mix-blend-mode:screen"/><ellipse cx="1327.1" cy="1570.8" rx="3.8" ry="3.3" fill="#003800" style="mix-blend-mode:screen"/></g></g>
<g clip-path="url(#cp16)"><rect x="1517.2" y="1359" width="418.9" height="414.8" fill="#000"/><ellipse cx="1871" cy="1364" rx="13.6" ry="9.5" fill="#ffff00" filter="url(#b3_8p16)" style="mix-blend-mode:screen"/><ellipse cx="1816.8" cy="1384" rx="12.3" ry="9.5" fill="#ffff00" filter="url(#b3_8p16)" style="mix-blend-mode:screen"/><ellipse cx="1797.8" cy="1401.5" rx="10.9" ry="9.5" fill="#ffff00" filter="url(#b3_8p16)" style="mix-blend-mode:screen"/><ellipse cx="1792.8" cy="1440.2" rx="24.5" ry="14.8" fill="#ffff00" filter="url(#b3_8p16)" transform="rotate(10 1792.8 1440.2)" style="mix-blend-mode:screen"/><ellipse cx="1765" cy="1462.7" rx="10.9" ry="10.8" fill="#ffff00" filter="url(#b3_8p16)" style="mix-blend-mode:screen"/><ellipse cx="1873.5" cy="1467.7" rx="10.9" ry="9.5" fill="#ffff00" filter="url(#b3_8p16)" style="mix-blend-mode:screen"/><ellipse cx="1732.2" cy="1500.2" rx="23.2" ry="16.2" fill="#ffff00" filter="url(#b3_8p16)" transform="rotate(-30 1732.2 1500.2)" style="mix-blend-mode:screen"/><ellipse cx="1770" cy="1491.4" rx="6.8" ry="8.1" fill="#ffff00" filter="url(#b3_8p16)" style="mix-blend-mode:screen"/><ellipse cx="1816.8" cy="1500.2" rx="12.3" ry="13.5" fill="#ffff00" filter="url(#b3_8p16)" style="mix-blend-mode:screen"/><ellipse cx="1860.9" cy="1495.2" rx="12.3" ry="14.8" fill="#ffff00" filter="url(#b3_8p16)" style="mix-blend-mode:screen"/><ellipse cx="1908.8" cy="1495.2" rx="10.9" ry="13.5" fill="#ffff00" filter="url(#b3_8p16)" style="mix-blend-mode:screen"/><ellipse cx="1643.9" cy="1525.2" rx="13.6" ry="22.9" fill="#ffff00" filter="url(#b3_8p16)" transform="rotate(20 1643.9 1525.2)" style="mix-blend-mode:screen"/><ellipse cx="1800.3" cy="1627.6" rx="13.6" ry="10.8" fill="#ffff00" filter="url(#b3_8p16)" style="mix-blend-mode:screen"/><ellipse cx="1863.4" cy="1631.4" rx="12.3" ry="14.8" fill="#ffff00" filter="url(#b3_8p16)" style="mix-blend-mode:screen"/><ellipse cx="1878.6" cy="1612.6" rx="8.2" ry="10.8" fill="#ffff00" filter="url(#b3_8p16)" style="mix-blend-mode:screen"/><ellipse cx="1540.4" cy="1652.6" rx="23.2" ry="20.2" fill="#ffff00" filter="url(#b3_8p16)" transform="rotate(-20 1540.4 1652.6)" style="mix-blend-mode:screen"/><ellipse cx="1671.6" cy="1682.6" rx="16.3" ry="10.8" fill="#ffff00" filter="url(#b3_8p16)" style="mix-blend-mode:screen"/><ellipse cx="1714.5" cy="1681.3" rx="12.3" ry="14.8" fill="#ffff00" filter="url(#b3_8p16)" style="mix-blend-mode:screen"/><ellipse cx="1616.1" cy="1710.1" rx="13.6" ry="8.1" fill="#ffff00" filter="url(#b3_8p16)" transform="rotate(-30 1616.1 1710.1)" style="mix-blend-mode:screen"/><ellipse cx="1748.6" cy="1707.6" rx="9.6" ry="8.1" fill="#ffff00" filter="url(#b3_8p16)" style="mix-blend-mode:screen"/><ellipse cx="1830.6" cy="1720.1" rx="15" ry="14.8" fill="#ffff00" filter="url(#b3_8p16)" transform="rotate(-30 1830.6 1720.1)" style="mix-blend-mode:screen"/><ellipse cx="1752.4" cy="1765" rx="10.9" ry="5.4" fill="#ffff00" filter="url(#b3_8p16)" style="mix-blend-mode:screen"/><ellipse cx="1757.4" cy="1543.9" rx="9.6" ry="8.1" fill="#808000" filter="url(#b3_8p16)" style="mix-blend-mode:screen"/><ellipse cx="1807.9" cy="1540.1" rx="9.6" ry="9.5" fill="#808000" filter="url(#b3_8p16)" style="mix-blend-mode:screen"/><ellipse cx="1893.7" cy="1577.6" rx="8.2" ry="13.5" fill="#808000" filter="url(#b3_8p16)" style="mix-blend-mode:screen"/><ellipse cx="1560.6" cy="1690.1" rx="6.8" ry="9.5" fill="#808000" filter="url(#b3_8p16)" style="mix-blend-mode:screen"/><ellipse cx="1833.1" cy="1675.1" rx="8.2" ry="8.1" fill="#808000" filter="url(#b3_8p16)" style="mix-blend-mode:screen"/><ellipse cx="1546.7" cy="1745.1" rx="5.4" ry="8.1" fill="#808000" filter="url(#b3_8p16)" style="mix-blend-mode:screen"/><ellipse cx="1823" cy="1460.2" rx="8.2" ry="8.1" fill="#808000" filter="url(#b3_8p16)" style="mix-blend-mode:screen"/><ellipse cx="1868.5" cy="1401.5" rx="12.3" ry="9.5" fill="#00ffff" filter="url(#b3_8p16)" style="mix-blend-mode:screen"/><ellipse cx="1871" cy="1436.4" rx="10.9" ry="10.8" fill="#00ffff" filter="url(#b3_8p16)" style="mix-blend-mode:screen"/><ellipse cx="1900" cy="1467.7" rx="6.8" ry="9.5" fill="#00ffff" filter="url(#b3_8p16)" style="mix-blend-mode:screen"/><ellipse cx="1783.9" cy="1510.2" rx="10.9" ry="12.2" fill="#00ffff" filter="url(#b3_8p16)" style="mix-blend-mode:screen"/><ellipse cx="1791.5" cy="1558.9" rx="15" ry="16.2" fill="#00ffff" filter="url(#b3_8p16)" style="mix-blend-mode:screen"/><ellipse cx="1802.8" cy="1608.9" rx="19.1" ry="12.2" fill="#00ffff" filter="url(#b3_8p16)" transform="rotate(10 1802.8 1608.9)" style="mix-blend-mode:screen"/><ellipse cx="1926.5" cy="1650.1" rx="12.3" ry="8.1" fill="#00ffff" filter="url(#b3_8p16)" style="mix-blend-mode:screen"/><ellipse cx="1760" cy="1732.6" rx="13.6" ry="6.8" fill="#00ffff" filter="url(#b3_8p16)" style="mix-blend-mode:screen"/><ellipse cx="1744.8" cy="1427.7" rx="6.8" ry="8.1" fill="#007878" filter="url(#b3_8p16)" style="mix-blend-mode:screen"/><ellipse cx="1777.6" cy="1415.2" rx="6.8" ry="6.8" fill="#007878" filter="url(#b3_8p16)" style="mix-blend-mode:screen"/><ellipse cx="1700.7" cy="1512.7" rx="6.8" ry="8.1" fill="#007878" filter="url(#b3_8p16)" style="mix-blend-mode:screen"/><ellipse cx="1770" cy="1612.6" rx="6.8" ry="8.1" fill="#007878" filter="url(#b3_8p16)" style="mix-blend-mode:screen"/><ellipse cx="1780.1" cy="1667.6" rx="8.2" ry="8.1" fill="#007878" filter="url(#b3_8p16)" style="mix-blend-mode:screen"/><ellipse cx="1871" cy="1680.1" rx="8.2" ry="8.1" fill="#007878" filter="url(#b3_8p16)" style="mix-blend-mode:screen"/><ellipse cx="1641.4" cy="1735.1" rx="8.2" ry="13.5" fill="#007878" filter="url(#b3_8p16)" transform="rotate(-40 1641.4 1735.1)" style="mix-blend-mode:screen"/><ellipse cx="1713.3" cy="1765" rx="8.2" ry="5.4" fill="#007878" filter="url(#b3_8p16)" style="mix-blend-mode:screen"/><ellipse cx="1757.4" cy="1400.2" rx="6.8" ry="5.4" fill="#007878" filter="url(#b3_8p16)" style="mix-blend-mode:screen"/><ellipse cx="1833.1" cy="1437.7" rx="6.8" ry="6.8" fill="#007878" filter="url(#b3_8p16)" style="mix-blend-mode:screen"/><g filter="url(#fl16)" style="mix-blend-mode:screen"><rect x="1497.2" y="1339" width="458.9" height="454.8" fill="#000000"/></g></g>
<line x1="490.5" y1="1566.9" x2="534" y2="1566.9" stroke="#000" stroke-width="4.4"/>
<path d="M554 1566.9L532 1555.4L532 1578.4Z" fill="#000"/>
<line x1="971.5" y1="1566.9" x2="1016" y2="1566.9" stroke="#000" stroke-width="4.4"/>
<path d="M1036 1566.9L1014 1555.4L1014 1578.4Z" fill="#000"/>
<line x1="1455" y1="1566.9" x2="1497.5" y2="1566.9" stroke="#000" stroke-width="4.4"/>
<path d="M1517.5 1566.9L1495.5 1555.4L1495.5 1578.4Z" fill="#000"/>
<rect x="1359.1" y="1362.2" width="93.2" height="92.6" fill="none" stroke="#fff" stroke-width="4"/>
<text x="63" y="1567.4" font-size="25.5" font-weight="bold" text-anchor="middle" transform="rotate(-90 63 1567.4)" xml:space="preserve"><tspan fill="#ff00ff">TH</tspan><tspan fill="#ffff00"> Hyaluronan</tspan><tspan fill="#00ffff"> Homer2</tspan></text>
<line x1="88.8" y1="1762.3" x2="201.2" y2="1762.3" stroke="#fff" stroke-width="4.2"/>
<text x="140.3" y="1748.4" font-size="26" font-weight="bold" text-anchor="middle" fill="#fff">15 µm</text>
<line x1="1534.6" y1="1760.7" x2="1653" y2="1760.7" stroke="#fff" stroke-width="4.3"/>
<text x="1591.2" y="1746.4" font-size="26" font-weight="bold" text-anchor="middle" fill="#fff">5 µm</text>
<text x="0" y="1826.3" font-size="34" font-weight="bold">e</text>
<text x="305.6" y="1825" font-size="26" font-weight="bold" text-anchor="middle">Homer2-DA Neuron</text>
<rect x="126.4" y="1874.8" width="7.5" height="306.9" fill="#262626"/>
<rect x="130.2" y="2177.9" width="325.3" height="7.5" fill="#262626"/>
<rect x="118.9" y="1875" width="8" height="7.5" fill="#262626"/>
<rect x="118.9" y="2027.8" width="8" height="7.5" fill="#262626"/>
<rect x="178.6" y="2184.9" width="7.5" height="8" fill="#262626"/>
<rect x="241.2" y="2184.9" width="7.5" height="8" fill="#262626"/>
<rect x="336.8" y="2184.9" width="7.5" height="8" fill="#262626"/>
<rect x="399.6" y="2184.9" width="7.5" height="8" fill="#262626"/>
<text x="113" y="1890.6" font-size="26" text-anchor="end" fill="#262626">0.1</text>
<text x="113" y="2043.3" font-size="26" text-anchor="end" fill="#262626">0.05</text>
<text x="182.3" y="2221.5" font-size="26" text-anchor="middle" fill="#262626">Sed</text>
<text x="245" y="2221.5" font-size="26" text-anchor="middle" fill="#262626">Beh</text>
<text x="340.5" y="2221.5" font-size="26" text-anchor="middle" fill="#262626">Sed</text>
<text x="403.3" y="2221.5" font-size="26" text-anchor="middle" fill="#262626">Beh</text>
<text x="215.1" y="2254.4" font-size="26" font-weight="bold" text-anchor="middle">4 Months</text>
<text x="378.5" y="2254.4" font-size="26" font-weight="bold" text-anchor="middle">18 Months</text>
<text x="47.1" y="2006.7" font-size="26" font-weight="bold" text-anchor="middle" transform="rotate(-90 47.1 2006.7)">Homer2/µm<tspan font-size="17.7" dy="-7.8">2</tspan><tspan dy="7.8" dx="-3"> TH</tspan></text>
<line x1="181.6" y1="1957.5" x2="181.6" y2="1970.6" stroke="#000" stroke-width="2"/>
<line x1="181.6" y1="2046.9" x2="181.6" y2="2060.4" stroke="#000" stroke-width="2"/>
<line x1="168.7" y1="1944.1" x2="184.5" y2="1944.1" stroke="#000" stroke-width="2"/>
<line x1="168.7" y1="2070.2" x2="194.7" y2="2070.2" stroke="#000" stroke-width="2"/>
<line x1="231.9" y1="1953.2" x2="240.5" y2="1953.2" stroke="#000" stroke-width="2"/>
<line x1="231.9" y1="2070.8" x2="236.9" y2="2070.8" stroke="#000" stroke-width="2"/>
<line x1="245" y1="1962.6" x2="245" y2="1989.1" stroke="#000" stroke-width="2"/>
<line x1="340.5" y1="1985.9" x2="340.5" y2="1999.9" stroke="#000" stroke-width="2"/>
<line x1="326.7" y1="1976.6" x2="353.6" y2="1976.6" stroke="#000" stroke-width="2"/>
<line x1="326.7" y1="2084.2" x2="330.2" y2="2084.2" stroke="#000" stroke-width="2"/>
<line x1="403.5" y1="1926.3" x2="403.5" y2="1946.4" stroke="#000" stroke-width="2"/>
<line x1="390.4" y1="1918" x2="416.4" y2="1918" stroke="#000" stroke-width="2"/>
<line x1="390.4" y1="2086" x2="396.6" y2="2086" stroke="#000" stroke-width="2"/>
<line x1="403.5" y1="1971.9" x2="403.5" y2="1993.1" stroke="#000" stroke-width="2"/>
<rect x="155.6" y="1986.8" width="53.1" height="40.7" fill="#fff" stroke="#000" stroke-width="2.3"/>
<line x1="155.6" y1="1998.5" x2="208.7" y2="1998.5" stroke="#000" stroke-width="2.3"/>
<rect x="219" y="1989.1" width="53.3" height="41.3" fill="#fff" stroke="#000" stroke-width="2.3"/>
<line x1="219" y1="2007.4" x2="272.3" y2="2007.4" stroke="#000" stroke-width="2.3"/>
<rect x="313.6" y="2014.6" width="54" height="61.4" fill="#fff" stroke="#000" stroke-width="2.3"/>
<line x1="313.6" y1="2031.7" x2="367.6" y2="2031.7" stroke="#000" stroke-width="2.3"/>
<rect x="376.9" y="1993.1" width="53.5" height="55.2" fill="#fff" stroke="#000" stroke-width="2.3"/>
<line x1="376.9" y1="2034.3" x2="430.4" y2="2034.3" stroke="#000" stroke-width="2.3"/>
<rect x="185.4" y="1935.3" width="17.6" height="17.6" fill="#000" stroke="#000" stroke-width="2"/>
<rect x="171.9" y="1971.7" width="17.6" height="17.6" fill="#000" stroke="#000" stroke-width="2"/>
<rect x="167.1" y="1984.6" width="17.6" height="17.6" fill="#000" stroke="#000" stroke-width="2"/>
<rect x="177" y="1990.5" width="17.6" height="17.6" fill="#000" stroke="#000" stroke-width="2"/>
<rect x="182.3" y="2008.5" width="17.6" height="17.6" fill="#000" stroke="#000" stroke-width="2"/>
<rect x="168" y="2028.2" width="17.6" height="17.6" fill="#000" stroke="#000" stroke-width="2"/>
<rect x="171.2" y="2061.4" width="17.6" height="17.6" fill="#000" stroke="#000" stroke-width="2"/>
<path d="M250.2 1938.7L263.5 1962L236.9 1962Z" fill="#000" stroke="#000" stroke-width="2" stroke-linejoin="miter"/>
<path d="M244.1 1963.9L257.4 1996.1L230.8 1996.1Z" fill="#000" stroke="#000" stroke-width="2" stroke-linejoin="miter"/>
<path d="M249.5 1980L262.8 2003.6L236.2 2003.6Z" fill="#000" stroke="#000" stroke-width="2" stroke-linejoin="miter"/>
<path d="M243.7 1991.7L257 2015.4L230.4 2015.4Z" fill="#000" stroke="#000" stroke-width="2" stroke-linejoin="miter"/>
<path d="M245 2006L258.3 2029.8L231.7 2029.8Z" fill="#000" stroke="#000" stroke-width="2" stroke-linejoin="miter"/>
<path d="M246.8 2015L260.1 2037.9L233.5 2037.9Z" fill="#000" stroke="#000" stroke-width="2" stroke-linejoin="miter"/>
<path d="M241.4 2035.6L254.7 2058.5L228.1 2058.5Z" fill="#000" stroke="#000" stroke-width="2" stroke-linejoin="miter"/>
<path d="M247.7 2056.3L261 2079.2L234.4 2079.2Z" fill="#000" stroke="#000" stroke-width="2" stroke-linejoin="miter"/>
<rect x="332.2" y="1968.3" width="16.5" height="16.5" fill="#a6a6a6" stroke="#000" stroke-width="2"/>
<rect x="338.1" y="2000.6" width="16.5" height="16.5" fill="#a6a6a6" stroke="#000" stroke-width="2"/>
<rect x="336.3" y="2013.5" width="16.5" height="16.5" fill="#a6a6a6" stroke="#000" stroke-width="2"/>
<rect x="328.3" y="2025.6" width="16.5" height="16.5" fill="#a6a6a6" stroke="#000" stroke-width="2"/>
<rect x="334" y="2021.6" width="16.5" height="16.5" fill="#a6a6a6" stroke="#000" stroke-width="2"/>
<rect x="329.2" y="2076" width="16.5" height="16.5" fill="#a6a6a6" stroke="#000" stroke-width="2"/>
<rect x="337.2" y="2071" width="16.5" height="16.5" fill="#a6a6a6" stroke="#000" stroke-width="2"/>
<rect x="333.7" y="2063.4" width="16.5" height="16.5" fill="#a6a6a6" stroke="#000" stroke-width="2"/>
<path d="M405.1 1903.7L418.4 1925.7L391.8 1925.7Z" fill="#a6a6a6" stroke="#000" stroke-width="2" stroke-linejoin="miter"/>
<path d="M399.3 1949.5L412.6 1971.3L386 1971.3Z" fill="#a6a6a6" stroke="#000" stroke-width="2" stroke-linejoin="miter"/>
<path d="M394.9 1973.7L408.2 1991.6L381.6 1991.6Z" fill="#a6a6a6" stroke="#000" stroke-width="2" stroke-linejoin="miter"/>
<path d="M406.2 1990.8L419.5 2010.1L392.9 2010.1Z" fill="#a6a6a6" stroke="#000" stroke-width="2" stroke-linejoin="miter"/>
<path d="M403.3 2020.4L416.6 2041.8L390 2041.8Z" fill="#a6a6a6" stroke="#000" stroke-width="2" stroke-linejoin="miter"/>
<path d="M423.2 2019.5L436.5 2040.9L409.9 2040.9Z" fill="#a6a6a6" stroke="#000" stroke-width="2" stroke-linejoin="miter"/>
<path d="M417.8 2018.6L431.1 2040L404.5 2040Z" fill="#a6a6a6" stroke="#000" stroke-width="2" stroke-linejoin="miter"/>
<path d="M401.1 2031.2L414.4 2051.7L387.8 2051.7Z" fill="#a6a6a6" stroke="#000" stroke-width="2" stroke-linejoin="miter"/>
<path d="M413.7 2047.3L427 2067.8L400.4 2067.8Z" fill="#a6a6a6" stroke="#000" stroke-width="2" stroke-linejoin="miter"/>
<path d="M394 2038.3L407.3 2059.4L380.7 2059.4Z" fill="#a6a6a6" stroke="#000" stroke-width="2" stroke-linejoin="miter"/>
<path d="M406.9 2072.4L420.2 2093.5L393.6 2093.5Z" fill="#a6a6a6" stroke="#000" stroke-width="2" stroke-linejoin="miter"/>
<text x="528" y="1827.5" font-size="34" font-weight="bold">f</text>
<text x="781.8" y="1825" font-size="26" font-weight="bold" text-anchor="middle">Homer2-DA Neuron vs. Behavior</text>
<rect x="614.5" y="1880.2" width="7.5" height="306.2" fill="#262626"/>
<rect x="607" y="2182.7" width="337.8" height="7.5" fill="#262626"/>
<rect x="607" y="1878.7" width="8" height="7.5" fill="#262626"/>
<rect x="607" y="2030.8" width="8" height="7.5" fill="#262626"/>
<rect x="652.4" y="2189.7" width="7.5" height="8" fill="#262626"/>
<rect x="797.5" y="2189.7" width="7.5" height="8" fill="#262626"/>
<rect x="928.2" y="2189.7" width="7.5" height="8" fill="#262626"/>
<text x="606" y="1894.2" font-size="26" text-anchor="end" fill="#262626">0.5</text>
<text x="606" y="2046.3" font-size="26" text-anchor="end" fill="#262626">0</text>
<text x="606" y="2198.2" font-size="26" text-anchor="end" fill="#262626">-0.5</text>
<text x="670.5" y="2223.3" font-size="26" text-anchor="middle" fill="#262626">0.04</text>
<text x="800.5" y="2223.3" font-size="26" text-anchor="middle" fill="#262626">0.06</text>
<text x="931" y="2223.3" font-size="26" text-anchor="middle" fill="#262626">0.08</text>
<text x="798.7" y="2255.5" font-size="26" font-weight="bold" text-anchor="middle">Homer2/µm<tspan font-size="17.7" dy="-7.8">2</tspan><tspan dy="7.8" dx="-3"> TH</tspan></text>
<text x="543.5" y="2010.8" font-size="26" font-weight="bold" text-anchor="middle" transform="rotate(-90 543.5 2010.8)">Difference (Proportion)</text>
<text x="626.9" y="1876.8" font-size="22" font-weight="bold">4 Months</text>
<text x="626.9" y="1903.7" font-size="22" font-weight="bold" fill="#a6a6a6">18 Months</text>
<text x="752.1" y="1923.7" font-size="58" font-weight="bold" text-anchor="middle" fill="#a6a6a6">*</text>
<text x="626.9" y="1930.2" font-size="22" font-weight="bold" fill="#7030a0">Combined</text>
<path d="M797.4 2071.3L810.7 2092.7L784.1 2092.7Z" fill="#000" stroke="#000" stroke-width="2" stroke-linejoin="miter"/>
<line x1="649.8" y1="2039.5" x2="976.9" y2="2124.7" stroke="#7030a0" stroke-width="12.5" stroke-linecap="round"/>
<line x1="640.4" y1="2049.6" x2="909.1" y2="2061.9" stroke="#000" stroke-width="5.6" stroke-linecap="round"/>
<path d="M789.6 1907.1L802.9 1928.9L776.3 1928.9Z" fill="#000" stroke="#000" stroke-width="2" stroke-linejoin="miter"/>
<path d="M782.8 1926.1L796.1 1947.6L769.5 1947.6Z" fill="#000" stroke="#000" stroke-width="2" stroke-linejoin="miter"/>
<path d="M819.4 1963.6L832.7 1985.5L806.1 1985.5Z" fill="#000" stroke="#000" stroke-width="2" stroke-linejoin="miter"/>
<path d="M811.6 1982.7L824.9 2004.5L798.3 2004.5Z" fill="#000" stroke="#000" stroke-width="2" stroke-linejoin="miter"/>
<path d="M753.2 2001.7L766.5 2023.6L739.9 2023.6Z" fill="#000" stroke="#000" stroke-width="2" stroke-linejoin="miter"/>
<path d="M922.2 2001.7L935.5 2023.6L908.9 2023.6Z" fill="#000" stroke="#000" stroke-width="2" stroke-linejoin="miter"/>
<path d="M653.4 2077.1L666.7 2099L640.1 2099Z" fill="#000" stroke="#000" stroke-width="2" stroke-linejoin="miter"/>
<path d="M752.6 2084.3L765.9 2105.7L739.3 2105.7Z" fill="#000" stroke="#000" stroke-width="2" stroke-linejoin="miter"/>
<path d="M751.4 2102.7L764.7 2124.1L738.1 2124.1Z" fill="#000" stroke="#000" stroke-width="2" stroke-linejoin="miter"/>
<path d="M881.5 2089.9L894.8 2111.8L868.2 2111.8Z" fill="#000" stroke="#000" stroke-width="2" stroke-linejoin="miter"/>
<path d="M865.4 2127.6L878.7 2149.2L852.1 2149.2Z" fill="#000" stroke="#000" stroke-width="2" stroke-linejoin="miter"/>
<path d="M875.9 2153.8L889.2 2175.3L862.6 2175.3Z" fill="#000" stroke="#000" stroke-width="2" stroke-linejoin="miter"/>
<path d="M744.3 2021.9L757.6 2041.6L731 2041.6Z" fill="#a6a6a6" stroke="#000" stroke-width="2" stroke-linejoin="miter"/>
<path d="M735.3 2039.4L748.6 2060.6L722 2060.6Z" fill="#a6a6a6" stroke="#000" stroke-width="2" stroke-linejoin="miter"/>
<path d="M816 2040.1L829.3 2061.3L802.7 2061.3Z" fill="#a6a6a6" stroke="#000" stroke-width="2" stroke-linejoin="miter"/>
<path d="M746.5 2072L759.8 2092L733.2 2092Z" fill="#a6a6a6" stroke="#000" stroke-width="2" stroke-linejoin="miter"/>
<path d="M787.3 2077.6L800.6 2098.3L774 2098.3Z" fill="#a6a6a6" stroke="#000" stroke-width="2" stroke-linejoin="miter"/>
<path d="M800.8 2110.1L814.1 2130.9L787.5 2130.9Z" fill="#a6a6a6" stroke="#000" stroke-width="2" stroke-linejoin="miter"/>
<path d="M881.5 2116.8L894.8 2136.9L868.2 2136.9Z" fill="#a6a6a6" stroke="#000" stroke-width="2" stroke-linejoin="miter"/>
<path d="M980.3 2115.3L993.6 2136.5L967 2136.5Z" fill="#a6a6a6" stroke="#000" stroke-width="2" stroke-linejoin="miter"/>
<path d="M933.1 2134.8L946.4 2155.5L919.8 2155.5Z" fill="#a6a6a6" stroke="#000" stroke-width="2" stroke-linejoin="miter"/>
<path d="M875.9 2148.2L889.2 2168.5L862.6 2168.5Z" fill="#a6a6a6" stroke="#000" stroke-width="2" stroke-linejoin="miter"/>
<path d="M770.5 2153.8L783.8 2174.6L757.2 2174.6Z" fill="#a6a6a6" stroke="#000" stroke-width="2" stroke-linejoin="miter"/>
<line x1="735.7" y1="2065.3" x2="980.3" y2="2161.7" stroke="#a6a6a6" stroke-width="5.6" stroke-linecap="round"/>
<text x="1005" y="1826.3" font-size="34" font-weight="bold">g</text>
<text x="1468.8" y="1825" font-size="26" font-weight="bold" text-anchor="middle">Homer2-DA Neuron vs. Hyaluronan-DA Neuron</text>
<text x="1279.1" y="1856.8" font-size="26" font-weight="bold" text-anchor="middle">Sedentary</text>
<rect x="1104.3" y="1879.1" width="7.5" height="304.9" fill="#262626"/>
<rect x="1108.1" y="2180.2" width="329.5" height="7.5" fill="#262626"/>
<rect x="1096.8" y="1909.7" width="8" height="7.5" fill="#262626"/>
<rect x="1096.8" y="1978" width="8" height="7.5" fill="#262626"/>
<rect x="1096.8" y="2045.9" width="8" height="7.5" fill="#262626"/>
<rect x="1096.8" y="2114.2" width="8" height="7.5" fill="#262626"/>
<rect x="1239.7" y="2187.2" width="7.5" height="8" fill="#262626"/>
<rect x="1420.8" y="2187.2" width="7.5" height="8" fill="#262626"/>
<text x="1093.6" y="1925.2" font-size="26" text-anchor="end" fill="#262626">0.1</text>
<text x="1093.6" y="1993.5" font-size="26" text-anchor="end" fill="#262626">0.08</text>
<text x="1093.6" y="2061.5" font-size="26" text-anchor="end" fill="#262626">0.06</text>
<text x="1093.6" y="2129.7" font-size="26" text-anchor="end" fill="#262626">0.04</text>
<text x="1239" y="2230.2" font-size="26" text-anchor="middle" fill="#262626">0.05</text>
<text x="1425.3" y="2230.2" font-size="26" text-anchor="middle" fill="#262626">0.1</text>
<text x="1282.1" y="2259.8" font-size="26" font-weight="bold" text-anchor="middle">HA/µm<tspan font-size="17.7" dy="-7.8">2</tspan><tspan dy="7.8" dx="-3"> TH</tspan></text>
<text x="1021" y="2013.4" font-size="26" font-weight="bold" text-anchor="middle" transform="rotate(-90 1021 2013.4)">Homer2/µm<tspan font-size="17.7" dy="-7.8">2</tspan><tspan dy="7.8" dx="-3"> TH</tspan></text>
<text x="1117.2" y="1890.2" font-size="22" font-weight="bold">4 Months</text>
<text x="1117.2" y="1915.4" font-size="22" font-weight="bold" fill="#a6a6a6">18 Months</text>
<text x="1117.2" y="1942.3" font-size="22" font-weight="bold" fill="#7030a0">Combined</text>
<line x1="1135.9" y1="2070.9" x2="1445.7" y2="2013.4" stroke="#7030a0" stroke-width="12.5" stroke-linecap="round"/>
<rect x="1266.5" y="1899.6" width="17.6" height="17.6" fill="#000" stroke="#000" stroke-width="2"/>
<rect x="1280" y="1931.3" width="17.6" height="17.6" fill="#000" stroke="#000" stroke-width="2"/>
<rect x="1435.9" y="1933.9" width="17.6" height="17.6" fill="#000" stroke="#000" stroke-width="2"/>
<rect x="1271.3" y="1956.5" width="17.6" height="17.6" fill="#000" stroke="#000" stroke-width="2"/>
<rect x="1248.7" y="1964.8" width="17.6" height="17.6" fill="#000" stroke="#000" stroke-width="2"/>
<rect x="1258.4" y="1975.9" width="17.6" height="17.6" fill="#000" stroke="#000" stroke-width="2"/>
<rect x="1389" y="1966.2" width="17.6" height="17.6" fill="#000" stroke="#000" stroke-width="2"/>
<rect x="1162.5" y="1980.9" width="17.6" height="17.6" fill="#000" stroke="#000" stroke-width="2"/>
<rect x="1135" y="1988.4" width="17.6" height="17.6" fill="#000" stroke="#000" stroke-width="2"/>
<rect x="1191.1" y="1998.5" width="17.6" height="17.6" fill="#000" stroke="#000" stroke-width="2"/>
<rect x="1305.2" y="1989.8" width="17.6" height="17.6" fill="#000" stroke="#000" stroke-width="2"/>
<rect x="1374.9" y="1995.1" width="17.6" height="17.6" fill="#000" stroke="#000" stroke-width="2"/>
<rect x="1282.4" y="2026.8" width="17.6" height="17.6" fill="#000" stroke="#000" stroke-width="2"/>
<rect x="1337.5" y="2022.7" width="17.6" height="17.6" fill="#000" stroke="#000" stroke-width="2"/>
<rect x="1222" y="2069.2" width="17.6" height="17.6" fill="#000" stroke="#000" stroke-width="2"/>
<rect x="1292.1" y="2064.1" width="17.6" height="17.6" fill="#000" stroke="#000" stroke-width="2"/>
<rect x="1318.3" y="2069.2" width="17.6" height="17.6" fill="#000" stroke="#000" stroke-width="2"/>
<rect x="1180.6" y="2093.4" width="17.6" height="17.6" fill="#000" stroke="#000" stroke-width="2"/>
<rect x="1304.8" y="2087.3" width="17.6" height="17.6" fill="#000" stroke="#000" stroke-width="2"/>
<rect x="1153.8" y="2137.8" width="17.6" height="17.6" fill="#000" stroke="#000" stroke-width="2"/>
<line x1="1145.4" y1="2045.7" x2="1444.2" y2="1977" stroke="#000" stroke-width="5.6"/>
<rect x="1232.1" y="1917.9" width="16.5" height="16.5" fill="#a6a6a6" stroke="#000" stroke-width="2"/>
<rect x="1284" y="1965.1" width="16.5" height="16.5" fill="#a6a6a6" stroke="#000" stroke-width="2"/>
<rect x="1260.9" y="1998" width="16.5" height="16.5" fill="#a6a6a6" stroke="#000" stroke-width="2"/>
<rect x="1317.9" y="1994" width="16.5" height="16.5" fill="#a6a6a6" stroke="#000" stroke-width="2"/>
<rect x="1178.6" y="2005.5" width="16.5" height="16.5" fill="#a6a6a6" stroke="#000" stroke-width="2"/>
<rect x="1180.6" y="2010.2" width="16.5" height="16.5" fill="#a6a6a6" stroke="#000" stroke-width="2"/>
<rect x="1140.8" y="2045.1" width="16.5" height="16.5" fill="#a6a6a6" stroke="#000" stroke-width="2"/>
<rect x="1167.1" y="2053.6" width="16.5" height="16.5" fill="#a6a6a6" stroke="#000" stroke-width="2"/>
<rect x="1226" y="2043.9" width="16.5" height="16.5" fill="#a6a6a6" stroke="#000" stroke-width="2"/>
<rect x="1276.5" y="2058.6" width="16.5" height="16.5" fill="#a6a6a6" stroke="#000" stroke-width="2"/>
<rect x="1263.8" y="2072.7" width="16.5" height="16.5" fill="#a6a6a6" stroke="#000" stroke-width="2"/>
<rect x="1290.6" y="2086.3" width="16.5" height="16.5" fill="#a6a6a6" stroke="#000" stroke-width="2"/>
<rect x="1329" y="2104" width="16.5" height="16.5" fill="#a6a6a6" stroke="#000" stroke-width="2"/>
<rect x="1319.5" y="2105" width="16.5" height="16.5" fill="#a6a6a6" stroke="#000" stroke-width="2"/>
<rect x="1342.1" y="2120.2" width="16.5" height="16.5" fill="#a6a6a6" stroke="#000" stroke-width="2"/>
<rect x="1206.4" y="2116.6" width="16.5" height="16.5" fill="#a6a6a6" stroke="#000" stroke-width="2"/>
<rect x="1221" y="2116.6" width="16.5" height="16.5" fill="#a6a6a6" stroke="#000" stroke-width="2"/>
<rect x="1241.2" y="2117.8" width="16.5" height="16.5" fill="#a6a6a6" stroke="#000" stroke-width="2"/>
<rect x="1165.4" y="2131.9" width="16.5" height="16.5" fill="#a6a6a6" stroke="#000" stroke-width="2"/>
<rect x="1175.5" y="2132.3" width="16.5" height="16.5" fill="#a6a6a6" stroke="#000" stroke-width="2"/>
<rect x="1192.7" y="2129.9" width="16.5" height="16.5" fill="#a6a6a6" stroke="#000" stroke-width="2"/>
<rect x="1319.5" y="2139.4" width="16.5" height="16.5" fill="#a6a6a6" stroke="#000" stroke-width="2"/>
<rect x="1239.7" y="2145.4" width="16.5" height="16.5" fill="#a6a6a6" stroke="#000" stroke-width="2"/>
<line x1="1134.3" y1="2062.8" x2="1351" y2="2089.1" stroke="#a6a6a6" stroke-width="5.4" stroke-linecap="round"/>
<text x="1742.8" y="1857.3" font-size="26" font-weight="bold" text-anchor="middle">Behavior</text>
<rect x="1569.2" y="1878.1" width="7.5" height="307.3" fill="#262626"/>
<rect x="1573" y="2181.7" width="326.5" height="7.5" fill="#262626"/>
<rect x="1561.8" y="1908" width="8" height="7.5" fill="#262626"/>
<rect x="1561.8" y="1976.7" width="8" height="7.5" fill="#262626"/>
<rect x="1561.8" y="2045.2" width="8" height="7.5" fill="#262626"/>
<rect x="1561.8" y="2113.4" width="8" height="7.5" fill="#262626"/>
<rect x="1705.8" y="2188.7" width="7.5" height="8" fill="#262626"/>
<rect x="1887.7" y="2188.7" width="7.5" height="8" fill="#262626"/>
<text x="1558" y="1923.6" font-size="26" text-anchor="end" fill="#262626">0.1</text>
<text x="1558" y="1992.2" font-size="26" text-anchor="end" fill="#262626">0.08</text>
<text x="1558" y="2060.8" font-size="26" text-anchor="end" fill="#262626">0.06</text>
<text x="1558" y="2129" font-size="26" text-anchor="end" fill="#262626">0.04</text>
<text x="1703.5" y="2228.9" font-size="26" text-anchor="middle" fill="#262626">0.05</text>
<text x="1890" y="2228.9" font-size="26" text-anchor="middle" fill="#262626">0.1</text>
<text x="1752.2" y="2256.9" font-size="26" font-weight="bold" text-anchor="middle">HA/µm<tspan font-size="17.7" dy="-7.8">2</tspan><tspan dy="7.8" dx="-3"> TH</tspan></text>
<text x="1486.5" y="2011.5" font-size="26" font-weight="bold" text-anchor="middle" transform="rotate(-90 1486.5 2011.5)">Homer2/µm<tspan font-size="17.7" dy="-7.8">2</tspan><tspan dy="7.8" dx="-3"> TH</tspan></text>
<text x="1582.4" y="1888.8" font-size="22" font-weight="bold">4 Months</text>
<text x="1704.9" y="1908.8" font-size="58" font-weight="bold" text-anchor="middle">*</text>
<text x="1731.2" y="1908.8" font-size="58" font-weight="bold" text-anchor="middle">*</text>
<text x="1582.4" y="1915.4" font-size="22" font-weight="bold" fill="#a6a6a6">18 Months</text>
<text x="1704.9" y="1935.4" font-size="58" font-weight="bold" text-anchor="middle" fill="#a6a6a6">*</text>
<text x="1731.2" y="1935.4" font-size="58" font-weight="bold" text-anchor="middle" fill="#a6a6a6">*</text>
<text x="1757.5" y="1935.4" font-size="58" font-weight="bold" text-anchor="middle" fill="#a6a6a6">*</text>
<text x="1582.4" y="1942" font-size="22" font-weight="bold" fill="#7030a0">Combined</text>
<text x="1704.9" y="1962" font-size="58" font-weight="bold" text-anchor="middle" fill="#7030a0">*</text>
<text x="1731.2" y="1962" font-size="58" font-weight="bold" text-anchor="middle" fill="#7030a0">*</text>
<text x="1757.5" y="1962" font-size="58" font-weight="bold" text-anchor="middle" fill="#7030a0">*</text>
<line x1="1647.8" y1="2107.2" x2="1913.8" y2="1995.3" stroke="#7030a0" stroke-width="13" stroke-linecap="round"/>
<line x1="1722" y1="2081.6" x2="1913.8" y2="1999.6" stroke="#000" stroke-width="5.5" stroke-linecap="round"/>
<path d="M1914.2 1902.3L1927.5 1922.9L1900.9 1922.9Z" fill="#000" stroke="#000" stroke-width="2" stroke-linejoin="miter"/>
<path d="M1876.1 1970.9L1889.4 1992.6L1862.8 1992.6Z" fill="#000" stroke="#000" stroke-width="2" stroke-linejoin="miter"/>
<path d="M1841.3 1993.3L1854.6 2014.6L1828 2014.6Z" fill="#000" stroke="#000" stroke-width="2" stroke-linejoin="miter"/>
<path d="M1863.7 1989L1877 2008.6L1850.4 2008.6Z" fill="#000" stroke="#000" stroke-width="2" stroke-linejoin="miter"/>
<path d="M1745.4 2012.5L1758.7 2033.7L1732.1 2033.7Z" fill="#000" stroke="#000" stroke-width="2" stroke-linejoin="miter"/>
<path d="M1883.9 2007.1L1897.2 2027.8L1870.6 2027.8Z" fill="#000" stroke="#000" stroke-width="2" stroke-linejoin="miter"/>
<path d="M1911.7 2011.4L1925 2033.1L1898.4 2033.1Z" fill="#000" stroke="#000" stroke-width="2" stroke-linejoin="miter"/>
<path d="M1855.2 2019.9L1868.5 2041.2L1841.9 2041.2Z" fill="#000" stroke="#000" stroke-width="2" stroke-linejoin="miter"/>
<path d="M1837.1 2034.8L1850.4 2055.5L1823.8 2055.5Z" fill="#000" stroke="#000" stroke-width="2" stroke-linejoin="miter"/>
<path d="M1840.9 2041.2L1854.2 2062.5L1827.6 2062.5Z" fill="#000" stroke="#000" stroke-width="2" stroke-linejoin="miter"/>
<path d="M1787 2043.4L1800.3 2065.1L1773.7 2065.1Z" fill="#000" stroke="#000" stroke-width="2" stroke-linejoin="miter"/>
<path d="M1792.3 2045.5L1805.6 2066.1L1779 2066.1Z" fill="#000" stroke="#000" stroke-width="2" stroke-linejoin="miter"/>
<path d="M1749.7 2048.7L1763 2069.3L1736.4 2069.3Z" fill="#000" stroke="#000" stroke-width="2" stroke-linejoin="miter"/>
<path d="M1735.8 2070L1749.1 2090.6L1722.5 2090.6Z" fill="#000" stroke="#000" stroke-width="2" stroke-linejoin="miter"/>
<path d="M1728.4 2071.1L1741.7 2092.1L1715.1 2092.1Z" fill="#000" stroke="#000" stroke-width="2" stroke-linejoin="miter"/>
<path d="M1794.4 2070L1807.7 2090.6L1781.1 2090.6Z" fill="#000" stroke="#000" stroke-width="2" stroke-linejoin="miter"/>
<path d="M1888.2 1877.5L1901.5 1898.8L1874.9 1898.8Z" fill="#a6a6a6" stroke="#000" stroke-width="2" stroke-linejoin="miter"/>
<path d="M1876.5 1889.9L1889.8 1911L1863.2 1911Z" fill="#a6a6a6" stroke="#000" stroke-width="2" stroke-linejoin="miter"/>
<path d="M1795.9 1941.1L1809.2 1962.1L1782.6 1962.1Z" fill="#a6a6a6" stroke="#000" stroke-width="2" stroke-linejoin="miter"/>
<path d="M1829.2 1941.1L1842.5 1962.1L1815.9 1962.1Z" fill="#a6a6a6" stroke="#000" stroke-width="2" stroke-linejoin="miter"/>
<path d="M1804.7 1992.2L1818 2013.3L1791.4 2013.3Z" fill="#a6a6a6" stroke="#000" stroke-width="2" stroke-linejoin="miter"/>
<path d="M1710.3 2027.4L1723.6 2048.4L1697 2048.4Z" fill="#a6a6a6" stroke="#000" stroke-width="2" stroke-linejoin="miter"/>
<path d="M1796.1 2014.6L1809.4 2035.9L1782.8 2035.9Z" fill="#a6a6a6" stroke="#000" stroke-width="2" stroke-linejoin="miter"/>
<path d="M1861.6 1999.7L1874.9 2020.3L1848.3 2020.3Z" fill="#a6a6a6" stroke="#000" stroke-width="2" stroke-linejoin="miter"/>
<path d="M1818.3 2025.2L1831.6 2046.3L1805 2046.3Z" fill="#a6a6a6" stroke="#000" stroke-width="2" stroke-linejoin="miter"/>
<path d="M1713.4 2053.4L1726.7 2074.2L1700.1 2074.2Z" fill="#a6a6a6" stroke="#000" stroke-width="2" stroke-linejoin="miter"/>
<path d="M1803 2045.5L1816.3 2065.1L1789.7 2065.1Z" fill="#a6a6a6" stroke="#000" stroke-width="2" stroke-linejoin="miter"/>
<path d="M1770.6 2039.1L1783.9 2060.2L1757.3 2060.2Z" fill="#a6a6a6" stroke="#000" stroke-width="2" stroke-linejoin="miter"/>
<path d="M1751.8 2064.2L1765.1 2084.9L1738.5 2084.9Z" fill="#a6a6a6" stroke="#000" stroke-width="2" stroke-linejoin="miter"/>
<path d="M1801.9 2062.5L1815.2 2083.2L1788.6 2083.2Z" fill="#a6a6a6" stroke="#000" stroke-width="2" stroke-linejoin="miter"/>
<path d="M1657 2070.4L1670.3 2091.3L1643.7 2091.3Z" fill="#a6a6a6" stroke="#000" stroke-width="2" stroke-linejoin="miter"/>
<path d="M1740.5 2110.9L1753.8 2132.2L1727.2 2132.2Z" fill="#a6a6a6" stroke="#000" stroke-width="2" stroke-linejoin="miter"/>
<line x1="1657" y1="2128.5" x2="1888.9" y2="1945.3" stroke="#a6a6a6" stroke-width="6"/></svg></body></html>
